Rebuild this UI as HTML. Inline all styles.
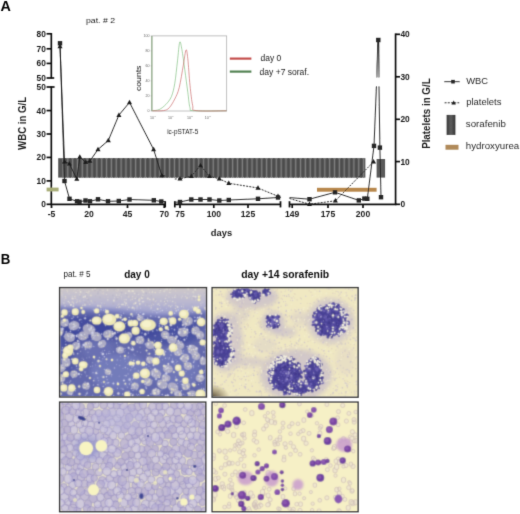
<!DOCTYPE html>
<html><head><meta charset="utf-8"><style>
html,body{margin:0;padding:0;background:#fff;width:520px;height:514px;overflow:hidden}
svg{position:absolute;left:0;top:0;font-family:"Liberation Sans", sans-serif}
.img{position:absolute;box-sizing:border-box;border:1.5px solid #333;overflow:hidden}
</style></head><body>
<svg width="520" height="514" viewBox="0 0 520 514">
<defs><filter id="gb" filterUnits="userSpaceOnUse" x="0" y="0" width="520" height="514"><feConvolveMatrix order="3" kernelMatrix="0.02 0.14 0.02 0.14 1 0.14 0.02 0.14 0.02" edgeMode="duplicate"/></filter></defs>
<rect x="0" y="0" width="520" height="514" fill="#fff"/>
<g filter="url(#gb)">
<text x="0.6" y="10.8" font-size="14" font-weight="bold" text-anchor="start" fill="#000" textLength="10.4" lengthAdjust="spacingAndGlyphs" >A</text>
<text x="86" y="23" font-size="7.6" font-weight="normal" text-anchor="start" fill="#222" textLength="29" lengthAdjust="spacingAndGlyphs" >pat. # 2</text>
<g stroke="#111" stroke-width="1.7" fill="none" stroke-linecap="butt">
<line x1="51.3" y1="33" x2="51.3" y2="78.5"/>
<line x1="51.3" y1="86.5" x2="51.3" y2="205.1"/>
<line x1="46.6" y1="33.8" x2="51.3" y2="33.8"/>
<line x1="46.6" y1="48.8" x2="51.3" y2="48.8"/>
<line x1="46.6" y1="63.4" x2="51.3" y2="63.4"/>
<line x1="46.6" y1="78" x2="54.2" y2="78"/>
<line x1="46.6" y1="87" x2="54.6" y2="87"/>
<line x1="46.6" y1="110.6" x2="51.3" y2="110.6"/>
<line x1="46.6" y1="134.0" x2="51.3" y2="134.0"/>
<line x1="46.6" y1="157.4" x2="51.3" y2="157.4"/>
<line x1="46.6" y1="180.9" x2="51.3" y2="180.9"/>
<line x1="46.6" y1="204.3" x2="51.3" y2="204.3"/>
<line x1="50.8" y1="204.3" x2="165.5" y2="204.3"/>
<line x1="174.5" y1="204.3" x2="280.8" y2="204.3"/>
<line x1="289.2" y1="204.3" x2="396.4" y2="204.3"/>
<line x1="165.2" y1="201.2" x2="165.2" y2="207.4"/>
<line x1="174.8" y1="201.2" x2="174.8" y2="207.4"/>
<line x1="280.5" y1="201.2" x2="280.5" y2="207.4"/>
<line x1="289.5" y1="201.2" x2="289.5" y2="207.4"/>
<line x1="51.5" y1="204.3" x2="51.5" y2="208"/>
<line x1="89" y1="204.3" x2="89" y2="208"/>
<line x1="127.5" y1="204.3" x2="127.5" y2="208"/>
<line x1="164.2" y1="204.3" x2="164.2" y2="208"/>
<line x1="180" y1="204.3" x2="180" y2="208"/>
<line x1="213.8" y1="204.3" x2="213.8" y2="208"/>
<line x1="248" y1="204.3" x2="248" y2="208"/>
<line x1="292.2" y1="204.3" x2="292.2" y2="208"/>
<line x1="328" y1="204.3" x2="328" y2="208"/>
<line x1="363" y1="204.3" x2="363" y2="208"/>
<line x1="395.6" y1="33.4" x2="395.6" y2="205.1"/>
<line x1="395.6" y1="34.3" x2="400" y2="34.3"/>
<line x1="395.6" y1="76.8" x2="400" y2="76.8"/>
<line x1="395.6" y1="119.3" x2="400" y2="119.3"/>
<line x1="395.6" y1="161.6" x2="400" y2="161.6"/>
<line x1="395.6" y1="204.3" x2="400" y2="204.3"/>
</g>
<text x="45.8" y="36.8" font-size="8.4" font-weight="bold" text-anchor="end" fill="#1a1a1a" >80</text>
<text x="45.8" y="51.8" font-size="8.4" font-weight="bold" text-anchor="end" fill="#1a1a1a" >70</text>
<text x="45.8" y="66.4" font-size="8.4" font-weight="bold" text-anchor="end" fill="#1a1a1a" >60</text>
<text x="45.8" y="80.6" font-size="8.4" font-weight="bold" text-anchor="end" fill="#1a1a1a" >50</text>
<text x="45.8" y="90.2" font-size="8.4" font-weight="bold" text-anchor="end" fill="#1a1a1a" >50</text>
<text x="45.8" y="113.6" font-size="8.4" font-weight="bold" text-anchor="end" fill="#1a1a1a" >40</text>
<text x="45.8" y="137.0" font-size="8.4" font-weight="bold" text-anchor="end" fill="#1a1a1a" >30</text>
<text x="45.8" y="160.4" font-size="8.4" font-weight="bold" text-anchor="end" fill="#1a1a1a" >20</text>
<text x="45.8" y="183.9" font-size="8.4" font-weight="bold" text-anchor="end" fill="#1a1a1a" >10</text>
<text x="45.8" y="207.3" font-size="8.4" font-weight="bold" text-anchor="end" fill="#1a1a1a" >0</text>
<text x="51.5" y="217.3" font-size="8.6" font-weight="bold" text-anchor="middle" fill="#1a1a1a" >-5</text>
<text x="89" y="217.3" font-size="8.6" font-weight="bold" text-anchor="middle" fill="#1a1a1a" >20</text>
<text x="127.5" y="217.3" font-size="8.6" font-weight="bold" text-anchor="middle" fill="#1a1a1a" >45</text>
<text x="164.2" y="217.3" font-size="8.6" font-weight="bold" text-anchor="middle" fill="#1a1a1a" >70</text>
<text x="180" y="217.3" font-size="8.6" font-weight="bold" text-anchor="middle" fill="#1a1a1a" >75</text>
<text x="213.8" y="217.3" font-size="8.6" font-weight="bold" text-anchor="middle" fill="#1a1a1a" >100</text>
<text x="248" y="217.3" font-size="8.6" font-weight="bold" text-anchor="middle" fill="#1a1a1a" >125</text>
<text x="292.2" y="217.3" font-size="8.6" font-weight="bold" text-anchor="middle" fill="#1a1a1a" >149</text>
<text x="328" y="217.3" font-size="8.6" font-weight="bold" text-anchor="middle" fill="#1a1a1a" >175</text>
<text x="363" y="217.3" font-size="8.6" font-weight="bold" text-anchor="middle" fill="#1a1a1a" >200</text>
<text x="400.4" y="37.3" font-size="8.4" font-weight="bold" text-anchor="start" fill="#1a1a1a" >40</text>
<text x="400.4" y="79.8" font-size="8.4" font-weight="bold" text-anchor="start" fill="#1a1a1a" >30</text>
<text x="400.4" y="122.3" font-size="8.4" font-weight="bold" text-anchor="start" fill="#1a1a1a" >20</text>
<text x="400.4" y="164.6" font-size="8.4" font-weight="bold" text-anchor="start" fill="#1a1a1a" >10</text>
<text x="400.4" y="207.3" font-size="8.4" font-weight="bold" text-anchor="start" fill="#1a1a1a" >0</text>
<text x="25.9" y="123.4" font-size="10.2" font-weight="bold" text-anchor="middle" fill="#1a1a1a" textLength="53" lengthAdjust="spacingAndGlyphs" transform="rotate(-90 25.9 123.4)" >WBC in G/L</text>
<text x="429.9" y="113.6" font-size="10.4" font-weight="bold" text-anchor="middle" fill="#1a1a1a" textLength="70.5" lengthAdjust="spacingAndGlyphs" transform="rotate(-90 429.9 113.6)" >Platelets in G/L</text>
<text x="210.8" y="235.6" font-size="9.5" font-weight="bold" text-anchor="start" fill="#1a1a1a" textLength="21.3" lengthAdjust="spacingAndGlyphs" >days</text>
<rect x="58.2" y="158.2" width="307.10" height="19.40" fill="#555555"/>
<rect x="62.30" y="158.2" width="1.20" height="19.40" fill="#7c7c7c"/>
<rect x="64.50" y="158.2" width="1.60" height="19.40" fill="#4c4c4c"/>
<rect x="67.15" y="158.2" width="1.20" height="19.40" fill="#7c7c7c"/>
<rect x="69.35" y="158.2" width="1.60" height="19.40" fill="#4c4c4c"/>
<rect x="72.00" y="158.2" width="1.20" height="19.40" fill="#7c7c7c"/>
<rect x="74.20" y="158.2" width="1.60" height="19.40" fill="#4c4c4c"/>
<rect x="76.85" y="158.2" width="1.20" height="19.40" fill="#7c7c7c"/>
<rect x="79.05" y="158.2" width="1.60" height="19.40" fill="#4c4c4c"/>
<rect x="81.70" y="158.2" width="1.20" height="19.40" fill="#7c7c7c"/>
<rect x="83.90" y="158.2" width="1.60" height="19.40" fill="#4c4c4c"/>
<rect x="86.55" y="158.2" width="1.20" height="19.40" fill="#7c7c7c"/>
<rect x="88.75" y="158.2" width="1.60" height="19.40" fill="#4c4c4c"/>
<rect x="91.40" y="158.2" width="1.20" height="19.40" fill="#7c7c7c"/>
<rect x="93.60" y="158.2" width="1.60" height="19.40" fill="#4c4c4c"/>
<rect x="96.25" y="158.2" width="1.20" height="19.40" fill="#7c7c7c"/>
<rect x="98.45" y="158.2" width="1.60" height="19.40" fill="#4c4c4c"/>
<rect x="101.10" y="158.2" width="1.20" height="19.40" fill="#7c7c7c"/>
<rect x="103.30" y="158.2" width="1.60" height="19.40" fill="#4c4c4c"/>
<rect x="105.95" y="158.2" width="1.20" height="19.40" fill="#7c7c7c"/>
<rect x="108.15" y="158.2" width="1.60" height="19.40" fill="#4c4c4c"/>
<rect x="110.80" y="158.2" width="1.20" height="19.40" fill="#7c7c7c"/>
<rect x="113.00" y="158.2" width="1.60" height="19.40" fill="#4c4c4c"/>
<rect x="115.65" y="158.2" width="1.20" height="19.40" fill="#7c7c7c"/>
<rect x="117.85" y="158.2" width="1.60" height="19.40" fill="#4c4c4c"/>
<rect x="120.50" y="158.2" width="1.20" height="19.40" fill="#7c7c7c"/>
<rect x="122.70" y="158.2" width="1.60" height="19.40" fill="#4c4c4c"/>
<rect x="125.35" y="158.2" width="1.20" height="19.40" fill="#7c7c7c"/>
<rect x="127.55" y="158.2" width="1.60" height="19.40" fill="#4c4c4c"/>
<rect x="130.20" y="158.2" width="1.20" height="19.40" fill="#7c7c7c"/>
<rect x="132.40" y="158.2" width="1.60" height="19.40" fill="#4c4c4c"/>
<rect x="135.05" y="158.2" width="1.20" height="19.40" fill="#7c7c7c"/>
<rect x="137.25" y="158.2" width="1.60" height="19.40" fill="#4c4c4c"/>
<rect x="139.90" y="158.2" width="1.20" height="19.40" fill="#7c7c7c"/>
<rect x="142.10" y="158.2" width="1.60" height="19.40" fill="#4c4c4c"/>
<rect x="144.75" y="158.2" width="1.20" height="19.40" fill="#7c7c7c"/>
<rect x="146.95" y="158.2" width="1.60" height="19.40" fill="#4c4c4c"/>
<rect x="149.60" y="158.2" width="1.20" height="19.40" fill="#7c7c7c"/>
<rect x="151.80" y="158.2" width="1.60" height="19.40" fill="#4c4c4c"/>
<rect x="154.45" y="158.2" width="1.20" height="19.40" fill="#7c7c7c"/>
<rect x="156.65" y="158.2" width="1.60" height="19.40" fill="#4c4c4c"/>
<rect x="159.30" y="158.2" width="1.20" height="19.40" fill="#7c7c7c"/>
<rect x="161.50" y="158.2" width="1.60" height="19.40" fill="#4c4c4c"/>
<rect x="164.15" y="158.2" width="1.20" height="19.40" fill="#7c7c7c"/>
<rect x="166.35" y="158.2" width="1.60" height="19.40" fill="#4c4c4c"/>
<rect x="169.00" y="158.2" width="1.20" height="19.40" fill="#7c7c7c"/>
<rect x="171.20" y="158.2" width="1.60" height="19.40" fill="#4c4c4c"/>
<rect x="173.85" y="158.2" width="1.20" height="19.40" fill="#7c7c7c"/>
<rect x="176.05" y="158.2" width="1.60" height="19.40" fill="#4c4c4c"/>
<rect x="178.70" y="158.2" width="1.20" height="19.40" fill="#7c7c7c"/>
<rect x="180.90" y="158.2" width="1.60" height="19.40" fill="#4c4c4c"/>
<rect x="183.55" y="158.2" width="1.20" height="19.40" fill="#7c7c7c"/>
<rect x="185.75" y="158.2" width="1.60" height="19.40" fill="#4c4c4c"/>
<rect x="188.40" y="158.2" width="1.20" height="19.40" fill="#7c7c7c"/>
<rect x="190.60" y="158.2" width="1.60" height="19.40" fill="#4c4c4c"/>
<rect x="193.25" y="158.2" width="1.20" height="19.40" fill="#7c7c7c"/>
<rect x="195.45" y="158.2" width="1.60" height="19.40" fill="#4c4c4c"/>
<rect x="198.10" y="158.2" width="1.20" height="19.40" fill="#7c7c7c"/>
<rect x="200.30" y="158.2" width="1.60" height="19.40" fill="#4c4c4c"/>
<rect x="202.95" y="158.2" width="1.20" height="19.40" fill="#7c7c7c"/>
<rect x="205.15" y="158.2" width="1.60" height="19.40" fill="#4c4c4c"/>
<rect x="207.80" y="158.2" width="1.20" height="19.40" fill="#7c7c7c"/>
<rect x="210.00" y="158.2" width="1.60" height="19.40" fill="#4c4c4c"/>
<rect x="212.65" y="158.2" width="1.20" height="19.40" fill="#7c7c7c"/>
<rect x="214.85" y="158.2" width="1.60" height="19.40" fill="#4c4c4c"/>
<rect x="217.50" y="158.2" width="1.20" height="19.40" fill="#7c7c7c"/>
<rect x="219.70" y="158.2" width="1.60" height="19.40" fill="#4c4c4c"/>
<rect x="222.35" y="158.2" width="1.20" height="19.40" fill="#7c7c7c"/>
<rect x="224.55" y="158.2" width="1.60" height="19.40" fill="#4c4c4c"/>
<rect x="227.20" y="158.2" width="1.20" height="19.40" fill="#7c7c7c"/>
<rect x="229.40" y="158.2" width="1.60" height="19.40" fill="#4c4c4c"/>
<rect x="232.05" y="158.2" width="1.20" height="19.40" fill="#7c7c7c"/>
<rect x="234.25" y="158.2" width="1.60" height="19.40" fill="#4c4c4c"/>
<rect x="236.90" y="158.2" width="1.20" height="19.40" fill="#7c7c7c"/>
<rect x="239.10" y="158.2" width="1.60" height="19.40" fill="#4c4c4c"/>
<rect x="241.75" y="158.2" width="1.20" height="19.40" fill="#7c7c7c"/>
<rect x="243.95" y="158.2" width="1.60" height="19.40" fill="#4c4c4c"/>
<rect x="246.60" y="158.2" width="1.20" height="19.40" fill="#7c7c7c"/>
<rect x="248.80" y="158.2" width="1.60" height="19.40" fill="#4c4c4c"/>
<rect x="251.45" y="158.2" width="1.20" height="19.40" fill="#7c7c7c"/>
<rect x="253.65" y="158.2" width="1.60" height="19.40" fill="#4c4c4c"/>
<rect x="256.30" y="158.2" width="1.20" height="19.40" fill="#7c7c7c"/>
<rect x="258.50" y="158.2" width="1.60" height="19.40" fill="#4c4c4c"/>
<rect x="261.15" y="158.2" width="1.20" height="19.40" fill="#7c7c7c"/>
<rect x="263.35" y="158.2" width="1.60" height="19.40" fill="#4c4c4c"/>
<rect x="266.00" y="158.2" width="1.20" height="19.40" fill="#7c7c7c"/>
<rect x="268.20" y="158.2" width="1.60" height="19.40" fill="#4c4c4c"/>
<rect x="270.85" y="158.2" width="1.20" height="19.40" fill="#7c7c7c"/>
<rect x="273.05" y="158.2" width="1.60" height="19.40" fill="#4c4c4c"/>
<rect x="275.70" y="158.2" width="1.20" height="19.40" fill="#7c7c7c"/>
<rect x="277.90" y="158.2" width="1.60" height="19.40" fill="#4c4c4c"/>
<rect x="280.55" y="158.2" width="1.20" height="19.40" fill="#7c7c7c"/>
<rect x="282.75" y="158.2" width="1.60" height="19.40" fill="#4c4c4c"/>
<rect x="285.40" y="158.2" width="1.20" height="19.40" fill="#7c7c7c"/>
<rect x="287.60" y="158.2" width="1.60" height="19.40" fill="#4c4c4c"/>
<rect x="290.25" y="158.2" width="1.20" height="19.40" fill="#7c7c7c"/>
<rect x="292.45" y="158.2" width="1.60" height="19.40" fill="#4c4c4c"/>
<rect x="295.10" y="158.2" width="1.20" height="19.40" fill="#7c7c7c"/>
<rect x="297.30" y="158.2" width="1.60" height="19.40" fill="#4c4c4c"/>
<rect x="299.95" y="158.2" width="1.20" height="19.40" fill="#7c7c7c"/>
<rect x="302.15" y="158.2" width="1.60" height="19.40" fill="#4c4c4c"/>
<rect x="304.80" y="158.2" width="1.20" height="19.40" fill="#7c7c7c"/>
<rect x="307.00" y="158.2" width="1.60" height="19.40" fill="#4c4c4c"/>
<rect x="309.65" y="158.2" width="1.20" height="19.40" fill="#7c7c7c"/>
<rect x="311.85" y="158.2" width="1.60" height="19.40" fill="#4c4c4c"/>
<rect x="314.50" y="158.2" width="1.20" height="19.40" fill="#7c7c7c"/>
<rect x="316.70" y="158.2" width="1.60" height="19.40" fill="#4c4c4c"/>
<rect x="319.35" y="158.2" width="1.20" height="19.40" fill="#7c7c7c"/>
<rect x="321.55" y="158.2" width="1.60" height="19.40" fill="#4c4c4c"/>
<rect x="324.20" y="158.2" width="1.20" height="19.40" fill="#7c7c7c"/>
<rect x="326.40" y="158.2" width="1.60" height="19.40" fill="#4c4c4c"/>
<rect x="329.05" y="158.2" width="1.20" height="19.40" fill="#7c7c7c"/>
<rect x="331.25" y="158.2" width="1.60" height="19.40" fill="#4c4c4c"/>
<rect x="333.90" y="158.2" width="1.20" height="19.40" fill="#7c7c7c"/>
<rect x="336.10" y="158.2" width="1.60" height="19.40" fill="#4c4c4c"/>
<rect x="338.75" y="158.2" width="1.20" height="19.40" fill="#7c7c7c"/>
<rect x="340.95" y="158.2" width="1.60" height="19.40" fill="#4c4c4c"/>
<rect x="343.60" y="158.2" width="1.20" height="19.40" fill="#7c7c7c"/>
<rect x="345.80" y="158.2" width="1.60" height="19.40" fill="#4c4c4c"/>
<rect x="348.45" y="158.2" width="1.20" height="19.40" fill="#7c7c7c"/>
<rect x="350.65" y="158.2" width="1.60" height="19.40" fill="#4c4c4c"/>
<rect x="353.30" y="158.2" width="1.20" height="19.40" fill="#7c7c7c"/>
<rect x="355.50" y="158.2" width="1.60" height="19.40" fill="#4c4c4c"/>
<rect x="358.15" y="158.2" width="1.20" height="19.40" fill="#7c7c7c"/>
<rect x="360.35" y="158.2" width="1.60" height="19.40" fill="#4c4c4c"/>
<rect x="363.00" y="158.2" width="1.20" height="19.40" fill="#7c7c7c"/>
<rect x="365.20" y="158.2" width="0.10" height="19.40" fill="#4c4c4c"/>
<rect x="376.6" y="159.0" width="8.5" height="18.6" fill="#5a5a5a"/>
<rect x="46.6" y="187.6" width="12" height="3.8" fill="#a8ad78"/>
<rect x="317" y="187.8" width="59.6" height="3.9" fill="#b8884e"/>
<polyline points="60,43.3 64.5,181 69.5,198.8 77,201.3 79.5,201.8 85.5,200.5 90,201.3 98,199.3 108,201.3 118.8,201 129.5,199.5 153.8,200.3 161.3,201.5 165.2,201.6" fill="none" stroke="#1a1a1a" stroke-width="0.9"/>
<polyline points="60,46.5 64.5,161.6 69.4,163.8 76.8,179 79.8,157 85.7,162.3 89.9,161 98,149.4 108.3,140.5 118.9,115.1 129.5,102.4 153.6,149.4 161.8,175.4 165.2,176" fill="none" stroke="#1a1a1a" stroke-width="0.9"/>
<polyline points="174.8,202.2 180,202 191.3,199.5 200.5,199.5 209.5,199.5 219.3,200.5 228.8,200 258,198.8 278,197.5 280.5,197.5" fill="none" stroke="#1a1a1a" stroke-width="0.9"/>
<polyline points="174.8,179 180,178.8 191.3,176.3 200.5,165.5 209.5,176.3 219.3,178.8 228.8,183.3 258,188 278,196.3 280.5,197" fill="none" stroke="#1a1a1a" stroke-width="0.9" stroke-dasharray="2,1.2"/>
<polyline points="289.5,197.6 309.5,199.2 335,192.3 358.8,200.4 364.4,198.6 367.3,198.8 374,145.9 378.3,40 379.9,147.6 381,197.2" fill="none" stroke="#1a1a1a" stroke-width="0.9"/>
<polyline points="289.5,198.5 309.5,204.2 335.4,200.8 373.5,161.8" fill="none" stroke="#1a1a1a" stroke-width="0.9" stroke-dasharray="2,1.2"/>
<defs><linearGradient id="wg" x1="0" y1="0" x2="0" y2="1"><stop offset="0" stop-color="#222"/><stop offset="1" stop-color="#aaa"/></linearGradient></defs>
<polygon points="377.4,42 379.2,42 379.8,77.6 376.0,77.6" fill="url(#wg)"/>
<rect x="370" y="77.5" width="14" height="8.5" fill="#fff"/>
<polygon points="60.00,43.80 57.50,48.30 62.50,48.30" fill="#1a1a1a"/>
<polygon points="64.50,158.90 62.00,163.40 67.00,163.40" fill="#1a1a1a"/>
<polygon points="69.40,161.10 66.90,165.60 71.90,165.60" fill="#1a1a1a"/>
<polygon points="76.80,176.30 74.30,180.80 79.30,180.80" fill="#1a1a1a"/>
<polygon points="79.80,154.30 77.30,158.80 82.30,158.80" fill="#1a1a1a"/>
<polygon points="85.70,159.60 83.20,164.10 88.20,164.10" fill="#1a1a1a"/>
<polygon points="89.90,158.30 87.40,162.80 92.40,162.80" fill="#1a1a1a"/>
<polygon points="98.00,146.70 95.50,151.20 100.50,151.20" fill="#1a1a1a"/>
<polygon points="108.30,137.80 105.80,142.30 110.80,142.30" fill="#1a1a1a"/>
<polygon points="118.90,112.40 116.40,116.90 121.40,116.90" fill="#1a1a1a"/>
<polygon points="129.50,99.70 127.00,104.20 132.00,104.20" fill="#1a1a1a"/>
<polygon points="153.60,146.70 151.10,151.20 156.10,151.20" fill="#1a1a1a"/>
<polygon points="161.80,172.70 159.30,177.20 164.30,177.20" fill="#1a1a1a"/>
<polygon points="180.00,176.10 177.50,180.60 182.50,180.60" fill="#1a1a1a"/>
<polygon points="191.30,173.60 188.80,178.10 193.80,178.10" fill="#1a1a1a"/>
<polygon points="200.50,162.80 198.00,167.30 203.00,167.30" fill="#1a1a1a"/>
<polygon points="209.50,173.60 207.00,178.10 212.00,178.10" fill="#1a1a1a"/>
<polygon points="219.30,176.10 216.80,180.60 221.80,180.60" fill="#1a1a1a"/>
<polygon points="228.80,180.60 226.30,185.10 231.30,185.10" fill="#1a1a1a"/>
<polygon points="258.00,185.30 255.50,189.80 260.50,189.80" fill="#1a1a1a"/>
<polygon points="278.00,193.60 275.50,198.10 280.50,198.10" fill="#1a1a1a"/>
<polygon points="309.50,201.50 307.00,206.00 312.00,206.00" fill="#1a1a1a"/>
<polygon points="335.40,198.10 332.90,202.60 337.90,202.60" fill="#1a1a1a"/>
<polygon points="373.50,159.10 371.00,163.60 376.00,163.60" fill="#1a1a1a"/>
<rect x="57.80" y="41.10" width="4.4" height="4.4" fill="#262626"/>
<rect x="62.30" y="178.80" width="4.4" height="4.4" fill="#262626"/>
<rect x="67.30" y="196.60" width="4.4" height="4.4" fill="#262626"/>
<rect x="74.80" y="199.10" width="4.4" height="4.4" fill="#262626"/>
<rect x="77.30" y="199.60" width="4.4" height="4.4" fill="#262626"/>
<rect x="83.30" y="198.30" width="4.4" height="4.4" fill="#262626"/>
<rect x="87.80" y="199.10" width="4.4" height="4.4" fill="#262626"/>
<rect x="95.80" y="197.10" width="4.4" height="4.4" fill="#262626"/>
<rect x="105.80" y="199.10" width="4.4" height="4.4" fill="#262626"/>
<rect x="116.60" y="198.80" width="4.4" height="4.4" fill="#262626"/>
<rect x="127.30" y="197.30" width="4.4" height="4.4" fill="#262626"/>
<rect x="151.60" y="198.10" width="4.4" height="4.4" fill="#262626"/>
<rect x="159.10" y="199.30" width="4.4" height="4.4" fill="#262626"/>
<rect x="177.80" y="199.80" width="4.4" height="4.4" fill="#262626"/>
<rect x="189.10" y="197.30" width="4.4" height="4.4" fill="#262626"/>
<rect x="198.30" y="197.30" width="4.4" height="4.4" fill="#262626"/>
<rect x="207.30" y="197.30" width="4.4" height="4.4" fill="#262626"/>
<rect x="217.10" y="198.30" width="4.4" height="4.4" fill="#262626"/>
<rect x="226.60" y="197.80" width="4.4" height="4.4" fill="#262626"/>
<rect x="255.80" y="196.60" width="4.4" height="4.4" fill="#262626"/>
<rect x="275.80" y="195.30" width="4.4" height="4.4" fill="#262626"/>
<rect x="307.30" y="197.00" width="4.4" height="4.4" fill="#262626"/>
<rect x="332.80" y="190.10" width="4.4" height="4.4" fill="#262626"/>
<rect x="356.60" y="198.20" width="4.4" height="4.4" fill="#262626"/>
<rect x="362.20" y="196.40" width="4.4" height="4.4" fill="#262626"/>
<rect x="365.10" y="196.60" width="4.4" height="4.4" fill="#262626"/>
<rect x="371.80" y="143.70" width="4.4" height="4.4" fill="#262626"/>
<rect x="376.10" y="37.80" width="4.4" height="4.4" fill="#262626"/>
<rect x="377.70" y="145.40" width="4.4" height="4.4" fill="#262626"/>
<rect x="378.80" y="195.00" width="4.4" height="4.4" fill="#262626"/>
<rect x="151.9" y="35.9" width="74.8" height="75.1" fill="none" stroke="#a8a8a8" stroke-width="0.7"/>
<line x1="151.9" y1="36" x2="151.9" y2="111" stroke="#7aa070" stroke-width="0.9"/>
<text x="149.5" y="37.2" font-size="3.6" font-weight="normal" text-anchor="end" fill="#666" >100</text>
<line x1="150.6" y1="36" x2="151.9" y2="36" stroke="#999" stroke-width="0.5"/>
<text x="149.5" y="52.1" font-size="3.6" font-weight="normal" text-anchor="end" fill="#666" >80</text>
<line x1="150.6" y1="50.9" x2="151.9" y2="50.9" stroke="#999" stroke-width="0.5"/>
<text x="149.5" y="67.10000000000001" font-size="3.6" font-weight="normal" text-anchor="end" fill="#666" >60</text>
<line x1="150.6" y1="65.9" x2="151.9" y2="65.9" stroke="#999" stroke-width="0.5"/>
<text x="149.5" y="82.10000000000001" font-size="3.6" font-weight="normal" text-anchor="end" fill="#666" >40</text>
<line x1="150.6" y1="80.9" x2="151.9" y2="80.9" stroke="#999" stroke-width="0.5"/>
<text x="149.5" y="97.10000000000001" font-size="3.6" font-weight="normal" text-anchor="end" fill="#666" >20</text>
<line x1="150.6" y1="95.9" x2="151.9" y2="95.9" stroke="#999" stroke-width="0.5"/>
<text x="149.5" y="112.10000000000001" font-size="3.6" font-weight="normal" text-anchor="end" fill="#666" >0</text>
<line x1="150.6" y1="110.9" x2="151.9" y2="110.9" stroke="#999" stroke-width="0.5"/>
<text x="152.0" y="118.6" font-size="3.6" font-weight="normal" text-anchor="middle" fill="#666" >10</text>
<text x="154.4" y="116.6" font-size="2.4" font-weight="normal" text-anchor="start" fill="#666" >0</text>
<text x="169.9" y="118.6" font-size="3.6" font-weight="normal" text-anchor="middle" fill="#666" >10</text>
<text x="172.3" y="116.6" font-size="2.4" font-weight="normal" text-anchor="start" fill="#666" >1</text>
<text x="188.9" y="118.6" font-size="3.6" font-weight="normal" text-anchor="middle" fill="#666" >10</text>
<text x="191.3" y="116.6" font-size="2.4" font-weight="normal" text-anchor="start" fill="#666" >2</text>
<text x="206.8" y="118.6" font-size="3.6" font-weight="normal" text-anchor="middle" fill="#666" >10</text>
<text x="209.20000000000002" y="116.6" font-size="2.4" font-weight="normal" text-anchor="start" fill="#666" >3</text>
<text x="141.4" y="78.3" font-size="8.0" font-weight="normal" text-anchor="middle" fill="#111" textLength="25.5" lengthAdjust="spacingAndGlyphs" transform="rotate(-90 141.4 78.3)" >counts</text>
<text x="167.2" y="133.6" font-size="7.4" font-weight="normal" text-anchor="start" fill="#222" textLength="31" lengthAdjust="spacingAndGlyphs" >ic-pSTAT-5</text>
<path d="M152.4,110.7 C153.52,110.52 156.87,110.63 159.1,109.6 C161.33,108.57 163.75,106.67 165.8,104.5 C167.85,102.33 169.90,100.15 171.4,96.6 C172.90,93.05 173.78,89.17 174.8,83.2 C175.82,77.23 176.68,67.63 177.5,60.8 C178.32,53.97 178.97,44.07 179.7,42.2 C180.43,40.33 181.05,45.00 181.9,49.6 C182.75,54.20 183.82,62.70 184.8,69.8 C185.78,76.90 186.93,85.87 187.8,92.2 C188.67,98.53 189.00,104.72 190,107.8 C191.00,110.88 187.72,110.20 193.8,110.7 C199.88,111.20 221.05,110.78 226.5,110.8" fill="none" stroke="#7cbc7c" stroke-width="0.65"/>
<path d="M152.4,110.8 C154.27,110.77 160.80,111.10 163.6,110.6 C166.40,110.10 167.33,109.75 169.2,107.8 C171.07,105.85 173.13,102.25 174.8,98.9 C176.47,95.55 177.78,93.30 179.2,87.7 C180.62,82.10 182.17,71.58 183.3,65.3 C184.43,59.02 185.25,51.12 186,50.0 C186.75,48.88 187.13,52.70 187.8,58.6 C188.47,64.50 189.18,77.57 190,85.4 C190.82,93.23 191.70,101.40 192.7,105.6 C193.70,109.80 190.37,109.73 196,110.6 C201.63,111.47 221.42,110.77 226.5,110.8" fill="none" stroke="#c86464" stroke-width="0.65"/>
<line x1="229.8" y1="58.6" x2="251.4" y2="58.6" stroke="#c4504e" stroke-width="2.2"/>
<line x1="229.8" y1="71.6" x2="251.4" y2="71.6" stroke="#558355" stroke-width="2.2"/>
<text x="260.5" y="61.3" font-size="8.6" font-weight="normal" text-anchor="start" fill="#222" textLength="20.7" lengthAdjust="spacingAndGlyphs" >day 0</text>
<text x="259.6" y="74.8" font-size="8.6" font-weight="normal" text-anchor="start" fill="#222" textLength="49.5" lengthAdjust="spacingAndGlyphs" >day +7 soraf.</text>
<line x1="444.3" y1="81.7" x2="459.7" y2="81.7" stroke="#222" stroke-width="0.9"/>
<rect x="451.20" y="79.90" width="3.6" height="3.6" fill="#262626"/>
<line x1="444.6" y1="102.8" x2="459.2" y2="102.8" stroke="#222" stroke-width="0.9" stroke-dasharray="2,1.2"/>
<polygon points="453.70,100.42 451.50,104.38 455.90,104.38" fill="#1a1a1a"/>
<defs><linearGradient id="sg" x1="0" x2="1"><stop offset="0" stop-color="#3a3a3a"/><stop offset="0.5" stop-color="#5e5e5e"/><stop offset="1" stop-color="#333"/></linearGradient></defs>
<rect x="446.6" y="114.9" width="8.8" height="20" fill="url(#sg)"/>
<rect x="445.5" y="144.8" width="13" height="4.9" fill="#b08a5a"/>
<text x="466.2" y="84.0" font-size="9.3" font-weight="normal" text-anchor="start" fill="#2a2a2a" textLength="21.8" lengthAdjust="spacingAndGlyphs" >WBC</text>
<text x="466.2" y="105.2" font-size="9.3" font-weight="normal" text-anchor="start" fill="#2a2a2a" textLength="35.3" lengthAdjust="spacingAndGlyphs" >platelets</text>
<text x="465.8" y="127.2" font-size="9.3" font-weight="normal" text-anchor="start" fill="#2a2a2a" textLength="40" lengthAdjust="spacingAndGlyphs" >sorafenib</text>
<text x="465.8" y="149.2" font-size="9.3" font-weight="normal" text-anchor="start" fill="#2a2a2a" textLength="53.4" lengthAdjust="spacingAndGlyphs" >hydroxyurea</text>
<text x="0.8" y="264.4" font-size="14" font-weight="bold" text-anchor="start" fill="#000" textLength="9.6" lengthAdjust="spacingAndGlyphs" >B</text>
<text x="63.6" y="276.6" font-size="8.3" font-weight="normal" text-anchor="start" fill="#222" textLength="27.0" lengthAdjust="spacingAndGlyphs" >pat. # 5</text>
<text x="124.2" y="277.8" font-size="10.2" font-weight="bold" text-anchor="start" fill="#111" textLength="25.6" lengthAdjust="spacingAndGlyphs" >day 0</text>
<text x="241.2" y="277.9" font-size="10.4" font-weight="bold" text-anchor="start" fill="#111" textLength="88" lengthAdjust="spacingAndGlyphs" >day +14 sorafenib</text>
<defs><linearGradient id="g1" x1="0" y1="0" x2="0" y2="1"><stop offset="0" stop-color="#d0c9c4"/><stop offset="0.35" stop-color="#c6c2ce"/><stop offset="0.7" stop-color="#b6b4d0"/><stop offset="1" stop-color="#a0a2ce"/></linearGradient><clipPath id="c1"><rect x="60.3" y="288.3" width="145.5" height="108.0"/></clipPath><filter id="b1" x="-5%" y="-5%" width="110%" height="110%"><feConvolveMatrix order="3" kernelMatrix="0.03 0.18 0.03 0.18 1 0.18 0.03 0.18 0.03" edgeMode="duplicate"/></filter><filter id="b1b" x="-5%" y="-5%" width="110%" height="110%"><feGaussianBlur stdDeviation="2.0"/></filter><filter id="b1c" x="-5%" y="-5%" width="110%" height="110%"><feGaussianBlur stdDeviation="1.6"/></filter></defs>
<g clip-path="url(#c1)"><g filter="url(#b1)">
<rect x="58.3" y="286.3" width="149.5" height="112.0" fill="#6369ac"/>
<g filter="url(#b1b)">
<path d="M56,300 L60,309 C80,310 100,311 120,313 C140,316 160,317 180,316 C195,314 205,312 210,311 L210,300 Z" fill="#8e92c8"/>
</g><g filter="url(#b1c)">
<path d="M56,284 L56,305.5 C70,306 90,307 110,308 C130,309.5 140,312 160,313 C180,313 195,310 210,308 L210,284 Z" fill="url(#g1)"/>
</g>
<g filter="url(#b1b)">
<ellipse cx="120" cy="372" rx="30" ry="18" fill="#7a82c0" opacity="0.7"/>
<ellipse cx="175" cy="368" rx="25" ry="20" fill="#7880be" opacity="0.6"/>
<ellipse cx="98" cy="350" rx="15" ry="10" fill="#7078ba" opacity="0.5"/>
<ellipse cx="70" cy="340" rx="10" ry="14" fill="#424a9c" opacity="0.8"/>
<ellipse cx="120" cy="330" rx="40" ry="10" fill="#40489c" opacity="0.8"/>
<ellipse cx="170" cy="335" rx="30" ry="10" fill="#40489c" opacity="0.7"/>
<ellipse cx="85" cy="328" rx="28" ry="12" fill="#40489c" opacity="0.8"/>
<ellipse cx="185" cy="325" rx="18" ry="8" fill="#464ea0" opacity="0.7"/>
<ellipse cx="68" cy="365" rx="8" ry="14" fill="#464e9e" opacity="0.6"/>
</g>
<path d="M126.1 299.7h0M143.6 301.5h0M167.2 301.1h0M85.0 305.3h0M128.9 307.3h0M142.4 301.8h0M190.2 297.2h0M151.3 307.8h0M107.4 290.0h0M76.0 292.6h0M124.7 301.9h0M125.8 293.3h0M149.8 299.6h0M160.3 290.6h0M65.0 306.0h0M116.5 294.9h0M158.0 304.3h0M174.9 297.3h0M68.3 301.4h0M187.3 310.6h0M164.1 291.3h0" stroke="#eeeadb" opacity="0.75" fill="none" stroke-width="1.5" stroke-linecap="round"/>
<path d="M184.7 292.6h0M117.9 297.4h0M136.0 302.3h0M164.2 304.9h0M72.3 296.3h0M124.2 299.7h0M73.9 291.3h0M149.9 299.8h0M137.4 306.1h0M119.3 306.4h0M77.4 301.4h0M117.1 291.4h0M118.9 307.5h0M175.2 303.1h0M175.6 291.1h0M65.2 296.6h0" stroke="#d8d2cc" opacity="0.75" fill="none" stroke-width="1.5" stroke-linecap="round"/>
<path d="M149.6 292.3h0M75.0 289.4h0M172.3 297.7h0M149.1 306.0h0M130.7 300.1h0M76.7 302.6h0M159.9 292.6h0M160.2 308.3h0M194.3 306.9h0M79.6 289.9h0M181.5 306.5h0M171.9 305.4h0M67.6 291.8h0M192.1 298.2h0M77.0 299.8h0M200.9 303.6h0M152.6 291.4h0M73.7 304.0h0M104.5 303.7h0M159.6 305.3h0M200.6 295.7h0M62.1 295.0h0M128.4 291.2h0M187.9 293.9h0M182.2 296.3h0" stroke="#eeeadb" opacity="0.75" fill="none" stroke-width="1" stroke-linecap="round"/>
<path d="M73.5 303.1h0M88.0 292.9h0M153.5 299.1h0M100.8 307.6h0M200.4 288.8h0M62.1 289.6h0M79.9 294.8h0M176.2 310.4h0M175.5 308.6h0M132.0 307.9h0M132.7 296.8h0M148.4 288.9h0M182.6 310.8h0M79.9 300.9h0M74.8 296.4h0M155.3 292.5h0M61.7 292.9h0M75.2 298.2h0M91.3 300.9h0M132.1 299.4h0M82.9 305.4h0M175.9 305.7h0M168.9 305.7h0M87.3 298.6h0M142.9 295.3h0M152.3 292.4h0M84.9 304.4h0M71.0 304.8h0" stroke="#e4dece" opacity="0.75" fill="none" stroke-width="1.5" stroke-linecap="round"/>
<path d="M151.0 306.1h0M116.5 307.5h0M202.1 302.3h0M155.4 301.6h0M193.8 293.0h0M120.2 293.3h0M166.6 295.3h0M155.1 292.7h0M175.4 295.5h0M151.7 305.4h0M130.3 292.2h0M171.1 310.1h0M127.7 305.2h0M139.9 304.8h0M68.9 293.9h0M62.8 296.9h0M183.4 307.0h0M104.8 297.4h0M170.1 300.7h0M65.6 296.6h0M64.2 300.1h0M136.1 297.1h0M121.6 290.8h0M89.8 304.5h0" stroke="#e4dece" opacity="0.75" fill="none" stroke-width="1" stroke-linecap="round"/>
<path d="M107.8 299.9h0M118.1 289.8h0M165.1 289.8h0M160.9 301.1h0M63.9 303.1h0M198.1 300.0h0M69.6 302.8h0M134.6 293.5h0M135.2 298.6h0M172.7 301.4h0M165.5 298.6h0M165.8 303.7h0M169.9 292.5h0M193.1 292.0h0M125.4 305.1h0M170.7 306.7h0M92.5 289.4h0M164.7 301.4h0M192.4 307.1h0M135.4 303.2h0M121.6 304.6h0M88.9 291.7h0M86.6 292.5h0" stroke="#e8e4d6" opacity="0.75" fill="none" stroke-width="1.5" stroke-linecap="round"/>
<path d="M106.2 292.8h0M99.6 290.0h0M204.2 293.3h0M95.4 296.1h0M116.2 300.0h0M88.2 299.9h0M62.0 293.3h0M159.6 308.2h0M100.0 306.9h0M101.6 302.2h0M67.6 306.1h0M155.4 309.7h0M114.0 290.2h0M132.3 304.1h0M81.1 294.9h0M177.1 295.2h0M100.1 290.3h0M83.2 291.2h0M89.4 302.1h0M129.8 296.9h0M126.2 294.3h0M104.9 297.2h0" stroke="#b4b0c4" opacity="0.75" fill="none" stroke-width="1" stroke-linecap="round"/>
<path d="M142.2 290.6h0M187.0 297.9h0M90.9 295.4h0M170.2 289.3h0M132.2 291.1h0M153.5 299.6h0M142.4 298.0h0" stroke="#e4dece" opacity="0.75" fill="none" stroke-width="2" stroke-linecap="round"/>
<path d="M195.2 289.5h0M193.4 296.5h0M135.5 303.3h0M129.1 290.9h0M188.2 288.8h0M157.6 309.0h0M139.2 300.8h0M72.4 298.6h0M177.6 307.1h0M198.2 307.0h0M94.9 288.5h0M70.9 305.0h0M195.5 296.7h0M205.0 308.1h0M85.3 296.6h0M132.8 307.6h0M73.4 306.2h0" stroke="#eeeadb" opacity="0.75" fill="none" stroke-width="2" stroke-linecap="round"/>
<path d="M120.0 306.9h0M73.4 298.9h0M114.0 299.7h0M198.5 294.8h0M173.7 288.8h0M106.3 294.5h0M181.4 297.9h0M185.6 296.5h0M114.6 297.8h0M169.0 297.0h0M121.6 296.8h0M83.9 300.2h0M158.9 303.7h0M103.0 290.3h0M138.7 294.5h0M119.0 304.0h0M153.5 304.7h0M119.3 295.1h0M101.8 303.0h0M195.5 299.9h0" stroke="#e8e4d6" opacity="0.75" fill="none" stroke-width="1" stroke-linecap="round"/>
<path d="M141.7 297.7h0M113.9 300.7h0M139.8 303.8h0M147.8 298.5h0M123.0 304.6h0M100.3 306.1h0M205.6 309.3h0M97.9 305.8h0M83.6 297.1h0M143.5 292.1h0M139.4 299.3h0M80.5 292.1h0M133.1 291.2h0M126.1 303.2h0M167.1 288.9h0" stroke="#e8e4d6" opacity="0.75" fill="none" stroke-width="2" stroke-linecap="round"/>
<path d="M121.5 292.6h0M152.0 302.4h0M80.2 305.2h0M88.1 299.3h0M86.0 302.5h0M193.4 297.8h0M116.9 298.9h0M151.6 308.4h0M166.1 301.8h0M113.2 303.4h0M147.2 304.3h0M197.1 308.8h0M104.8 304.3h0M146.1 293.2h0" stroke="#b4b0c4" opacity="0.75" fill="none" stroke-width="2" stroke-linecap="round"/>
<path d="M117.7 305.4h0M82.7 305.2h0M87.9 302.2h0M198.5 308.9h0M192.0 299.7h0M139.1 299.2h0M61.9 293.6h0M71.2 288.9h0M136.4 305.9h0M158.0 309.0h0M184.1 310.4h0M118.6 304.4h0M196.4 309.7h0M132.9 298.6h0M107.9 297.5h0M61.8 294.6h0M156.3 300.6h0M121.5 299.0h0M201.1 305.5h0M145.4 305.2h0M92.4 302.9h0M89.1 295.1h0M204.8 294.6h0M183.2 304.7h0M115.9 290.3h0M75.8 295.2h0M77.4 290.4h0M118.1 295.5h0M152.7 303.3h0M101.7 293.2h0" stroke="#d8d2cc" opacity="0.75" fill="none" stroke-width="1" stroke-linecap="round"/>
<path d="M67.2 290.3h0M133.9 304.0h0M65.7 298.2h0M88.7 291.4h0M134.2 308.4h0M72.4 301.9h0M139.4 300.1h0M128.7 296.7h0M103.3 293.6h0" stroke="#d8d2cc" opacity="0.75" fill="none" stroke-width="2" stroke-linecap="round"/>
<path d="M95.0 301.8h0M80.4 296.6h0M194.7 299.3h0M204.8 309.1h0M163.4 300.8h0M86.4 293.4h0M155.3 299.2h0M191.2 310.9h0M86.7 296.8h0M87.2 303.3h0M97.9 293.6h0M137.5 298.4h0M159.9 289.5h0M153.4 303.0h0M137.5 309.1h0M95.0 290.5h0M151.2 296.0h0M191.6 304.2h0M112.9 295.6h0M127.1 295.5h0M190.5 297.6h0M197.4 301.2h0M100.1 297.4h0M98.2 291.9h0M84.8 302.3h0M78.1 303.5h0M142.5 296.9h0M136.9 293.3h0M173.3 308.6h0" stroke="#b4b0c4" opacity="0.75" fill="none" stroke-width="1.5" stroke-linecap="round"/>
<ellipse cx="89" cy="329.3" rx="6.4" ry="5.0" transform="rotate(23 89 329.3)" fill="#b2b0c6" opacity="0.92"/>
<ellipse cx="73.9" cy="325.7" rx="5.5" ry="4.5" transform="rotate(-14 73.9 325.7)" fill="#b2b0c6" opacity="0.92"/>
<ellipse cx="64.5" cy="322.8" rx="4.4" ry="4.0" transform="rotate(-27 64.5 322.8)" fill="#b2b0c6" opacity="0.92"/>
<ellipse cx="69.5" cy="337.2" rx="5.5" ry="4.5" transform="rotate(21 69.5 337.2)" fill="#b2b0c6" opacity="0.92"/>
<ellipse cx="83.2" cy="335.8" rx="5.5" ry="4.5" transform="rotate(-20 83.2 335.8)" fill="#b2b0c6" opacity="0.92"/>
<ellipse cx="96.2" cy="336.5" rx="5.5" ry="4.5" transform="rotate(18 96.2 336.5)" fill="#b2b0c6" opacity="0.92"/>
<ellipse cx="108.5" cy="334.3" rx="5.5" ry="4.3" transform="rotate(-4 108.5 334.3)" fill="#b2b0c6" opacity="0.92"/>
<ellipse cx="187.5" cy="321.3" rx="5.5" ry="4.5" transform="rotate(-21 187.5 321.3)" fill="#b2b0c6" opacity="0.92"/>
<ellipse cx="183.2" cy="332.2" rx="5.5" ry="4.5" transform="rotate(-11 183.2 332.2)" fill="#b2b0c6" opacity="0.92"/>
<ellipse cx="195.5" cy="330.7" rx="4.4" ry="4.0" transform="rotate(-35 195.5 330.7)" fill="#b2b0c6" opacity="0.92"/>
<ellipse cx="165.2" cy="335" rx="4.4" ry="4.0" transform="rotate(38 165.2 335)" fill="#b2b0c6" opacity="0.92"/>
<ellipse cx="155.8" cy="373.5" rx="5.5" ry="4.5" transform="rotate(31 155.8 373.5)" fill="#b2b0c6" opacity="0.92"/>
<ellipse cx="162.3" cy="384.3" rx="5.5" ry="4.5" transform="rotate(24 162.3 384.3)" fill="#b2b0c6" opacity="0.92"/>
<ellipse cx="173.1" cy="387.2" rx="5.5" ry="4.5" transform="rotate(32 173.1 387.2)" fill="#b2b0c6" opacity="0.92"/>
<ellipse cx="168" cy="369.1" rx="5.0" ry="4.0" transform="rotate(6 168 369.1)" fill="#b2b0c6" opacity="0.92"/>
<ellipse cx="192.6" cy="349.7" rx="5.5" ry="4.5" transform="rotate(35 192.6 349.7)" fill="#b2b0c6" opacity="0.92"/>
<ellipse cx="196" cy="356" rx="4.4" ry="4.0" transform="rotate(35 196 356)" fill="#b2b0c6" opacity="0.92"/>
<ellipse cx="66" cy="362" rx="4.4" ry="5.0" transform="rotate(-28 66 362)" fill="#b2b0c6" opacity="0.92"/>
<ellipse cx="62" cy="368" rx="3.3" ry="4.0" transform="rotate(22 62 368)" fill="#b2b0c6" opacity="0.92"/>
<ellipse cx="88" cy="345" rx="4.4" ry="3.5" transform="rotate(-4 88 345)" fill="#b2b0c6" opacity="0.92"/>
<ellipse cx="150" cy="345" rx="4.4" ry="4.0" transform="rotate(1 150 345)" fill="#b2b0c6" opacity="0.92"/>
<ellipse cx="185" cy="358" rx="4.4" ry="4.0" transform="rotate(-38 185 358)" fill="#b2b0c6" opacity="0.92"/>
<ellipse cx="112" cy="322" rx="3.3" ry="3.0" transform="rotate(9 112 322)" fill="#b2b0c6" opacity="0.92"/>
<ellipse cx="140" cy="318" rx="3.3" ry="3.0" transform="rotate(35 140 318)" fill="#b2b0c6" opacity="0.92"/>
<ellipse cx="128" cy="336" rx="4.4" ry="3.5" transform="rotate(-33 128 336)" fill="#b2b0c6" opacity="0.92"/>
<ellipse cx="140" cy="340" rx="4.4" ry="4.0" transform="rotate(23 140 340)" fill="#b2b0c6" opacity="0.92"/>
<ellipse cx="172" cy="340" rx="5.0" ry="4.0" transform="rotate(22 172 340)" fill="#b2b0c6" opacity="0.92"/>
<ellipse cx="180" cy="345" rx="4.4" ry="3.5" transform="rotate(37 180 345)" fill="#b2b0c6" opacity="0.92"/>
<ellipse cx="200" cy="335" rx="4.4" ry="4.0" transform="rotate(34 200 335)" fill="#b2b0c6" opacity="0.92"/>
<ellipse cx="102" cy="344" rx="4.4" ry="3.5" transform="rotate(-39 102 344)" fill="#b2b0c6" opacity="0.92"/>
<ellipse cx="76" cy="346" rx="4.4" ry="4.0" transform="rotate(-8 76 346)" fill="#b2b0c6" opacity="0.92"/>
<ellipse cx="60" cy="332" rx="3.3" ry="4.0" transform="rotate(23 60 332)" fill="#b2b0c6" opacity="0.92"/>
<ellipse cx="148" cy="382" rx="4.4" ry="4.0" transform="rotate(-2 148 382)" fill="#b2b0c6" opacity="0.92"/>
<ellipse cx="135" cy="386" rx="3.9" ry="3.5" transform="rotate(-14 135 386)" fill="#b2b0c6" opacity="0.92"/>
<ellipse cx="186" cy="386" rx="4.4" ry="4.0" transform="rotate(-13 186 386)" fill="#b2b0c6" opacity="0.92"/>
<ellipse cx="120" cy="350" rx="3.9" ry="3.5" transform="rotate(13 120 350)" fill="#b2b0c6" opacity="0.92"/>
<ellipse cx="203" cy="361" rx="3.3" ry="4.0" transform="rotate(-10 203 361)" fill="#b2b0c6" opacity="0.92"/>
<ellipse cx="178" cy="352" rx="4.4" ry="4.0" transform="rotate(3 178 352)" fill="#b2b0c6" opacity="0.92"/>
<ellipse cx="188" cy="366" rx="4.4" ry="4.0" transform="rotate(24 188 366)" fill="#b2b0c6" opacity="0.92"/>
<ellipse cx="200" cy="378" rx="4.4" ry="4.0" transform="rotate(-9 200 378)" fill="#b2b0c6" opacity="0.92"/>
<ellipse cx="166" cy="378" rx="4.4" ry="3.5" transform="rotate(18 166 378)" fill="#b2b0c6" opacity="0.92"/>
<ellipse cx="156" cy="392" rx="4.4" ry="3.5" transform="rotate(-0 156 392)" fill="#b2b0c6" opacity="0.92"/>
<ellipse cx="178" cy="394" rx="4.4" ry="3.5" transform="rotate(39 178 394)" fill="#b2b0c6" opacity="0.92"/>
<ellipse cx="192" cy="394" rx="3.9" ry="3.5" transform="rotate(-3 192 394)" fill="#b2b0c6" opacity="0.92"/>
<ellipse cx="62" cy="378" rx="3.3" ry="4.0" transform="rotate(5 62 378)" fill="#b2b0c6" opacity="0.92"/>
<ellipse cx="74" cy="374" rx="3.9" ry="3.5" transform="rotate(11 74 374)" fill="#b2b0c6" opacity="0.92"/>
<ellipse cx="70" cy="392" rx="3.3" ry="3.0" transform="rotate(24 70 392)" fill="#b2b0c6" opacity="0.92"/>
<ellipse cx="86" cy="386" rx="3.9" ry="3.5" transform="rotate(17 86 386)" fill="#b2b0c6" opacity="0.92"/>
<ellipse cx="150" cy="360" rx="3.9" ry="3.5" transform="rotate(23 150 360)" fill="#b2b0c6" opacity="0.92"/>
<ellipse cx="108" cy="372" rx="3.3" ry="3.0" transform="rotate(3 108 372)" fill="#b2b0c6" opacity="0.92"/>
<path d="M89.1 329.3h0M74.7 326.4h0M73.4 326.9h0M68.5 336.2h0M71.2 337.6h0M107.6 336.6h0M109.6 331.7h0M193.1 332.5h0M165.8 366.3h0M189.4 352.0h0M86.1 344.8h0M111.4 320.7h0M139.1 316.3h0M141.6 337.2h0M199.3 334.0h0M101.2 342.8h0M148.8 381.3h0M187.1 385.2h0M118.3 349.5h0M202.6 359.0h0M177.9 352.3h0M154.0 392.9h0M180.4 396.3h0M175.8 393.9h0M189.7 393.6h0M60.9 380.4h0M71.3 394.0h0M83.8 387.5h0M151.8 360.3h0" stroke="#cccee2" opacity="0.85" fill="none" stroke-width="2" stroke-linecap="round"/>
<path d="M92.9 331.0h0M90.4 329.6h0M71.2 323.7h0M63.5 322.6h0M67.1 320.2h0M67.2 320.8h0M67.2 320.0h0M66.9 325.4h0M71.1 335.5h0M81.6 338.6h0M81.0 334.3h0M98.7 335.8h0M94.2 335.9h0M93.7 337.8h0M185.4 323.0h0M189.6 321.2h0M194.0 330.7h0M166.0 334.2h0M154.5 375.7h0M152.7 371.9h0M155.0 374.9h0M163.4 387.3h0M176.5 386.5h0M195.2 352.8h0M189.9 347.0h0M195.9 357.9h0M66.0 361.3h0M62.1 365.3h0M63.4 368.0h0M88.7 343.5h0M187.7 356.4h0M182.3 357.1h0M113.3 321.6h0M140.6 317.4h0M139.8 319.9h0M127.2 335.4h0M127.8 335.1h0M139.3 338.0h0M140.7 341.4h0M172.2 339.5h0M180.7 344.5h0M178.9 343.6h0M182.3 344.2h0M197.7 335.7h0M202.5 335.1h0M101.3 343.0h0M73.2 347.3h0M60.7 333.7h0M61.8 330.4h0M145.4 381.6h0M136.0 384.7h0M134.4 387.1h0M132.9 384.4h0M118.9 348.9h0M121.7 350.5h0M118.3 351.2h0M120.7 350.2h0M204.0 363.5h0M198.2 379.0h0M198.9 375.6h0M165.3 377.0h0M158.2 392.8h0M176.2 392.2h0M178.0 392.3h0M190.4 396.3h0M63.1 380.4h0M68.5 391.2h0M106.2 370.1h0" stroke="#cccee2" opacity="0.85" fill="none" stroke-width="1.5" stroke-linecap="round"/>
<path d="M91.3 327.0h0M91.4 327.5h0M91.9 330.0h0M89.8 330.8h0M74.1 324.2h0M75.0 325.8h0M67.5 335.1h0M84.7 334.3h0M92.8 335.4h0M93.0 334.3h0M106.6 333.0h0M183.7 330.7h0M193.8 329.2h0M166.9 333.4h0M164.0 336.4h0M159.7 383.5h0M171.2 388.6h0M171.6 389.5h0M166.6 368.5h0M167.9 368.3h0M165.3 367.3h0M168.7 370.9h0M191.3 349.9h0M196.7 355.7h0M67.0 365.1h0M148.3 343.8h0M186.0 357.8h0M113.9 320.2h0M138.3 318.7h0M127.6 334.7h0M139.9 342.2h0M137.8 339.5h0M169.4 342.8h0M199.4 335.8h0M101.5 343.0h0M77.8 347.6h0M78.8 345.9h0M76.3 348.4h0M59.6 333.1h0M148.1 381.9h0M188.0 387.3h0M119.0 350.3h0M201.4 363.5h0M201.7 360.3h0M175.7 354.2h0M190.4 363.7h0M185.8 364.9h0M200.8 380.4h0M167.0 379.4h0M167.0 378.0h0M153.6 390.3h0M192.5 395.7h0M62.8 376.6h0M74.7 371.6h0M74.4 374.6h0M76.3 372.9h0M152.1 358.7h0M150.1 359.1h0M108.3 371.2h0M106.2 370.3h0M109.5 373.5h0" stroke="#dcdad8" opacity="0.85" fill="none" stroke-width="1.5" stroke-linecap="round"/>
<path d="M73.5 324.2h0M65.6 324.7h0M72.5 335.2h0M186.2 323.9h0M195.6 333.1h0M166.5 337.1h0M157.1 371.5h0M67.6 364.7h0M85.8 343.5h0M147.8 344.7h0M148.2 344.1h0M129.1 338.4h0M137.3 342.0h0M76.7 348.3h0M133.1 385.1h0M202.2 358.2h0M179.1 354.5h0M188.1 366.4h0M200.1 376.6h0M163.6 375.9h0M163.6 380.3h0M155.3 389.9h0M158.4 391.2h0M153.9 390.9h0M189.8 393.5h0M147.7 358.3h0M147.7 358.9h0" stroke="#dcdad8" opacity="0.85" fill="none" stroke-width="2" stroke-linecap="round"/>
<path d="M75.9 324.0h0M68.7 339.0h0M83.1 336.6h0M187.5 319.9h0M180.1 331.6h0M165.8 386.6h0M163.9 387.4h0M171.1 368.6h0M193.3 356.4h0M198.3 355.0h0M65.3 359.8h0M65.0 363.8h0M65.6 365.2h0M86.8 342.8h0M87.5 346.8h0M149.2 343.4h0M151.9 342.9h0M138.0 318.5h0M125.5 334.6h0M171.5 337.5h0M180.8 346.7h0M99.5 342.5h0M58.5 334.5h0M137.4 385.3h0M183.8 385.2h0M121.3 348.8h0M180.0 354.4h0M202.2 376.6h0M179.3 394.9h0M69.4 390.1h0M69.3 390.7h0" stroke="#e0dcc0" opacity="0.85" fill="none" stroke-width="1" stroke-linecap="round"/>
<path d="M62.5 322.2h0M85.3 337.7h0M81.2 335.6h0M97.4 335.3h0M110.0 333.7h0M106.0 336.4h0M188.4 318.7h0M185.7 318.7h0M185.6 330.9h0M180.2 329.3h0M184.2 331.5h0M184.1 333.0h0M193.1 330.5h0M192.9 328.7h0M166.3 336.7h0M158.2 375.6h0M156.8 371.1h0M160.7 382.7h0M194.8 351.5h0M197.3 356.0h0M61.3 367.7h0M62.8 367.7h0M89.8 346.5h0M85.6 346.8h0M183.2 355.9h0M182.4 356.8h0M110.7 320.2h0M110.4 320.3h0M110.9 322.3h0M139.5 319.0h0M138.5 319.7h0M130.8 333.9h0M142.4 340.1h0M198.6 334.3h0M197.8 334.3h0M99.5 342.0h0M103.7 346.2h0M59.8 333.4h0M149.1 382.0h0M149.5 380.0h0M189.9 365.5h0M200.1 377.1h0M198.0 376.6h0M165.5 380.4h0M190.3 393.8h0M61.4 380.1h0M61.7 378.5h0M74.0 376.1h0M74.9 374.8h0M72.9 371.8h0M69.0 393.7h0M68.9 393.0h0M85.2 387.4h0M84.3 384.8h0M85.1 384.5h0M86.8 385.7h0M107.3 371.1h0M109.8 371.4h0" stroke="#e0dcc0" opacity="0.85" fill="none" stroke-width="1.5" stroke-linecap="round"/>
<path d="M72.0 336.7h0M98.1 334.2h0M179.9 333.5h0M175.4 389.4h0M191.3 349.8h0M194.4 354.2h0M196.3 357.0h0M67.9 363.8h0M187.5 358.9h0M128.9 334.3h0M169.9 337.8h0M179.5 342.6h0M74.5 344.6h0M60.7 332.3h0M149.5 381.0h0M183.7 387.6h0M201.2 361.9h0M165.5 378.8h0M157.7 391.1h0M180.5 391.9h0M193.3 393.5h0M192.7 393.8h0M73.1 374.7h0M148.7 360.6h0M107.9 373.0h0" stroke="#dcdad8" opacity="0.85" fill="none" stroke-width="1" stroke-linecap="round"/>
<path d="M81.1 335.1h0M195.5 330.5h0M167.8 336.8h0M165.4 387.3h0M165.3 387.4h0M170.4 386.1h0M169.9 368.5h0M61.5 368.8h0M62.0 368.4h0M62.3 368.1h0M147.6 345.0h0M172.4 337.9h0M170.8 339.2h0M174.0 340.0h0M181.3 346.0h0M182.8 345.3h0M197.5 336.9h0M101.5 346.3h0M76.7 347.0h0M134.8 385.9h0M204.0 363.2h0M177.6 353.0h0M177.2 352.0h0M175.8 350.0h0M187.5 364.0h0M88.1 386.7h0M88.4 386.6h0" stroke="#cccee2" opacity="0.85" fill="none" stroke-width="1" stroke-linecap="round"/>
<path d="M109.0 336.2h0M109.8 335.3h0M187.5 321.2h0M164.3 334.1h0M155.7 371.4h0M171.8 389.1h0M173.5 389.7h0M189.5 348.8h0M152.6 342.6h0M187.6 358.3h0M110.8 322.9h0M61.0 333.9h0M147.4 382.4h0M134.6 383.8h0M184.0 388.5h0M187.5 386.5h0M187.7 386.6h0M190.8 366.4h0M185.2 363.6h0M179.8 393.7h0M60.6 378.0h0M62.4 376.1h0M71.3 390.6h0M149.2 362.1h0" stroke="#e0dcc0" opacity="0.85" fill="none" stroke-width="2" stroke-linecap="round"/>
<path d="M119.5 328.8h0M198.8 325.1h0M134.3 344.2h0M91.2 334.4h0M159.4 344.0h0M139.7 322.9h0M153.0 310.4h0M174.9 386.3h0M187.2 328.0h0M68.1 376.8h0M176.2 362.8h0M105.4 384.1h0M204.3 389.4h0M92.3 366.0h0M136.4 394.2h0M160.9 390.6h0M153.9 361.7h0M133.0 375.6h0M93.1 346.5h0M67.1 382.7h0M76.6 325.7h0M89.2 357.2h0M100.3 395.5h0M93.7 310.6h0M147.8 353.0h0M138.7 339.7h0M71.9 367.9h0M143.1 316.7h0M125.0 334.1h0M166.3 308.3h0M191.3 377.8h0M193.7 326.4h0M121.3 321.9h0M183.4 350.9h0M85.9 394.1h0M175.7 377.1h0M177.1 336.8h0M85.9 365.9h0M129.2 319.3h0M124.9 375.6h0M89.4 341.4h0M85.2 395.5h0M138.7 340.6h0M77.0 310.6h0M200.1 344.1h0M165.6 378.9h0M76.1 308.3h0M85.0 381.9h0M127.6 387.2h0M183.6 394.2h0M111.2 376.1h0M66.5 385.7h0M183.9 385.8h0M177.2 361.5h0M199.5 309.3h0M177.6 327.1h0M125.1 348.5h0M133.9 320.9h0M183.2 353.2h0M82.7 309.4h0M101.0 361.6h0M181.7 394.6h0M186.0 371.6h0M159.0 357.2h0M102.9 358.8h0M72.7 328.1h0M123.6 328.7h0M195.1 317.3h0M131.7 393.5h0M169.8 350.9h0M205.3 348.2h0M172.1 351.5h0M170.2 345.9h0M167.8 321.8h0M192.3 393.2h0M148.1 354.4h0M192.0 354.6h0M61.8 332.6h0M93.7 384.7h0M112.9 322.2h0M102.5 377.3h0M71.1 345.3h0M104.5 324.1h0M134.0 354.2h0M160.5 311.1h0M158.6 380.8h0M106.3 388.5h0M183.1 370.7h0M127.2 322.6h0M65.3 368.3h0M201.6 388.8h0M154.5 362.2h0M112.5 331.5h0M183.6 387.7h0M174.1 364.0h0M94.7 358.8h0M140.8 328.6h0M62.8 347.6h0M132.7 379.4h0M126.7 340.4h0M113.6 351.8h0M65.7 341.3h0M146.7 387.3h0M169.9 333.9h0M69.2 315.3h0" stroke="#cfd2ec" opacity="0.7" fill="none" stroke-width="1" stroke-linecap="round"/>
<path d="M78.0 346.2h0M87.0 393.6h0M166.0 336.2h0M150.8 315.9h0M69.0 359.5h0M81.9 335.5h0M185.4 326.7h0M162.3 310.4h0M132.0 367.1h0M85.5 349.0h0M152.6 373.4h0M161.4 341.6h0M162.2 394.5h0M132.6 315.9h0M72.0 318.4h0M79.5 320.0h0M179.1 329.1h0M146.4 364.2h0M121.3 315.3h0M201.8 339.8h0M120.0 321.8h0M154.3 349.8h0M77.7 353.8h0M70.4 331.6h0M174.6 313.2h0M159.3 326.0h0M133.5 378.0h0M80.9 334.6h0M105.6 309.7h0M204.4 392.0h0M142.8 314.6h0M125.3 367.6h0M82.1 347.1h0M181.8 320.1h0M146.3 319.8h0M186.5 361.8h0M198.8 376.5h0M79.3 374.0h0M131.3 349.7h0M198.7 335.7h0M138.4 371.1h0M146.7 364.8h0M131.4 388.5h0M104.3 356.7h0M122.1 320.1h0M193.6 362.3h0M87.3 325.7h0M97.9 384.8h0M195.1 349.6h0M171.3 351.5h0M184.3 328.3h0M203.9 351.9h0M188.4 395.1h0M152.3 374.7h0M145.3 343.9h0M126.1 375.7h0M122.6 394.1h0M156.0 388.4h0M165.5 351.7h0M155.5 354.6h0M130.0 333.3h0M188.1 359.0h0M151.0 394.1h0M160.6 322.9h0M65.9 344.5h0M63.8 350.1h0M72.9 377.6h0M121.9 339.2h0M165.9 369.2h0M129.4 383.9h0M187.2 346.4h0M178.3 310.1h0M69.2 324.1h0" stroke="#dcdef2" opacity="0.7" fill="none" stroke-width="1.5" stroke-linecap="round"/>
<path d="M141.1 364.6h0M97.8 377.9h0M198.5 365.9h0M103.9 392.4h0M117.2 360.1h0M134.4 309.9h0M107.1 379.7h0M148.3 338.7h0M100.0 366.9h0M137.7 317.9h0M133.0 390.6h0M70.6 381.0h0M79.5 341.9h0M194.8 317.5h0M202.9 373.4h0M165.4 383.6h0M196.1 320.3h0M159.8 356.4h0M145.0 384.2h0M91.1 347.0h0M74.2 323.0h0M183.5 378.6h0M197.4 378.7h0M202.4 323.7h0M175.8 352.7h0M65.2 334.1h0M118.3 314.8h0M70.7 329.7h0M124.0 352.1h0M61.4 359.3h0M93.0 372.8h0M130.5 370.1h0M94.8 329.4h0M194.9 382.3h0M123.6 313.2h0M157.5 361.5h0M147.3 345.3h0M134.6 331.7h0M183.3 376.0h0M181.8 384.3h0M149.4 362.9h0M102.4 346.1h0M170.4 385.9h0M113.6 395.6h0M179.3 373.3h0M71.0 347.3h0M62.6 310.5h0M173.3 320.5h0M148.2 333.1h0M87.2 392.2h0M131.1 382.0h0M185.5 331.4h0M129.5 339.9h0M164.7 325.5h0M142.0 333.1h0M194.2 372.7h0M92.2 339.3h0M134.8 321.0h0M172.3 333.4h0M129.9 348.7h0M104.5 369.5h0M155.1 335.7h0M159.1 312.1h0M71.1 390.6h0M69.1 311.2h0M157.3 330.2h0M128.1 374.0h0M162.1 330.8h0M99.3 314.7h0M169.4 357.9h0M197.2 332.0h0M204.5 370.7h0M137.5 388.5h0M201.6 389.1h0M171.0 354.9h0M202.9 341.6h0M154.5 310.2h0M111.2 320.4h0M95.1 310.4h0M86.6 375.9h0M111.7 374.5h0M80.9 319.4h0M150.4 343.0h0" stroke="#b8bce0" opacity="0.7" fill="none" stroke-width="1.5" stroke-linecap="round"/>
<path d="M145.6 345.1h0M87.9 375.6h0M66.3 313.1h0M96.6 323.7h0M147.6 384.1h0M146.4 331.7h0M193.7 381.8h0M193.8 367.6h0M171.0 371.8h0M81.8 322.3h0M158.4 393.5h0M125.2 361.4h0M73.7 320.8h0M200.3 376.7h0M137.8 359.4h0M196.7 326.4h0M122.5 388.4h0M116.6 339.7h0M115.8 323.6h0M105.7 309.7h0M107.5 364.4h0M85.6 373.7h0M179.9 372.9h0M73.4 359.4h0M99.8 315.5h0M74.3 374.2h0M145.0 329.9h0M73.2 383.8h0M73.7 395.2h0M98.6 385.8h0M82.0 330.3h0M174.5 333.4h0M62.4 347.8h0M131.6 346.8h0M109.9 336.3h0M112.2 333.8h0M102.3 392.3h0M152.0 358.7h0M70.0 313.0h0M143.3 336.5h0M139.6 395.8h0M142.3 366.3h0" stroke="#cfd2ec" opacity="0.7" fill="none" stroke-width="0.5" stroke-linecap="round"/>
<path d="M140.4 308.2h0M124.0 319.3h0M150.4 326.4h0M131.1 359.9h0M77.7 334.9h0M188.3 348.1h0M202.4 377.4h0M71.2 328.0h0M138.7 394.5h0M168.9 359.1h0M80.2 376.9h0M137.2 351.7h0M115.6 332.2h0M101.2 352.6h0M69.4 382.3h0M121.1 388.3h0M128.6 353.2h0M101.8 334.2h0M133.2 328.0h0M138.0 337.7h0M95.6 335.5h0M199.7 336.4h0M87.1 364.1h0M66.7 357.7h0M68.9 351.4h0M97.2 318.3h0M184.2 333.6h0M186.2 338.2h0M146.2 367.8h0M199.3 342.4h0M77.1 368.7h0M99.3 357.6h0M183.2 356.2h0M154.8 340.8h0M148.8 345.1h0M198.5 384.4h0M170.8 337.7h0M73.4 352.6h0M78.2 330.1h0M104.7 350.4h0M128.0 357.8h0M170.7 324.1h0M89.9 348.8h0M128.1 356.4h0M181.8 341.5h0M201.7 369.6h0M77.9 334.7h0M120.3 356.2h0M181.5 381.0h0M81.3 374.6h0M120.0 349.7h0M93.5 329.6h0M140.0 347.2h0M144.8 319.3h0M171.3 392.4h0M169.6 312.2h0M127.2 309.3h0M93.2 309.3h0M173.1 321.9h0M134.9 368.8h0M132.4 347.6h0M108.1 323.6h0M172.6 359.1h0M83.6 359.3h0M122.9 348.9h0M184.1 327.1h0M136.2 363.9h0M165.2 320.1h0M198.0 333.9h0M61.4 366.4h0M85.3 364.7h0M127.8 368.8h0M73.0 309.5h0M140.1 312.4h0M103.7 310.4h0M109.9 353.5h0M94.0 346.6h0M189.5 349.2h0M176.1 379.0h0M139.8 337.6h0M73.6 329.3h0M185.2 315.3h0M188.5 309.6h0M171.6 351.8h0M171.8 314.0h0M171.9 328.7h0M127.3 364.2h0M156.5 329.9h0M197.6 338.7h0M180.2 381.6h0M160.3 321.7h0M111.0 329.4h0M158.3 389.4h0M80.7 351.3h0M75.5 390.9h0M139.5 391.1h0M119.8 365.6h0M136.8 312.9h0M108.4 353.4h0M166.9 384.0h0M204.0 372.4h0M172.6 334.3h0M197.0 352.7h0M74.2 362.5h0M117.4 388.3h0M125.6 323.3h0M65.6 364.9h0M120.0 314.4h0M87.5 323.7h0M97.3 333.1h0M88.0 352.2h0M73.7 362.4h0M83.8 363.4h0M104.0 392.1h0M116.5 348.7h0M167.4 338.3h0" stroke="#dcdef2" opacity="0.7" fill="none" stroke-width="1" stroke-linecap="round"/>
<path d="M174.5 329.6h0M176.6 347.2h0M124.9 358.8h0M178.8 371.9h0M110.3 372.1h0M61.1 335.1h0M101.7 333.9h0M123.0 389.2h0M168.2 348.9h0M193.4 365.9h0M109.1 320.7h0M106.9 371.9h0M143.9 319.1h0M108.6 382.7h0M131.9 341.4h0M73.3 316.9h0M194.2 361.1h0M150.9 308.7h0M182.0 353.6h0M156.9 312.8h0M146.6 383.3h0M117.8 332.3h0M144.1 373.7h0M137.0 308.1h0M136.8 389.7h0M187.5 312.4h0M107.2 383.1h0M95.9 321.8h0M186.4 312.1h0M85.0 372.1h0M133.7 378.3h0M176.2 311.3h0M103.2 386.6h0M187.4 388.2h0M146.3 388.4h0M96.9 373.6h0M174.6 329.9h0M117.8 382.7h0M123.8 339.2h0M101.0 309.7h0M179.2 333.5h0M165.4 358.2h0M153.4 348.1h0M159.7 323.8h0M152.3 321.0h0M114.5 367.9h0M116.7 342.9h0M129.2 317.6h0M187.1 336.0h0M147.7 318.3h0M162.3 326.3h0M181.5 390.8h0M141.5 371.9h0M106.9 312.9h0M130.1 395.5h0M148.6 330.8h0M77.7 317.1h0M62.1 350.3h0M129.0 391.6h0M145.7 386.9h0M71.9 336.3h0" stroke="#cfd2ec" opacity="0.7" fill="none" stroke-width="1.5" stroke-linecap="round"/>
<path d="M159.4 362.4h0M146.4 356.3h0M114.3 337.1h0M125.5 350.8h0M95.4 365.1h0M88.4 337.6h0M83.6 338.7h0M180.2 338.4h0M196.6 327.8h0M167.1 310.5h0M136.8 310.1h0M182.2 311.8h0M140.9 389.0h0M194.0 316.9h0M149.9 366.1h0M103.7 319.1h0M120.9 312.4h0M87.8 386.2h0M95.6 318.4h0M174.4 349.6h0M157.4 357.4h0M117.6 345.3h0M118.2 317.0h0M128.3 352.7h0M71.2 396.0h0M126.7 385.8h0M195.3 320.7h0M199.6 333.0h0M192.5 358.0h0M124.4 342.1h0M135.1 314.2h0M187.8 392.7h0M175.4 394.2h0M65.2 332.1h0" stroke="#dcdef2" opacity="0.7" fill="none" stroke-width="0.5" stroke-linecap="round"/>
<path d="M142.4 329.7h0M62.7 314.4h0M90.4 366.5h0M106.2 363.1h0M117.2 382.2h0M98.1 362.2h0M175.7 351.7h0M137.4 395.5h0M135.0 355.6h0M92.7 362.7h0M193.5 367.8h0M63.9 336.6h0M112.1 339.8h0M103.9 309.3h0M120.4 342.4h0M113.8 389.5h0M160.9 373.7h0M164.3 374.3h0M97.0 371.1h0M155.6 311.1h0M186.1 311.0h0M146.5 328.3h0M82.1 358.2h0M162.1 389.7h0M189.7 332.5h0M69.3 363.5h0M185.0 395.1h0M133.9 361.5h0M197.2 313.1h0M102.1 376.4h0M204.4 378.0h0M130.7 343.1h0M167.1 358.0h0M140.7 394.2h0M192.9 323.8h0M135.5 385.2h0M154.6 341.1h0M116.5 364.7h0M143.1 393.6h0M137.6 363.6h0M93.2 385.5h0M62.5 348.0h0M106.7 353.6h0M168.7 387.1h0M101.7 382.8h0M123.9 348.3h0M190.5 367.0h0M64.7 336.0h0M167.5 334.7h0M109.1 351.4h0M155.4 316.6h0M192.4 312.4h0M152.5 380.4h0M196.3 319.0h0M140.7 352.3h0M85.8 315.3h0M61.0 381.3h0M150.8 368.4h0M102.7 351.1h0M161.8 339.6h0M79.7 335.4h0M124.1 348.9h0M92.0 334.7h0M189.6 389.4h0M98.5 380.6h0M180.2 331.4h0M92.8 395.3h0M205.2 329.4h0M152.3 312.2h0M98.1 312.1h0M110.6 392.3h0M150.9 359.4h0M74.9 390.3h0M140.2 375.8h0M135.8 337.9h0M130.3 322.7h0M86.8 358.0h0M192.5 347.6h0M201.7 383.5h0M186.9 318.1h0M179.3 308.3h0M107.4 392.3h0M94.9 338.4h0M107.9 368.4h0M194.8 350.6h0M176.0 360.0h0M159.2 395.8h0M119.2 376.2h0M106.4 354.4h0M123.0 368.4h0M140.5 317.3h0M94.1 378.9h0M191.8 374.7h0M145.6 371.0h0M184.6 356.7h0M95.5 311.8h0M148.8 366.1h0M168.6 370.6h0M104.1 340.5h0M132.4 331.8h0M142.7 343.3h0M125.6 332.0h0M183.3 362.9h0M139.5 372.7h0M137.8 308.7h0M169.7 337.9h0M167.9 341.1h0M133.5 394.2h0M86.4 394.3h0M174.7 313.6h0M92.8 321.8h0M115.7 336.5h0M147.2 359.7h0M162.3 359.7h0M177.6 383.5h0M159.4 357.6h0M151.1 308.5h0M167.0 349.3h0M110.7 390.2h0M104.7 332.3h0" stroke="#b8bce0" opacity="0.7" fill="none" stroke-width="1" stroke-linecap="round"/>
<path d="M158.7 316.7h0M111.6 375.0h0M131.5 369.4h0M155.7 392.8h0M150.0 322.3h0M103.4 334.0h0M145.9 369.9h0M130.1 337.9h0M194.7 355.8h0M131.0 394.4h0M80.3 334.8h0M143.2 344.0h0M76.3 311.9h0M136.2 374.1h0M120.4 360.4h0M122.5 333.8h0" stroke="#b8bce0" opacity="0.7" fill="none" stroke-width="0.5" stroke-linecap="round"/>
<path d="M85.1 318.2h0M148.2 396.0h0M113.4 383.4h0M73.9 335.8h0M91.1 328.2h0M124.0 380.6h0M79.6 327.8h0M73.5 387.2h0M78.7 343.8h0M197.9 317.8h0M141.1 372.2h0M199.9 317.3h0M146.1 370.7h0M184.4 339.7h0M143.5 314.1h0M156.0 379.1h0M76.9 336.2h0M129.9 393.8h0M197.9 322.2h0M194.9 321.1h0M159.0 317.3h0M128.6 347.7h0M133.3 365.6h0M78.7 374.1h0" stroke="#d8daf0" opacity="0.85" fill="none" stroke-width="2" stroke-linecap="round"/>
<path d="M182.9 325.1h0M124.0 319.2h0M129.1 321.2h0M107.8 339.1h0M187.4 329.7h0M73.2 388.6h0M205.0 342.0h0M96.1 372.9h0M153.5 365.1h0M112.7 333.8h0M201.2 313.6h0M132.6 395.2h0M168.2 329.4h0M77.9 341.1h0M72.1 359.2h0M165.7 395.8h0M122.6 319.7h0M178.3 340.8h0M128.8 321.6h0M119.7 348.3h0M133.5 322.7h0M168.3 364.1h0" stroke="#e6e4e8" opacity="0.85" fill="none" stroke-width="2" stroke-linecap="round"/>
<path d="M62.5 383.3h0M125.3 383.8h0M185.3 382.0h0M64.3 314.4h0M62.8 314.3h0M148.7 340.3h0M103.6 377.0h0M173.9 372.1h0M109.3 391.9h0M149.4 353.7h0M175.8 338.6h0M106.5 359.3h0M74.9 388.5h0M90.3 320.4h0M188.2 393.3h0M146.6 350.6h0" stroke="#f0ecd0" opacity="0.85" fill="none" stroke-width="2" stroke-linecap="round"/>
<path d="M189.5 322.7h0M204.9 346.0h0M106.5 376.8h0M152.8 331.1h0M76.3 335.5h0M168.0 367.8h0M203.6 343.6h0M76.6 366.0h0M65.3 386.9h0M182.5 384.5h0M67.4 353.8h0" stroke="#d8daf0" opacity="0.85" fill="none" stroke-width="1.5" stroke-linecap="round"/>
<path d="M133.5 332.2h0M170.8 325.0h0M115.6 327.0h0M116.6 338.4h0M118.4 393.4h0M181.0 358.6h0M155.0 369.6h0M114.6 333.2h0M163.5 352.7h0M196.6 348.4h0M159.1 383.9h0M202.5 391.4h0M87.9 383.7h0M125.8 393.3h0" stroke="#e6e4e8" opacity="0.85" fill="none" stroke-width="2.5" stroke-linecap="round"/>
<path d="M72.6 350.3h0M117.7 383.9h0M105.6 325.0h0M199.5 378.9h0M193.3 349.4h0M159.3 377.3h0M133.9 360.4h0" stroke="#f0ecd0" opacity="0.85" fill="none" stroke-width="1.5" stroke-linecap="round"/>
<path d="M66.2 332.1h0M73.7 354.0h0M74.2 387.0h0M138.4 314.6h0M203.6 389.0h0M93.8 380.8h0M180.7 369.4h0M202.6 356.9h0M195.2 354.5h0" stroke="#e6e4e8" opacity="0.85" fill="none" stroke-width="1.5" stroke-linecap="round"/>
<path d="M92.4 332.8h0M179.2 332.4h0M166.3 373.6h0M190.3 346.3h0M176.6 349.1h0M169.4 318.7h0M132.7 349.6h0M163.2 351.0h0M102.8 354.0h0M192.8 383.9h0M172.5 361.7h0M99.4 344.1h0M176.5 336.7h0M201.5 376.2h0M167.7 395.5h0M129.6 379.5h0M62.5 328.8h0M83.6 344.9h0M145.3 334.3h0" stroke="#d8daf0" opacity="0.85" fill="none" stroke-width="2.5" stroke-linecap="round"/>
<path d="M60.6 393.7h0M79.5 394.1h0M79.2 386.4h0M131.5 320.9h0M98.5 361.0h0M164.0 354.6h0M154.5 344.8h0M176.4 379.9h0M60.8 332.6h0M154.7 393.3h0M65.4 375.5h0M171.6 392.4h0M120.5 317.5h0M185.3 332.2h0M127.8 338.7h0M64.3 359.5h0M131.4 314.3h0M164.1 365.9h0" stroke="#f0ecd0" opacity="0.85" fill="none" stroke-width="2.5" stroke-linecap="round"/>
<ellipse cx="64.5" cy="312.4" rx="3.2" ry="3.2" fill="#eee8b6"/>
<ellipse cx="64.0" cy="311.9" rx="1.9" ry="1.9" fill="#f8f4d2" opacity="0.8"/>
<ellipse cx="75.3" cy="311.7" rx="3.5" ry="3.5" fill="#eee8b6"/>
<ellipse cx="74.8" cy="311.2" rx="2.1" ry="2.1" fill="#f8f4d2" opacity="0.8"/>
<ellipse cx="83.2" cy="312" rx="1.9" ry="1.9" fill="#eee8b6"/>
<ellipse cx="82.9" cy="311.7" rx="1.1" ry="1.1" fill="#f8f4d2" opacity="0.8"/>
<ellipse cx="96.7" cy="310.8" rx="2.6" ry="2.6" fill="#eee8b6"/>
<ellipse cx="96.3" cy="310.4" rx="1.6" ry="1.6" fill="#f8f4d2" opacity="0.8"/>
<ellipse cx="81.5" cy="308" rx="1.2" ry="1.2" fill="#eee8b6"/>
<ellipse cx="81.3" cy="307.8" rx="0.7" ry="0.7" fill="#f8f4d2" opacity="0.8"/>
<ellipse cx="107" cy="311.7" rx="2" ry="2" fill="#eee8b6"/>
<ellipse cx="106.7" cy="311.4" rx="1.2" ry="1.2" fill="#f8f4d2" opacity="0.8"/>
<ellipse cx="109.2" cy="319.5" rx="7.0" ry="5.8" fill="#eee8b6"/>
<ellipse cx="108.2" cy="318.6" rx="4.2" ry="3.5" fill="#f8f4d2" opacity="0.8"/>
<ellipse cx="96.7" cy="320.6" rx="5" ry="4" fill="#eee8b6"/>
<ellipse cx="96.0" cy="320.0" rx="3.0" ry="2.4" fill="#f8f4d2" opacity="0.8"/>
<ellipse cx="117.1" cy="316.3" rx="2.2" ry="2.2" fill="#eee8b6"/>
<ellipse cx="116.8" cy="316.0" rx="1.3" ry="1.3" fill="#f8f4d2" opacity="0.8"/>
<ellipse cx="119.3" cy="326.4" rx="5.8" ry="5" fill="#eee8b6"/>
<ellipse cx="118.4" cy="325.6" rx="3.5" ry="3.0" fill="#f8f4d2" opacity="0.8"/>
<ellipse cx="125.1" cy="319.2" rx="1.7" ry="1.7" fill="#eee8b6"/>
<ellipse cx="124.8" cy="318.9" rx="1.0" ry="1.0" fill="#f8f4d2" opacity="0.8"/>
<ellipse cx="130.8" cy="323.5" rx="2.9" ry="2.9" fill="#eee8b6"/>
<ellipse cx="130.4" cy="323.1" rx="1.7" ry="1.7" fill="#f8f4d2" opacity="0.8"/>
<ellipse cx="62.3" cy="316.3" rx="1.5" ry="1.5" fill="#eee8b6"/>
<ellipse cx="62.1" cy="316.1" rx="0.9" ry="0.9" fill="#f8f4d2" opacity="0.8"/>
<ellipse cx="64.5" cy="320.3" rx="1.7" ry="1.7" fill="#eee8b6"/>
<ellipse cx="64.2" cy="320.0" rx="1.0" ry="1.0" fill="#f8f4d2" opacity="0.8"/>
<ellipse cx="147.9" cy="325" rx="8" ry="5.8" fill="#eee8b6"/>
<ellipse cx="146.7" cy="324.1" rx="4.8" ry="3.5" fill="#f8f4d2" opacity="0.8"/>
<ellipse cx="134.9" cy="323.2" rx="3.2" ry="3.2" fill="#eee8b6"/>
<ellipse cx="134.4" cy="322.7" rx="1.9" ry="1.9" fill="#f8f4d2" opacity="0.8"/>
<ellipse cx="135.6" cy="330.7" rx="4" ry="4" fill="#eee8b6"/>
<ellipse cx="135.0" cy="330.1" rx="2.4" ry="2.4" fill="#f8f4d2" opacity="0.8"/>
<ellipse cx="163.7" cy="321.3" rx="4" ry="3.6" fill="#eee8b6"/>
<ellipse cx="163.1" cy="320.8" rx="2.4" ry="2.2" fill="#f8f4d2" opacity="0.8"/>
<ellipse cx="172.7" cy="320.9" rx="3.6" ry="3.6" fill="#eee8b6"/>
<ellipse cx="172.2" cy="320.4" rx="2.2" ry="2.2" fill="#f8f4d2" opacity="0.8"/>
<ellipse cx="170.7" cy="313.4" rx="2.3" ry="2.3" fill="#eee8b6"/>
<ellipse cx="170.4" cy="313.1" rx="1.4" ry="1.4" fill="#f8f4d2" opacity="0.8"/>
<ellipse cx="183.9" cy="314.1" rx="5" ry="4.3" fill="#eee8b6"/>
<ellipse cx="183.2" cy="313.5" rx="3.0" ry="2.6" fill="#f8f4d2" opacity="0.8"/>
<ellipse cx="201.2" cy="322" rx="4.3" ry="4.3" fill="#eee8b6"/>
<ellipse cx="200.6" cy="321.4" rx="2.6" ry="2.6" fill="#f8f4d2" opacity="0.8"/>
<ellipse cx="195.5" cy="309" rx="2.5" ry="2.5" fill="#eee8b6"/>
<ellipse cx="195.1" cy="308.6" rx="1.5" ry="1.5" fill="#f8f4d2" opacity="0.8"/>
<ellipse cx="198.3" cy="311.2" rx="2.5" ry="2.5" fill="#eee8b6"/>
<ellipse cx="197.9" cy="310.8" rx="1.5" ry="1.5" fill="#f8f4d2" opacity="0.8"/>
<ellipse cx="199" cy="299.7" rx="1.5" ry="1.5" fill="#eee8b6"/>
<ellipse cx="198.8" cy="299.5" rx="0.9" ry="0.9" fill="#f8f4d2" opacity="0.8"/>
<ellipse cx="199" cy="296.8" rx="1.2" ry="1.2" fill="#eee8b6"/>
<ellipse cx="198.8" cy="296.6" rx="0.7" ry="0.7" fill="#f8f4d2" opacity="0.8"/>
<ellipse cx="166.6" cy="327.8" rx="2" ry="2" fill="#eee8b6"/>
<ellipse cx="166.3" cy="327.5" rx="1.2" ry="1.2" fill="#f8f4d2" opacity="0.8"/>
<ellipse cx="160.8" cy="329.3" rx="2" ry="2" fill="#eee8b6"/>
<ellipse cx="160.5" cy="329.0" rx="1.2" ry="1.2" fill="#f8f4d2" opacity="0.8"/>
<ellipse cx="179.6" cy="319.2" rx="1.5" ry="1.5" fill="#eee8b6"/>
<ellipse cx="179.4" cy="319.0" rx="0.9" ry="0.9" fill="#f8f4d2" opacity="0.8"/>
<ellipse cx="124.3" cy="338.6" rx="5.5" ry="5" fill="#eee8b6"/>
<ellipse cx="123.5" cy="337.9" rx="3.3" ry="3.0" fill="#f8f4d2" opacity="0.8"/>
<ellipse cx="68.1" cy="351.1" rx="5" ry="5" fill="#eee8b6"/>
<ellipse cx="67.3" cy="350.4" rx="3.0" ry="3.0" fill="#f8f4d2" opacity="0.8"/>
<ellipse cx="65.2" cy="355.4" rx="3" ry="3" fill="#eee8b6"/>
<ellipse cx="64.8" cy="354.9" rx="1.8" ry="1.8" fill="#f8f4d2" opacity="0.8"/>
<ellipse cx="70.3" cy="347.5" rx="3" ry="3" fill="#eee8b6"/>
<ellipse cx="69.8" cy="347.1" rx="1.8" ry="1.8" fill="#f8f4d2" opacity="0.8"/>
<ellipse cx="75.3" cy="361.2" rx="3.2" ry="3.2" fill="#eee8b6"/>
<ellipse cx="74.8" cy="360.7" rx="1.9" ry="1.9" fill="#f8f4d2" opacity="0.8"/>
<ellipse cx="83.2" cy="364.8" rx="4.3" ry="3.6" fill="#eee8b6"/>
<ellipse cx="82.6" cy="364.3" rx="2.6" ry="2.2" fill="#f8f4d2" opacity="0.8"/>
<ellipse cx="81.1" cy="369.1" rx="2.2" ry="2.2" fill="#eee8b6"/>
<ellipse cx="80.8" cy="368.8" rx="1.3" ry="1.3" fill="#f8f4d2" opacity="0.8"/>
<ellipse cx="65.9" cy="374.2" rx="3" ry="3" fill="#eee8b6"/>
<ellipse cx="65.5" cy="373.8" rx="1.8" ry="1.8" fill="#f8f4d2" opacity="0.8"/>
<ellipse cx="63.8" cy="387.9" rx="3.6" ry="3.6" fill="#eee8b6"/>
<ellipse cx="63.3" cy="387.4" rx="2.2" ry="2.2" fill="#f8f4d2" opacity="0.8"/>
<ellipse cx="71.7" cy="387.9" rx="3.6" ry="3.6" fill="#eee8b6"/>
<ellipse cx="71.2" cy="387.4" rx="2.2" ry="2.2" fill="#f8f4d2" opacity="0.8"/>
<ellipse cx="97" cy="390" rx="3.2" ry="3.2" fill="#eee8b6"/>
<ellipse cx="96.5" cy="389.5" rx="1.9" ry="1.9" fill="#f8f4d2" opacity="0.8"/>
<ellipse cx="108.5" cy="391.5" rx="4.6" ry="4.6" fill="#eee8b6"/>
<ellipse cx="107.8" cy="390.8" rx="2.8" ry="2.8" fill="#f8f4d2" opacity="0.8"/>
<ellipse cx="127.2" cy="394.4" rx="3" ry="3" fill="#eee8b6"/>
<ellipse cx="126.8" cy="393.9" rx="1.8" ry="1.8" fill="#f8f4d2" opacity="0.8"/>
<ellipse cx="130.8" cy="363.4" rx="2.2" ry="2.2" fill="#eee8b6"/>
<ellipse cx="130.5" cy="363.1" rx="1.3" ry="1.3" fill="#f8f4d2" opacity="0.8"/>
<ellipse cx="158" cy="345.3" rx="3.6" ry="3.6" fill="#eee8b6"/>
<ellipse cx="157.5" cy="344.8" rx="2.2" ry="2.2" fill="#f8f4d2" opacity="0.8"/>
<ellipse cx="159.4" cy="351.8" rx="4.3" ry="3.6" fill="#eee8b6"/>
<ellipse cx="158.8" cy="351.3" rx="2.6" ry="2.2" fill="#f8f4d2" opacity="0.8"/>
<ellipse cx="173.1" cy="347.5" rx="4.3" ry="4.3" fill="#eee8b6"/>
<ellipse cx="172.5" cy="346.9" rx="2.6" ry="2.6" fill="#f8f4d2" opacity="0.8"/>
<ellipse cx="155.8" cy="361.2" rx="3.6" ry="3.6" fill="#eee8b6"/>
<ellipse cx="155.3" cy="360.7" rx="2.2" ry="2.2" fill="#f8f4d2" opacity="0.8"/>
<ellipse cx="138.1" cy="362.6" rx="2.2" ry="2.2" fill="#eee8b6"/>
<ellipse cx="137.8" cy="362.3" rx="1.3" ry="1.3" fill="#f8f4d2" opacity="0.8"/>
<ellipse cx="143.3" cy="363.8" rx="2.2" ry="2.2" fill="#eee8b6"/>
<ellipse cx="143.0" cy="363.5" rx="1.3" ry="1.3" fill="#f8f4d2" opacity="0.8"/>
<ellipse cx="133.2" cy="363.4" rx="1.7" ry="1.7" fill="#eee8b6"/>
<ellipse cx="132.9" cy="363.1" rx="1.0" ry="1.0" fill="#f8f4d2" opacity="0.8"/>
<ellipse cx="145" cy="373.5" rx="5" ry="5" fill="#eee8b6"/>
<ellipse cx="144.2" cy="372.8" rx="3.0" ry="3.0" fill="#f8f4d2" opacity="0.8"/>
<ellipse cx="136.3" cy="375.6" rx="3.2" ry="3.2" fill="#eee8b6"/>
<ellipse cx="135.8" cy="375.1" rx="1.9" ry="1.9" fill="#f8f4d2" opacity="0.8"/>
<ellipse cx="142.8" cy="381.4" rx="1.7" ry="1.7" fill="#eee8b6"/>
<ellipse cx="142.5" cy="381.1" rx="1.0" ry="1.0" fill="#f8f4d2" opacity="0.8"/>
<ellipse cx="142.1" cy="391.5" rx="2.6" ry="2.6" fill="#eee8b6"/>
<ellipse cx="141.7" cy="391.1" rx="1.6" ry="1.6" fill="#f8f4d2" opacity="0.8"/>
<ellipse cx="178.2" cy="367.7" rx="3.2" ry="3.2" fill="#eee8b6"/>
<ellipse cx="177.7" cy="367.2" rx="1.9" ry="1.9" fill="#f8f4d2" opacity="0.8"/>
<ellipse cx="181.8" cy="373.5" rx="2.9" ry="2.9" fill="#eee8b6"/>
<ellipse cx="181.4" cy="373.1" rx="1.7" ry="1.7" fill="#f8f4d2" opacity="0.8"/>
<ellipse cx="185.4" cy="380.7" rx="3.2" ry="3.2" fill="#eee8b6"/>
<ellipse cx="184.9" cy="380.2" rx="1.9" ry="1.9" fill="#f8f4d2" opacity="0.8"/>
<ellipse cx="201.2" cy="372" rx="2.2" ry="2.2" fill="#eee8b6"/>
<ellipse cx="200.9" cy="371.7" rx="1.3" ry="1.3" fill="#f8f4d2" opacity="0.8"/>
<ellipse cx="194" cy="385" rx="1.7" ry="1.7" fill="#eee8b6"/>
<ellipse cx="193.7" cy="384.7" rx="1.0" ry="1.0" fill="#f8f4d2" opacity="0.8"/>
<ellipse cx="200.5" cy="394.4" rx="5" ry="5" fill="#eee8b6"/>
<ellipse cx="199.8" cy="393.6" rx="3.0" ry="3.0" fill="#f8f4d2" opacity="0.8"/>
<ellipse cx="202.7" cy="342.4" rx="3" ry="3" fill="#eee8b6"/>
<ellipse cx="202.2" cy="341.9" rx="1.8" ry="1.8" fill="#f8f4d2" opacity="0.8"/>
<ellipse cx="133.4" cy="343.2" rx="2.2" ry="2.2" fill="#eee8b6"/>
<ellipse cx="133.1" cy="342.9" rx="1.3" ry="1.3" fill="#f8f4d2" opacity="0.8"/>
<ellipse cx="94" cy="357" rx="1.2" ry="1.2" fill="#eee8b6"/>
<ellipse cx="93.8" cy="356.8" rx="0.7" ry="0.7" fill="#f8f4d2" opacity="0.8"/>
<ellipse cx="100" cy="366" rx="1.0" ry="1.0" fill="#eee8b6"/>
<ellipse cx="99.8" cy="365.9" rx="0.6" ry="0.6" fill="#f8f4d2" opacity="0.8"/>
<ellipse cx="112" cy="360" rx="1.2" ry="1.2" fill="#eee8b6"/>
<ellipse cx="111.8" cy="359.8" rx="0.7" ry="0.7" fill="#f8f4d2" opacity="0.8"/>
<ellipse cx="90" cy="378" rx="1.0" ry="1.0" fill="#eee8b6"/>
<ellipse cx="89.8" cy="377.9" rx="0.6" ry="0.6" fill="#f8f4d2" opacity="0.8"/>
<ellipse cx="118" cy="384" rx="1.2" ry="1.2" fill="#eee8b6"/>
<ellipse cx="117.8" cy="383.8" rx="0.7" ry="0.7" fill="#f8f4d2" opacity="0.8"/>
<ellipse cx="104" cy="382" rx="0.9" ry="0.9" fill="#eee8b6"/>
<ellipse cx="103.9" cy="381.9" rx="0.5" ry="0.5" fill="#f8f4d2" opacity="0.8"/>
<ellipse cx="125" cy="356" rx="1.0" ry="1.0" fill="#eee8b6"/>
<ellipse cx="124.8" cy="355.9" rx="0.6" ry="0.6" fill="#f8f4d2" opacity="0.8"/>
</g></g>
<rect x="59.6" y="287.6" width="146.9" height="109.4" fill="none" stroke="#3a3a3a" stroke-width="1.4"/>
<defs><clipPath id="c2"><rect x="212.8" y="288.3" width="144.8" height="108.19999999999999"/></clipPath><radialGradient id="v2" cx="0" cy="1" r="0.13"><stop offset="0" stop-color="#2e2418" stop-opacity="0.95"/><stop offset="0.6" stop-color="#5a4a30" stop-opacity="0.4"/><stop offset="1" stop-color="#5a4a30" stop-opacity="0"/></radialGradient><filter id="b2" x="-5%" y="-5%" width="110%" height="110%"><feConvolveMatrix order="3" kernelMatrix="0.03 0.18 0.03 0.18 1 0.18 0.03 0.18 0.03" edgeMode="duplicate"/></filter><filter id="b2b" x="-5%" y="-5%" width="110%" height="110%"><feGaussianBlur stdDeviation="2.5"/></filter></defs>
<g clip-path="url(#c2)"><g filter="url(#b2)">
<rect x="210.8" y="286.3" width="148.8" height="112.19999999999999" fill="#f0e8c2"/>
<g filter="url(#b2b)">
<ellipse cx="252" cy="297" rx="26" ry="12" fill="#b4a8d0" opacity="0.5"/>
<ellipse cx="273" cy="322" rx="12" ry="11" fill="#b4a8d0" opacity="0.5"/>
<ellipse cx="330.5" cy="321" rx="24" ry="23" fill="#b4a8d0" opacity="0.45"/>
<ellipse cx="225" cy="342" rx="18" ry="30" fill="#b4a8d0" opacity="0.45"/>
<ellipse cx="296" cy="375" rx="36" ry="26" fill="#b4a8d0" opacity="0.5"/>
<ellipse cx="285" cy="332" rx="12" ry="5" fill="#b4a8d0" opacity="0.45"/>
<ellipse cx="250" cy="362" rx="16" ry="5" fill="#b4a8d0" opacity="0.4"/>
<ellipse cx="300" cy="318" rx="9" ry="7" fill="#b4a8d0" opacity="0.25"/>
<ellipse cx="240" cy="315" rx="10" ry="8" fill="#b4a8d0" opacity="0.25"/>
<ellipse cx="265" cy="345" rx="12" ry="8" fill="#b4a8d0" opacity="0.2"/>
<ellipse cx="345" cy="360" rx="10" ry="15" fill="#b4a8d0" opacity="0.15"/>
</g>
<path d="M259.5 350.5h0M217.0 317.4h0M286.1 332.3h0M251.5 290.9h0M304.5 342.6h0M241.6 359.5h0M314.8 323.3h0M245.6 379.7h0M244.6 364.8h0M216.3 289.2h0M353.1 338.0h0M298.7 309.7h0M278.7 388.1h0M328.5 305.2h0M215.6 309.1h0M215.0 346.5h0M296.5 343.1h0M285.3 355.7h0M355.8 294.9h0M221.6 303.4h0M269.2 395.9h0M228.3 361.5h0M236.6 313.6h0M240.9 328.5h0M271.0 358.4h0M290.7 291.3h0M274.1 369.8h0M273.3 326.4h0M312.5 355.4h0M214.7 358.2h0M295.9 311.2h0M278.5 307.8h0M282.6 369.8h0M228.6 369.5h0M255.8 288.3h0M231.7 382.0h0M306.7 389.4h0M220.5 291.5h0M351.6 300.6h0M242.1 303.1h0M295.9 371.1h0M318.7 301.4h0M352.3 290.0h0M221.7 306.6h0M270.8 327.2h0M351.9 375.2h0M236.5 367.2h0M224.2 346.8h0M243.9 355.3h0M230.6 374.2h0M328.9 288.7h0M294.9 345.2h0M286.6 296.3h0M285.1 344.5h0M337.3 321.7h0M263.5 371.1h0M296.1 320.9h0M333.8 323.1h0M341.2 292.3h0M234.1 361.0h0M290.3 337.4h0M244.2 376.6h0M322.7 389.8h0M319.6 291.2h0M294.2 359.0h0M255.8 333.8h0M334.8 379.9h0M272.5 353.2h0M342.4 387.8h0M215.0 386.0h0M301.7 381.4h0M267.4 377.7h0M291.5 343.9h0M247.9 296.4h0M308.2 389.9h0M284.4 295.8h0M332.7 315.1h0M271.6 310.0h0M292.8 300.4h0M300.4 326.9h0M219.7 302.6h0M291.7 368.1h0" stroke="#bfb6c8" opacity="0.75" fill="none" stroke-width="1.5" stroke-linecap="round"/>
<path d="M276.6 328.4h0M238.8 354.1h0M331.8 361.2h0M241.8 291.7h0M291.3 317.4h0M319.2 320.6h0M286.5 320.9h0M215.3 383.1h0M343.9 322.6h0M319.8 331.7h0M226.1 380.2h0M296.1 351.0h0M235.8 357.7h0M346.2 308.8h0M320.0 358.9h0M321.2 331.5h0M356.2 358.1h0M213.2 358.7h0M264.2 329.6h0M246.0 292.4h0M291.6 316.2h0M278.7 364.5h0M222.5 320.0h0M253.8 375.3h0M252.2 386.2h0M315.0 370.4h0M225.5 340.6h0M337.7 332.0h0M269.0 375.0h0M245.2 335.8h0M280.5 330.2h0M333.3 392.4h0M350.4 339.5h0M296.6 358.9h0M254.7 309.4h0M338.7 299.7h0M337.0 389.8h0M264.2 339.2h0M336.0 385.8h0M319.5 306.5h0M305.0 324.6h0M255.0 308.6h0M346.0 391.8h0M256.3 362.3h0M347.0 385.6h0M271.2 296.0h0M335.5 390.2h0M345.3 344.1h0M311.3 325.2h0M215.8 307.6h0M236.4 299.7h0M337.2 368.5h0M343.5 330.1h0M340.7 317.0h0M283.5 366.5h0M326.5 356.5h0M278.2 327.3h0M223.4 388.4h0M257.5 374.4h0M350.8 361.8h0M323.6 351.1h0M255.0 332.1h0M334.2 338.8h0M246.0 364.6h0M241.3 307.3h0M248.5 315.4h0M278.0 317.8h0M227.9 377.0h0M326.7 324.2h0M320.0 367.5h0M217.5 386.6h0M218.5 328.2h0M214.5 378.8h0M300.4 312.6h0M216.7 358.8h0M236.3 337.4h0M238.8 291.8h0M328.7 351.3h0M337.0 314.2h0M318.9 354.7h0M233.5 293.5h0M314.5 319.0h0M353.6 348.0h0M321.4 375.2h0M355.5 295.6h0M345.2 383.1h0M254.3 370.8h0M307.3 364.6h0M320.6 324.0h0M269.2 395.5h0M233.2 296.9h0M266.0 357.3h0M245.0 314.1h0M240.9 354.6h0M283.5 363.5h0M348.8 289.1h0M245.9 384.2h0M239.6 306.5h0M353.6 310.6h0M232.9 373.3h0M261.4 327.5h0" stroke="#c4bacc" opacity="0.75" fill="none" stroke-width="1.5" stroke-linecap="round"/>
<path d="M355.6 325.4h0M344.6 380.8h0M320.6 333.9h0M286.9 355.0h0M338.7 295.6h0M306.8 346.3h0M308.1 316.6h0M234.5 376.0h0M311.7 376.4h0M234.8 379.7h0M241.4 379.5h0M216.9 362.1h0M301.2 361.3h0M254.5 337.0h0M257.5 318.6h0M260.5 344.3h0M218.9 390.8h0M242.2 360.9h0M329.4 383.8h0M296.6 360.3h0M297.2 326.2h0M299.8 330.0h0M312.8 349.6h0M346.8 339.4h0M325.9 373.7h0M261.4 393.2h0M317.0 299.3h0M256.9 371.7h0M310.7 394.7h0M347.4 306.6h0M292.4 289.9h0M245.8 363.0h0M302.6 369.1h0M272.4 394.8h0M273.7 388.3h0M302.7 392.9h0M297.1 300.1h0M305.9 320.4h0M340.8 315.1h0M241.1 371.1h0M219.2 356.3h0M339.9 344.2h0M311.0 292.2h0M333.9 378.6h0M296.9 392.2h0M331.8 348.8h0M355.4 330.1h0M244.2 386.2h0M251.8 344.3h0M236.1 343.5h0M220.9 340.8h0M281.4 356.0h0M273.2 327.5h0M243.4 308.6h0M281.0 306.2h0M314.0 329.1h0M289.1 389.1h0M281.1 291.9h0M228.2 305.4h0M287.2 316.8h0M225.5 382.2h0M268.8 308.2h0M231.5 336.7h0M351.3 392.2h0M286.7 312.1h0M229.6 326.5h0M240.8 356.4h0M234.7 369.3h0M273.3 297.0h0M255.8 307.7h0M314.4 396.2h0M213.0 300.7h0M262.1 385.3h0M261.5 306.3h0M335.2 293.6h0M300.5 297.9h0M278.6 328.1h0M218.7 327.7h0M257.6 295.4h0M312.1 295.2h0M232.1 340.6h0M349.2 353.1h0M327.3 345.2h0M306.0 323.6h0M263.6 380.2h0M345.6 288.5h0M244.5 319.8h0M230.9 374.1h0M266.0 383.3h0M316.4 321.8h0M291.2 318.7h0M319.7 322.1h0M254.8 331.4h0M310.0 351.7h0M264.9 319.3h0M255.0 356.7h0M222.3 319.3h0M310.7 376.7h0M309.1 383.1h0M319.6 318.8h0M287.5 392.0h0M308.4 352.3h0M287.8 351.2h0M221.0 317.5h0" stroke="#d8ccc0" opacity="0.75" fill="none" stroke-width="1.5" stroke-linecap="round"/>
<path d="M286.8 319.8h0M332.7 386.9h0M321.9 395.9h0M232.1 373.7h0M254.6 308.7h0M324.5 389.5h0M345.1 290.4h0M304.2 312.0h0M281.0 344.7h0M250.0 294.0h0M288.9 323.3h0M243.1 290.4h0M276.3 352.2h0M306.0 296.6h0M326.7 293.1h0M350.1 381.7h0M222.7 314.7h0M330.5 343.5h0M312.5 327.2h0M253.8 357.7h0M353.7 358.4h0M319.1 372.8h0M342.6 377.0h0M233.5 325.7h0M326.4 322.7h0M326.7 369.5h0M342.7 344.2h0M252.4 377.0h0M232.8 348.2h0M254.7 292.1h0M298.8 369.7h0M314.4 367.6h0M219.5 321.4h0M227.8 343.0h0M215.8 339.1h0M308.3 346.5h0M252.6 317.4h0M236.1 376.1h0M265.5 363.5h0M300.1 309.1h0M295.2 322.8h0M253.4 355.6h0M240.1 302.9h0M318.7 346.2h0M245.5 332.3h0M295.5 352.8h0M220.2 359.9h0M340.1 330.6h0M315.3 327.7h0M351.7 387.0h0M212.9 322.1h0M274.4 290.9h0M310.9 326.7h0M342.7 310.4h0M225.5 382.0h0M233.0 293.5h0M233.4 343.8h0M232.8 314.8h0M352.4 288.9h0M213.1 303.8h0M347.1 378.8h0M214.8 382.4h0M250.5 310.7h0M320.4 380.1h0M250.7 307.3h0M295.7 388.2h0M220.0 393.0h0M220.4 374.6h0M228.8 386.0h0M233.4 295.7h0M289.9 310.7h0M272.7 347.5h0M286.7 312.1h0M297.2 312.9h0M343.5 309.5h0M287.0 363.9h0M284.9 378.0h0M319.6 299.2h0M352.1 331.0h0M229.7 361.2h0M339.2 303.7h0M246.7 362.1h0M242.6 372.0h0M241.2 338.2h0M327.5 352.6h0M300.5 320.1h0M227.2 372.0h0M274.3 387.4h0M324.1 325.2h0" stroke="#f6f0d2" opacity="0.75" fill="none" stroke-width="1" stroke-linecap="round"/>
<path d="M260.3 322.2h0M220.7 385.3h0M287.2 350.9h0M308.1 310.7h0M303.3 394.8h0M248.1 325.3h0M264.4 364.8h0M304.8 330.2h0" stroke="#dccfb8" opacity="0.75" fill="none" stroke-width="2" stroke-linecap="round"/>
<path d="M328.6 347.1h0M341.7 340.3h0M306.4 370.7h0M250.4 327.5h0M279.8 366.6h0M250.9 361.4h0M339.4 340.2h0M239.0 360.5h0M332.5 293.4h0M298.1 368.1h0M275.7 302.7h0M352.9 306.1h0M234.6 325.3h0M242.2 341.5h0M308.2 395.3h0M334.1 374.1h0M336.1 306.9h0M256.8 289.9h0M300.1 351.3h0M310.0 307.5h0M272.8 310.6h0M213.2 393.0h0M281.5 320.9h0M282.4 295.6h0M278.6 317.3h0M249.8 308.7h0M277.6 377.3h0M298.3 393.0h0M356.6 336.9h0M332.2 290.1h0M317.5 321.3h0M275.6 348.2h0M334.0 343.6h0M226.4 303.5h0M255.7 355.4h0M306.7 382.6h0M230.6 314.8h0M220.0 304.0h0M336.4 313.1h0M266.1 309.5h0M350.9 290.8h0M273.6 375.5h0M314.9 289.7h0M295.9 317.7h0M267.3 351.5h0M219.3 308.5h0M306.7 387.8h0M315.3 310.4h0M281.6 339.1h0M262.3 299.0h0M247.4 323.5h0M333.3 353.6h0M346.5 306.3h0M275.2 302.1h0M286.8 381.6h0M233.9 367.1h0M221.2 352.2h0M264.9 392.4h0M250.1 375.3h0M277.5 368.2h0M215.1 319.2h0M255.1 308.3h0M306.0 325.4h0M267.2 382.2h0M319.7 372.6h0M222.0 350.3h0M295.1 342.1h0M247.1 358.9h0M288.4 362.1h0M305.8 323.6h0M345.0 301.2h0M326.9 356.8h0M309.1 393.0h0M285.7 290.1h0M248.8 348.9h0M258.8 300.5h0M244.0 324.2h0M349.7 390.1h0M296.6 320.7h0M298.5 318.9h0" stroke="#d8ccc0" opacity="0.75" fill="none" stroke-width="1" stroke-linecap="round"/>
<path d="M324.1 369.7h0M288.5 363.9h0M241.3 322.6h0M237.1 343.2h0M272.2 351.7h0M313.6 362.7h0M230.3 357.7h0M277.9 327.6h0M255.7 304.6h0M278.1 307.1h0M276.4 335.9h0M311.7 382.1h0M318.4 348.1h0M241.5 385.3h0M278.0 358.9h0M344.7 382.7h0M241.3 323.2h0M299.3 339.6h0M281.3 370.1h0M269.3 375.5h0M270.8 357.9h0M314.1 302.4h0M354.2 344.7h0M218.4 342.8h0M232.6 382.8h0M214.3 382.4h0M218.7 349.2h0M243.5 343.8h0M298.7 391.7h0M347.5 310.6h0M235.5 380.8h0M294.7 327.3h0M286.0 349.3h0M237.8 325.8h0M232.6 362.2h0M283.5 301.7h0M234.2 308.7h0M315.5 360.5h0M320.7 337.6h0M318.1 300.5h0M330.5 338.2h0M276.4 325.9h0M237.0 343.4h0M324.8 353.4h0M300.8 351.7h0M335.5 372.8h0M239.6 367.3h0M339.0 393.8h0M356.7 337.1h0M245.4 373.1h0M321.9 349.8h0M276.8 295.6h0M218.3 315.8h0M239.5 388.6h0M289.8 345.5h0M263.0 336.4h0M231.5 325.5h0M307.8 373.3h0M258.9 382.7h0M337.9 334.4h0M286.0 303.9h0M339.2 360.4h0M301.8 377.2h0M241.4 318.2h0M281.0 347.4h0M346.9 338.0h0M260.7 381.1h0M301.5 298.9h0M267.7 363.4h0M223.0 296.7h0M245.6 358.3h0M265.4 386.9h0M328.6 311.3h0M264.8 315.6h0M265.2 389.8h0M300.8 303.5h0M354.7 394.3h0M238.1 376.6h0M324.2 350.3h0M277.2 366.3h0M322.7 318.9h0M269.8 309.0h0M348.7 343.1h0M253.8 375.5h0M335.6 321.0h0M285.3 346.4h0M339.1 302.5h0M348.0 384.1h0M230.0 347.4h0M238.2 393.8h0M241.5 359.0h0M301.2 309.9h0M234.5 318.2h0M267.9 319.9h0M234.6 391.2h0M328.7 374.9h0M254.9 312.8h0" stroke="#bfb6c8" opacity="0.75" fill="none" stroke-width="1" stroke-linecap="round"/>
<path d="M325.0 298.8h0M227.3 348.0h0M332.6 339.2h0M322.7 359.5h0M229.9 346.0h0M274.7 353.1h0M213.1 389.8h0M287.7 382.8h0M319.4 334.8h0M216.1 295.2h0M347.7 354.6h0M256.1 323.9h0M229.5 360.6h0M336.6 306.7h0M245.0 368.8h0M326.3 318.3h0M347.6 330.0h0M282.7 319.3h0M266.3 350.9h0M342.4 352.6h0M356.2 384.2h0M214.2 352.2h0M291.3 346.4h0M280.5 372.6h0M255.1 291.9h0M301.2 345.3h0M321.6 331.0h0M269.5 322.0h0M248.2 348.6h0M334.2 301.1h0M288.0 368.2h0M273.1 295.9h0M330.6 299.4h0M248.1 327.0h0M235.1 291.7h0M227.5 289.7h0M229.3 343.8h0M324.1 388.5h0M338.6 344.1h0M282.4 299.4h0M349.9 382.5h0M214.3 337.5h0M279.4 366.6h0M291.9 371.2h0M279.4 342.6h0M229.9 346.0h0M301.7 382.5h0M278.8 302.5h0M266.8 388.9h0M235.4 321.4h0M270.7 325.9h0M350.8 323.5h0M338.1 347.8h0M296.7 390.0h0M354.3 391.8h0M233.1 382.6h0M220.3 372.5h0M356.6 357.2h0M308.8 382.8h0M310.0 303.5h0M324.1 324.6h0M229.1 373.6h0M330.2 288.5h0M298.9 341.7h0M279.7 342.6h0M347.0 304.1h0M337.2 291.5h0M278.5 394.0h0M313.2 394.9h0" stroke="#c4bacc" opacity="0.75" fill="none" stroke-width="1" stroke-linecap="round"/>
<path d="M278.5 370.8h0M304.6 327.5h0M320.8 338.7h0M349.2 349.2h0M239.5 313.7h0M230.2 345.2h0M261.5 384.1h0M319.5 323.3h0M267.9 312.9h0M349.2 306.4h0M286.2 366.5h0M350.5 336.3h0M353.2 343.3h0M256.3 313.3h0M261.1 325.0h0M219.5 322.9h0M343.5 322.2h0M222.8 300.2h0M324.9 330.0h0M261.7 371.9h0M294.9 308.7h0M263.8 288.9h0M297.3 338.9h0M304.6 319.7h0M261.0 316.2h0M267.0 369.7h0M315.2 355.5h0M285.5 327.1h0M255.2 353.1h0M344.3 295.3h0M277.3 368.1h0M347.7 392.3h0M256.2 292.4h0M351.8 290.1h0M265.1 304.4h0M248.4 353.5h0M303.4 309.4h0M331.7 361.2h0M329.4 309.0h0M241.7 369.4h0M317.7 338.8h0M328.4 388.2h0M315.7 316.5h0M232.5 361.0h0M332.2 376.4h0M261.5 370.4h0M229.8 327.0h0M341.1 359.4h0M235.3 359.1h0M348.8 312.9h0M354.1 327.7h0M287.9 347.2h0M269.1 332.1h0M315.0 291.7h0M294.8 320.4h0M355.2 315.1h0M288.6 352.0h0M326.5 394.9h0M348.4 331.5h0M316.1 307.5h0M329.9 380.1h0M254.0 293.8h0M270.2 363.5h0M224.4 302.5h0M312.6 296.5h0M266.6 374.2h0M337.9 362.0h0M355.4 304.7h0M326.6 342.6h0M334.8 320.0h0M324.4 300.0h0M327.9 380.6h0M290.1 309.8h0M238.1 350.3h0M351.2 330.9h0M275.0 357.2h0M304.0 307.8h0M288.8 383.8h0M342.2 303.6h0M310.2 387.0h0M257.0 312.4h0M276.8 396.5h0M328.4 346.2h0M329.0 372.0h0M219.1 314.2h0M265.9 335.5h0M312.9 341.4h0M293.3 300.1h0M336.1 334.5h0M278.6 344.7h0M251.6 380.7h0M245.7 309.8h0M314.5 388.8h0M240.1 384.4h0M233.8 372.9h0M324.0 349.4h0M326.2 328.8h0M220.9 328.9h0M309.4 319.4h0M252.6 355.9h0M307.9 366.9h0M334.5 309.2h0M245.5 382.6h0M249.7 364.0h0" stroke="#f8f2d4" opacity="0.75" fill="none" stroke-width="1.5" stroke-linecap="round"/>
<path d="M326.2 297.7h0M350.5 335.8h0M337.4 321.0h0M269.3 369.9h0M346.2 292.8h0M355.7 368.7h0M330.7 394.8h0M342.4 372.1h0M233.8 379.6h0M343.2 368.1h0M351.7 376.5h0M346.1 369.7h0M233.8 300.3h0M246.7 354.0h0M243.3 310.8h0M286.5 321.7h0M245.5 388.6h0M229.0 368.4h0M270.0 342.2h0M275.8 344.0h0M303.9 389.1h0M253.6 315.9h0M340.5 365.5h0M237.4 302.8h0M345.7 393.1h0M301.5 317.6h0M276.9 298.1h0M299.8 338.5h0M247.5 313.8h0M225.8 357.5h0M291.1 310.0h0M297.4 325.2h0M322.4 325.8h0M324.5 339.5h0M238.4 351.6h0M323.6 355.8h0M323.2 388.4h0M343.5 330.5h0M278.1 348.4h0M289.2 296.4h0M267.0 386.6h0M234.1 336.4h0M346.9 295.2h0M349.9 332.9h0M306.8 371.7h0M218.4 322.0h0M356.4 391.3h0M243.2 317.2h0M278.8 343.1h0M266.2 300.6h0M263.1 385.4h0M261.6 395.2h0M258.2 322.4h0M243.5 356.1h0M296.8 343.6h0M243.8 350.1h0M232.6 291.6h0M218.2 327.1h0M349.6 324.6h0M278.8 348.6h0M261.0 324.4h0M278.9 392.6h0M295.1 323.9h0M345.3 396.1h0M242.7 364.2h0M222.4 384.2h0M246.0 316.6h0M327.6 318.8h0M237.9 370.8h0M228.0 375.0h0M326.8 363.7h0M298.2 344.5h0M221.4 302.3h0M310.1 349.9h0M321.9 330.0h0M233.8 317.3h0M231.0 294.8h0M326.1 372.5h0M314.7 342.5h0M244.6 326.7h0M349.3 372.3h0M330.8 343.8h0M292.0 298.1h0M286.3 393.0h0M350.3 362.2h0M271.7 369.0h0M340.0 301.7h0M229.6 376.0h0M253.1 373.7h0M225.5 334.5h0M352.8 367.6h0M278.7 358.8h0M236.2 389.6h0" stroke="#d2c8c4" opacity="0.75" fill="none" stroke-width="1.5" stroke-linecap="round"/>
<path d="M346.2 383.6h0M248.3 389.5h0M298.5 340.7h0M335.3 316.0h0M357.6 307.9h0M229.8 302.5h0M219.0 394.9h0M329.5 358.6h0M313.8 372.6h0M308.9 370.1h0M312.8 328.0h0M217.5 316.7h0M356.9 384.8h0M226.9 298.7h0M288.6 290.1h0M221.7 376.2h0M281.2 314.0h0M246.6 376.2h0M292.4 369.2h0M250.8 336.9h0M231.7 350.8h0M236.1 390.2h0M347.0 374.9h0M335.6 314.2h0M280.4 351.1h0M337.3 335.4h0M315.1 395.6h0M272.2 319.1h0M261.3 375.2h0M242.2 298.4h0M249.4 354.0h0M233.6 370.2h0M238.2 310.6h0M241.1 306.2h0M349.1 370.8h0M347.4 386.8h0M233.5 288.8h0M236.2 354.6h0M299.8 388.9h0M240.7 336.5h0M228.1 343.8h0M304.4 389.2h0M354.8 338.4h0M274.5 340.2h0M220.2 353.6h0M244.9 349.7h0M231.9 348.3h0M269.3 340.3h0M338.2 342.5h0M238.7 334.2h0M335.8 378.5h0M337.6 387.0h0M267.1 322.8h0M277.1 337.8h0M255.5 357.4h0M305.7 296.2h0M341.8 393.1h0M274.8 292.0h0M299.9 313.1h0M255.2 346.0h0M285.6 305.4h0M259.3 349.9h0M318.9 354.6h0M347.5 369.6h0M288.6 294.7h0M347.7 321.5h0M309.0 336.9h0M233.5 386.0h0M268.2 309.6h0M239.2 366.8h0M333.6 338.5h0M256.5 290.5h0M222.8 322.0h0M334.6 335.4h0M316.7 379.0h0M301.4 388.1h0M303.3 327.0h0M237.6 367.1h0M269.7 353.3h0M271.9 305.1h0M274.2 389.1h0M215.9 322.7h0M301.4 368.2h0M224.7 330.2h0M340.0 293.9h0M259.0 391.9h0M218.0 347.1h0M299.3 335.5h0M220.0 317.0h0M327.8 372.5h0M275.2 376.0h0M337.8 361.7h0M287.1 335.3h0M224.4 381.7h0M348.5 327.9h0M343.1 378.8h0M244.8 327.1h0" stroke="#cbc2d0" opacity="0.75" fill="none" stroke-width="1.5" stroke-linecap="round"/>
<path d="M224.6 337.3h0M278.4 311.3h0M272.6 365.0h0M345.5 334.2h0M258.0 290.2h0M266.4 391.4h0M314.8 383.3h0M292.0 336.5h0M286.6 361.0h0M324.3 340.7h0M271.4 300.8h0M259.3 323.9h0M222.6 303.7h0M238.2 298.9h0M347.2 376.3h0M242.3 317.6h0M345.7 343.1h0M246.2 367.6h0M264.9 289.7h0M236.1 368.3h0M239.7 378.8h0M242.1 378.5h0M288.2 382.8h0M217.5 374.2h0M293.8 326.5h0M325.6 376.8h0M302.9 355.2h0M335.5 334.3h0M267.6 297.9h0M275.8 352.1h0M283.6 326.3h0M276.6 294.8h0M233.9 296.5h0M270.9 334.8h0M341.6 335.5h0M345.0 373.3h0M291.1 297.9h0M216.8 321.9h0M273.7 357.0h0M271.8 353.9h0M223.0 348.2h0M273.7 382.5h0M285.5 301.5h0M262.2 326.9h0M296.1 354.0h0M336.7 391.4h0M214.9 305.1h0M351.8 308.1h0M272.4 391.9h0M345.3 349.9h0M235.8 391.0h0M294.3 380.8h0M279.3 390.5h0M273.9 376.6h0M234.8 368.4h0M342.1 302.3h0M350.0 319.9h0M237.8 313.9h0M352.2 350.0h0M324.2 324.2h0M349.0 352.1h0M293.0 361.7h0M274.9 315.7h0M311.5 377.6h0M338.5 292.2h0M236.2 395.1h0M350.9 308.4h0M284.8 376.7h0M221.5 295.8h0M267.4 341.5h0M346.2 296.2h0M251.8 375.2h0M355.7 393.2h0M273.1 343.8h0M233.2 305.7h0M344.9 310.4h0M251.7 329.5h0M213.5 291.6h0M337.9 384.4h0M349.5 354.4h0M319.7 372.5h0M291.7 330.8h0M344.2 321.4h0M290.8 292.3h0M229.0 374.8h0M259.1 395.0h0M316.5 378.6h0M219.2 366.2h0M259.5 335.4h0" stroke="#cbc2d0" opacity="0.75" fill="none" stroke-width="1" stroke-linecap="round"/>
<path d="M351.7 319.6h0M278.9 302.7h0M330.2 372.1h0M281.0 385.2h0M261.9 351.4h0M285.7 314.9h0M355.3 297.9h0M353.4 327.9h0M347.8 356.7h0M261.2 333.8h0M260.1 391.3h0M286.0 310.8h0" stroke="#bfb6c8" opacity="0.75" fill="none" stroke-width="2" stroke-linecap="round"/>
<path d="M285.6 310.5h0M253.3 380.3h0M341.3 347.4h0M344.3 337.2h0M251.6 352.9h0M231.9 391.2h0M316.7 310.7h0M272.0 309.8h0M242.5 295.1h0M329.4 339.5h0M325.5 348.2h0M244.2 330.2h0M334.1 317.7h0M296.6 363.1h0M247.0 382.8h0M319.5 298.5h0M308.2 348.0h0M291.5 304.3h0M301.9 327.4h0M243.5 302.0h0M234.2 326.2h0M291.8 319.7h0M314.4 341.4h0M286.6 386.6h0M287.7 310.6h0M295.4 392.4h0M302.6 391.1h0M336.1 293.6h0M239.5 375.0h0M353.0 311.5h0M354.6 383.5h0M291.6 375.8h0M239.7 383.5h0M310.8 330.7h0M244.1 365.6h0M318.7 296.0h0M355.2 296.3h0M355.1 365.0h0M331.3 321.2h0M292.6 345.8h0M236.8 343.8h0M306.6 333.2h0M357.5 299.6h0M242.3 318.7h0M261.8 309.8h0M265.4 344.7h0M271.2 395.1h0M267.7 366.2h0M341.5 355.4h0M267.9 290.1h0M216.0 312.4h0M249.5 297.6h0M341.7 352.8h0M230.2 393.4h0M272.7 314.7h0M321.2 311.3h0M317.7 367.6h0M321.8 337.6h0M340.4 389.5h0M255.9 323.1h0M213.8 328.0h0M255.6 325.4h0M328.2 327.2h0M320.9 295.5h0M284.5 371.1h0M356.1 336.3h0M252.7 375.0h0M305.6 387.7h0M213.0 321.4h0M269.4 383.2h0M259.8 342.7h0M355.0 325.7h0M352.8 360.4h0" stroke="#f8f2d4" opacity="0.75" fill="none" stroke-width="1" stroke-linecap="round"/>
<path d="M295.5 294.3h0M283.4 330.4h0M277.5 289.7h0M262.3 380.5h0M321.4 335.0h0M251.4 383.9h0M319.1 381.0h0M215.4 373.4h0M352.0 376.0h0M339.7 322.0h0M242.5 307.5h0M352.6 362.8h0M251.5 296.5h0M219.0 352.7h0M230.4 375.5h0M265.3 332.4h0M241.3 308.6h0M244.6 304.2h0M245.9 368.5h0M252.2 317.7h0M278.5 314.7h0M332.2 314.6h0M222.0 376.2h0M304.9 340.0h0M312.1 325.0h0M356.1 395.2h0M270.0 359.3h0M355.6 350.5h0M239.3 324.5h0M353.6 302.6h0M311.3 383.2h0M292.1 336.5h0M268.0 297.4h0M309.9 314.8h0M224.3 390.9h0M307.1 354.1h0M347.6 327.4h0M330.6 340.9h0M259.8 338.0h0M336.2 365.8h0M329.6 362.1h0M331.4 370.3h0M323.3 360.6h0M335.8 363.1h0M287.1 326.7h0M271.4 361.6h0M213.7 319.7h0M268.8 371.2h0M329.5 361.2h0M350.4 344.5h0M329.6 365.4h0M327.9 337.7h0M268.6 306.2h0M314.7 340.9h0M308.0 385.2h0M331.3 332.9h0M227.6 312.9h0M257.4 307.5h0M251.5 332.1h0M246.4 324.4h0M327.3 312.2h0M269.5 356.2h0M300.3 339.9h0M239.3 335.9h0M258.7 321.3h0M268.3 352.8h0M241.6 352.8h0M317.0 319.8h0M307.3 303.4h0M343.3 356.4h0M228.3 385.7h0M268.9 313.7h0M299.4 357.7h0M216.3 308.0h0M247.4 391.5h0M232.9 390.7h0M218.2 343.9h0M217.7 353.4h0M346.2 380.9h0M229.3 338.0h0M278.7 345.9h0M310.5 388.3h0M340.7 360.7h0M287.6 346.5h0M312.1 376.3h0M296.1 372.5h0M322.3 367.5h0M237.9 367.0h0M241.1 379.0h0" stroke="#dccfb8" opacity="0.75" fill="none" stroke-width="1" stroke-linecap="round"/>
<path d="M214.7 383.4h0M323.2 319.5h0M229.4 348.6h0M316.9 291.0h0M243.2 342.4h0M333.9 370.8h0M355.7 364.8h0M278.3 302.5h0M302.7 344.7h0M333.1 293.1h0M236.4 364.5h0M315.5 314.7h0M287.3 305.2h0M313.5 311.8h0M255.7 382.3h0M285.0 291.5h0M293.4 296.5h0M228.3 361.1h0M310.3 340.6h0M357.6 368.2h0M271.2 384.2h0M280.4 370.6h0M294.8 396.5h0M245.1 329.2h0M291.8 362.2h0M272.5 351.2h0M354.2 390.9h0M333.2 388.6h0M356.8 371.4h0M275.2 310.6h0M289.7 315.8h0M336.9 378.0h0M263.4 326.1h0M229.7 303.4h0M220.7 332.1h0M316.3 391.3h0M295.7 357.9h0M318.9 324.9h0M216.6 357.1h0M220.5 341.0h0M276.7 295.7h0M334.5 310.4h0M329.9 379.7h0M233.5 377.8h0M338.8 374.3h0M227.6 330.6h0M232.5 334.0h0M310.5 320.2h0M290.4 300.5h0M230.2 392.0h0M285.5 355.4h0M292.3 319.5h0M346.0 385.0h0M335.7 371.8h0M291.8 357.7h0M237.4 337.9h0M247.0 352.8h0M340.4 297.3h0M282.2 389.9h0M300.9 329.1h0M280.1 372.7h0M273.3 353.0h0M269.6 342.3h0M258.0 346.6h0M223.0 288.6h0M269.0 329.0h0M281.4 348.6h0M294.7 298.1h0M289.0 394.5h0M281.5 396.3h0M255.2 302.5h0M298.0 384.1h0M347.9 342.1h0M260.2 361.2h0M257.0 313.5h0M323.3 374.1h0M218.0 391.8h0M281.8 339.1h0M261.6 334.3h0M350.1 373.3h0M301.7 368.5h0M230.6 337.0h0M282.8 318.7h0M268.3 303.6h0M337.1 337.3h0M307.7 345.9h0M320.6 326.9h0M335.8 350.2h0M297.7 288.5h0M246.1 358.1h0M340.8 297.8h0M317.9 326.9h0" stroke="#d2c8c4" opacity="0.75" fill="none" stroke-width="1" stroke-linecap="round"/>
<path d="M287.8 350.7h0M307.2 361.2h0M221.1 324.9h0M264.3 290.1h0M321.2 293.1h0M288.3 311.4h0M282.2 373.2h0M248.2 372.5h0M348.2 331.2h0M342.1 330.1h0M301.2 355.0h0M248.9 293.3h0M306.2 393.9h0M326.2 293.7h0M258.4 353.0h0M308.3 315.1h0M237.4 322.3h0M226.2 306.6h0M247.6 308.6h0M312.2 366.2h0M263.8 309.1h0M308.6 334.8h0M248.4 318.2h0M231.4 317.8h0M263.0 387.5h0M237.4 340.1h0M281.1 371.2h0M279.5 328.0h0M357.2 352.9h0M315.5 295.4h0M326.1 381.2h0M342.9 392.2h0M278.7 315.0h0M221.2 352.2h0M267.8 388.3h0M248.6 366.1h0M279.6 309.0h0M221.8 341.8h0M220.1 386.2h0M349.3 396.1h0M299.3 379.1h0M344.1 382.8h0M259.9 332.6h0M311.5 306.0h0M224.0 331.0h0M312.5 375.3h0M334.2 369.0h0M307.6 308.2h0M356.6 358.0h0M298.2 320.9h0M290.9 292.2h0M214.4 357.3h0M214.2 331.0h0M266.5 339.6h0M285.3 327.6h0M240.7 298.1h0M345.2 385.1h0M260.1 367.6h0M316.6 331.0h0M320.1 307.3h0M231.1 389.5h0M331.8 311.0h0M279.9 337.1h0M288.3 361.5h0M301.5 342.1h0M308.2 321.0h0M312.9 376.7h0M256.9 390.4h0M291.0 395.8h0M267.5 367.5h0M281.2 394.2h0M290.9 365.9h0M304.6 336.1h0M218.1 291.7h0" stroke="#f6f0d2" opacity="0.75" fill="none" stroke-width="1.5" stroke-linecap="round"/>
<path d="M231.7 335.0h0M245.4 375.5h0M296.4 347.9h0M300.4 310.4h0M330.6 352.4h0M224.6 316.4h0M283.5 349.0h0M298.2 319.3h0M331.0 300.1h0M293.7 330.8h0M241.9 346.2h0M338.2 342.4h0M331.8 336.1h0" stroke="#f6f0d2" opacity="0.75" fill="none" stroke-width="2" stroke-linecap="round"/>
<path d="M340.7 305.9h0M308.0 341.5h0M319.0 386.7h0M328.2 304.3h0M271.9 368.4h0M347.5 387.8h0M354.4 355.4h0M335.5 308.0h0M328.9 312.8h0M288.9 350.5h0M276.0 291.0h0M249.9 296.8h0M258.4 373.1h0M219.3 288.6h0M216.1 340.0h0M312.2 360.1h0M295.0 360.8h0M336.0 291.2h0M319.4 317.6h0M339.5 377.3h0M242.7 367.7h0M327.0 336.7h0M249.7 390.9h0M248.9 311.8h0M336.2 318.7h0M291.3 332.2h0M230.7 317.5h0M268.3 296.9h0M328.1 327.8h0M285.4 371.9h0M240.5 345.5h0M214.0 355.1h0M253.4 291.2h0M300.7 387.6h0M323.4 340.2h0M287.5 356.4h0M247.1 342.5h0M349.5 298.9h0M268.4 356.3h0M311.1 355.4h0M227.1 355.3h0M260.7 291.9h0M307.4 380.4h0M347.6 329.5h0M246.4 329.1h0M290.5 341.4h0M294.8 309.6h0M261.4 392.0h0M228.7 302.2h0M240.9 345.7h0M351.7 313.6h0M248.7 376.3h0M270.9 363.5h0M328.8 345.9h0M239.1 308.5h0M242.6 317.3h0M278.3 297.6h0M356.8 357.1h0M337.5 314.2h0M355.5 332.3h0M345.4 326.9h0M324.2 369.9h0M343.9 324.8h0M248.7 380.5h0M320.8 341.1h0M347.8 381.5h0M294.4 293.7h0M273.6 351.6h0M264.6 380.0h0M309.2 290.8h0M289.4 315.9h0M327.0 288.6h0M234.6 373.9h0M281.4 298.4h0M301.9 350.4h0M255.9 298.2h0M268.1 323.8h0M348.5 298.1h0M293.9 326.1h0M299.1 393.7h0M261.3 324.8h0M295.5 359.3h0M327.9 344.1h0M248.3 288.7h0M283.3 373.5h0" stroke="#dccfb8" opacity="0.75" fill="none" stroke-width="1.5" stroke-linecap="round"/>
<path d="M337.1 346.3h0M340.8 343.0h0M276.1 357.9h0M309.4 362.5h0M244.2 314.3h0M354.9 300.1h0M341.9 344.0h0M228.9 292.0h0M227.1 316.9h0M219.1 294.7h0M332.8 393.6h0M352.2 296.3h0M283.4 335.7h0" stroke="#d2c8c4" opacity="0.75" fill="none" stroke-width="2" stroke-linecap="round"/>
<path d="M324.2 325.4h0M294.5 359.3h0M309.7 349.3h0M245.2 387.1h0M229.4 347.7h0M338.9 313.1h0M282.4 334.5h0M225.1 361.6h0M324.3 383.3h0M280.7 370.5h0M239.5 338.2h0M268.8 329.3h0" stroke="#c4bacc" opacity="0.75" fill="none" stroke-width="2" stroke-linecap="round"/>
<path d="M241.2 355.5h0M221.6 294.2h0M260.2 326.2h0M235.9 301.8h0M265.4 368.8h0M344.8 350.9h0M333.8 321.2h0" stroke="#d8ccc0" opacity="0.75" fill="none" stroke-width="2" stroke-linecap="round"/>
<path d="M356.6 381.5h0M222.0 342.6h0M256.6 391.6h0M330.6 320.2h0M339.9 307.4h0M325.3 318.1h0M355.8 340.6h0M253.8 367.5h0M323.1 342.5h0" stroke="#cbc2d0" opacity="0.75" fill="none" stroke-width="2" stroke-linecap="round"/>
<path d="M355.3 355.6h0M275.1 357.5h0M249.2 345.0h0M284.0 373.5h0M347.4 333.5h0M213.3 376.3h0M254.1 347.3h0M227.6 301.5h0" stroke="#f8f2d4" opacity="0.75" fill="none" stroke-width="2" stroke-linecap="round"/>
<ellipse cx="238.4" cy="294" rx="6.34" ry="5.10" fill="#4a4294"/>
<path d="M236.3 289.7h0M234.0 294.7h0M242.4 290.7h0" stroke="#5e54a8" fill="none" stroke-width="2" stroke-linecap="round"/>
<path d="M245.0 292.5h0M234.5 295.9h0" stroke="#6a60b0" fill="none" stroke-width="2.5" stroke-linecap="round"/>
<path d="M243.5 297.3h0M243.9 290.5h0" stroke="#6a60b0" fill="none" stroke-width="2" stroke-linecap="round"/>
<path d="M239.5 290.6h0" stroke="#50469c" fill="none" stroke-width="3" stroke-linecap="round"/>
<path d="M234.3 290.2h0" stroke="#4a4296" fill="none" stroke-width="1.5" stroke-linecap="round"/>
<path d="M238.3 292.4h0M231.1 294.2h0M244.3 290.8h0" stroke="#50469c" fill="none" stroke-width="2" stroke-linecap="round"/>
<path d="M242.0 289.0h0M235.9 297.1h0M232.7 297.1h0" stroke="#50469c" fill="none" stroke-width="2.5" stroke-linecap="round"/>
<path d="M239.6 292.0h0M233.6 297.2h0M234.0 291.7h0M234.4 290.7h0" stroke="#5e54a8" fill="none" stroke-width="2.5" stroke-linecap="round"/>
<path d="M235.7 298.7h0M243.6 297.5h0M238.4 289.0h0M235.6 295.5h0" stroke="#403888" fill="none" stroke-width="2" stroke-linecap="round"/>
<path d="M233.3 295.7h0" stroke="#50469c" fill="none" stroke-width="1.5" stroke-linecap="round"/>
<path d="M234.2 296.5h0M243.2 290.8h0" stroke="#5e54a8" fill="none" stroke-width="3" stroke-linecap="round"/>
<path d="M240.5 291.0h0" stroke="#4a4296" fill="none" stroke-width="2.5" stroke-linecap="round"/>
<path d="M240.3 296.4h0M232.5 292.6h0" stroke="#403888" fill="none" stroke-width="1.5" stroke-linecap="round"/>
<path d="M244.9 295.6h0M245.2 294.3h0M233.8 298.4h0" stroke="#f6f2e0" opacity="0.95" fill="none" stroke-width="1.5" stroke-linecap="round"/>
<path d="M238.8 291.8h0" stroke="#9a92c8" fill="none" stroke-width="1.5" stroke-linecap="round"/>
<path d="M244.8 295.5h0M239.6 298.5h0M237.3 299.7h0" stroke="#f6f2e0" opacity="0.95" fill="none" stroke-width="2.5" stroke-linecap="round"/>
<path d="M235.7 298.7h0M234.4 298.2h0M243.0 298.3h0M234.9 289.3h0M243.5 293.9h0" stroke="#f6f2e0" opacity="0.95" fill="none" stroke-width="2" stroke-linecap="round"/>
<path d="M241.1 292.6h0" stroke="#9a92c8" fill="none" stroke-width="2" stroke-linecap="round"/>
<ellipse cx="254.3" cy="296" rx="5.72" ry="5.72" fill="#4a4294"/>
<path d="M248.9 295.2h0M251.4 290.9h0M256.3 291.4h0" stroke="#403888" fill="none" stroke-width="2.5" stroke-linecap="round"/>
<path d="M255.5 295.4h0M258.3 300.7h0M258.7 299.2h0" stroke="#6a60b0" fill="none" stroke-width="2.5" stroke-linecap="round"/>
<path d="M255.2 291.1h0" stroke="#4a4296" fill="none" stroke-width="2" stroke-linecap="round"/>
<path d="M249.5 292.7h0M253.7 294.2h0" stroke="#403888" fill="none" stroke-width="3" stroke-linecap="round"/>
<path d="M260.0 293.6h0M252.9 301.2h0M255.4 295.2h0" stroke="#5e54a8" fill="none" stroke-width="2.5" stroke-linecap="round"/>
<path d="M250.2 296.4h0M254.8 302.2h0M253.1 296.2h0M253.0 291.4h0M258.9 298.7h0" stroke="#4a4296" fill="none" stroke-width="3" stroke-linecap="round"/>
<path d="M260.4 296.0h0M259.7 292.2h0" stroke="#403888" fill="none" stroke-width="1.5" stroke-linecap="round"/>
<path d="M254.5 294.5h0" stroke="#50469c" fill="none" stroke-width="1.5" stroke-linecap="round"/>
<path d="M254.5 299.5h0M249.7 298.0h0" stroke="#403888" fill="none" stroke-width="2" stroke-linecap="round"/>
<path d="M248.3 293.6h0" stroke="#4a4296" fill="none" stroke-width="2.5" stroke-linecap="round"/>
<path d="M257.6 299.7h0" stroke="#4a4296" fill="none" stroke-width="1.5" stroke-linecap="round"/>
<path d="M256.1 292.8h0M251.1 299.1h0" stroke="#5e54a8" fill="none" stroke-width="3" stroke-linecap="round"/>
<path d="M251.2 290.6h0" stroke="#50469c" fill="none" stroke-width="2" stroke-linecap="round"/>
<path d="M252.2 298.7h0M254.4 293.4h0" stroke="#6a60b0" fill="none" stroke-width="2" stroke-linecap="round"/>
<path d="M254.3 302.1h0M251.0 300.0h0M252.4 301.1h0M250.4 292.9h0" stroke="#f6f2e0" opacity="0.95" fill="none" stroke-width="1.5" stroke-linecap="round"/>
<path d="M258.3 300.4h0M255.1 300.6h0M255.1 300.9h0M250.0 298.1h0M257.8 299.8h0M254.1 302.3h0" stroke="#f6f2e0" opacity="0.95" fill="none" stroke-width="2" stroke-linecap="round"/>
<path d="M251.7 296.9h0" stroke="#9a92c8" fill="none" stroke-width="1.5" stroke-linecap="round"/>
<path d="M250.9 292.0h0M252.5 301.6h0" stroke="#f6f2e0" opacity="0.95" fill="none" stroke-width="2.5" stroke-linecap="round"/>
<ellipse cx="265.8" cy="291.8" rx="3.78" ry="3.17" fill="#4a4294"/>
<path d="M265.0 288.4h0" stroke="#4a4296" fill="none" stroke-width="2" stroke-linecap="round"/>
<path d="M265.9 295.2h0" stroke="#403888" fill="none" stroke-width="2" stroke-linecap="round"/>
<path d="M266.5 295.2h0" stroke="#5e54a8" fill="none" stroke-width="2.5" stroke-linecap="round"/>
<path d="M268.6 289.7h0" stroke="#403888" fill="none" stroke-width="3" stroke-linecap="round"/>
<path d="M268.6 292.7h0" stroke="#6a60b0" fill="none" stroke-width="1.5" stroke-linecap="round"/>
<path d="M269.7 293.1h0" stroke="#50469c" fill="none" stroke-width="3" stroke-linecap="round"/>
<path d="M268.2 294.1h0" stroke="#5e54a8" fill="none" stroke-width="2" stroke-linecap="round"/>
<path d="M267.4 292.4h0" stroke="#6a60b0" fill="none" stroke-width="2.5" stroke-linecap="round"/>
<path d="M268.4 293.4h0" stroke="#6a60b0" fill="none" stroke-width="3" stroke-linecap="round"/>
<path d="M268.0 290.6h0" stroke="#4a4296" fill="none" stroke-width="3" stroke-linecap="round"/>
<path d="M263.6 294.8h0M268.6 293.4h0" stroke="#f6f2e0" opacity="0.95" fill="none" stroke-width="2" stroke-linecap="round"/>
<path d="M269.7 290.7h0M268.3 293.7h0" stroke="#f6f2e0" opacity="0.95" fill="none" stroke-width="1.5" stroke-linecap="round"/>
<ellipse cx="246" cy="291" rx="4.40" ry="3.08" fill="#4a4294"/>
<path d="M242.3 292.1h0" stroke="#403888" fill="none" stroke-width="2.5" stroke-linecap="round"/>
<path d="M244.0 289.9h0M246.0 290.2h0M242.4 289.0h0" stroke="#6a60b0" fill="none" stroke-width="3" stroke-linecap="round"/>
<path d="M242.3 292.1h0" stroke="#5e54a8" fill="none" stroke-width="2" stroke-linecap="round"/>
<path d="M247.1 293.5h0" stroke="#50469c" fill="none" stroke-width="2.5" stroke-linecap="round"/>
<path d="M247.1 288.8h0M242.1 292.7h0" stroke="#5e54a8" fill="none" stroke-width="3" stroke-linecap="round"/>
<path d="M244.2 290.3h0" stroke="#403888" fill="none" stroke-width="3" stroke-linecap="round"/>
<path d="M248.7 292.8h0" stroke="#403888" fill="none" stroke-width="2" stroke-linecap="round"/>
<path d="M248.6 290.1h0" stroke="#6a60b0" fill="none" stroke-width="1.5" stroke-linecap="round"/>
<path d="M246.0 292.4h0" stroke="#50469c" fill="none" stroke-width="2" stroke-linecap="round"/>
<path d="M242.1 290.9h0" stroke="#f6f2e0" opacity="0.95" fill="none" stroke-width="1.5" stroke-linecap="round"/>
<path d="M245.2 291.5h0" stroke="#9a92c8" fill="none" stroke-width="1" stroke-linecap="round"/>
<path d="M246.7 293.4h0M242.4 291.3h0" stroke="#f6f2e0" opacity="0.95" fill="none" stroke-width="2" stroke-linecap="round"/>
<path d="M246.6 292.4h0" stroke="#9a92c8" fill="none" stroke-width="1.5" stroke-linecap="round"/>
<ellipse cx="273" cy="321.3" rx="6.51" ry="6.16" fill="#6a60ae"/>
<path d="M267.9 325.0h0M270.8 324.5h0M278.2 317.6h0M267.1 322.7h0M270.6 326.9h0M274.4 325.2h0" stroke="#50469c" fill="none" stroke-width="2" stroke-linecap="round"/>
<path d="M267.5 326.1h0M267.6 317.9h0" stroke="#50469c" fill="none" stroke-width="3" stroke-linecap="round"/>
<path d="M266.3 321.4h0" stroke="#6a60b0" fill="none" stroke-width="1.5" stroke-linecap="round"/>
<path d="M276.7 316.3h0M273.4 324.8h0" stroke="#5e54a8" fill="none" stroke-width="1.5" stroke-linecap="round"/>
<path d="M275.1 318.4h0" stroke="#4a4296" fill="none" stroke-width="2" stroke-linecap="round"/>
<path d="M271.7 317.7h0" stroke="#6a60b0" fill="none" stroke-width="3" stroke-linecap="round"/>
<path d="M268.0 316.7h0" stroke="#6a60b0" fill="none" stroke-width="2" stroke-linecap="round"/>
<path d="M273.8 318.6h0M273.3 317.4h0M270.5 320.8h0" stroke="#5e54a8" fill="none" stroke-width="2" stroke-linecap="round"/>
<path d="M273.9 324.3h0M278.9 316.8h0M269.8 319.9h0M275.0 326.9h0M278.6 324.9h0" stroke="#4a4296" fill="none" stroke-width="3" stroke-linecap="round"/>
<path d="M276.9 317.4h0M272.0 322.4h0M273.0 327.7h0" stroke="#6a60b0" fill="none" stroke-width="2.5" stroke-linecap="round"/>
<path d="M276.2 320.7h0M277.5 315.9h0" stroke="#5e54a8" fill="none" stroke-width="3" stroke-linecap="round"/>
<path d="M275.2 322.9h0M271.9 316.4h0M270.0 323.0h0" stroke="#50469c" fill="none" stroke-width="2.5" stroke-linecap="round"/>
<path d="M279.1 324.7h0M277.6 326.9h0M273.5 327.8h0" stroke="#403888" fill="none" stroke-width="2.5" stroke-linecap="round"/>
<path d="M273.0 316.9h0" stroke="#403888" fill="none" stroke-width="2" stroke-linecap="round"/>
<path d="M266.2 318.3h0" stroke="#403888" fill="none" stroke-width="1.5" stroke-linecap="round"/>
<path d="M267.7 316.5h0" stroke="#403888" fill="none" stroke-width="3" stroke-linecap="round"/>
<path d="M276.8 321.0h0" stroke="#f6f2e0" opacity="0.95" fill="none" stroke-width="2.5" stroke-linecap="round"/>
<path d="M274.6 319.8h0M275.8 314.9h0M271.4 327.8h0M270.0 315.6h0" stroke="#f6f2e0" opacity="0.95" fill="none" stroke-width="2" stroke-linecap="round"/>
<path d="M278.3 324.5h0M268.1 326.2h0M268.6 322.8h0M266.6 324.0h0M270.5 323.7h0" stroke="#f6f2e0" opacity="0.95" fill="none" stroke-width="1.5" stroke-linecap="round"/>
<path d="M271.5 324.2h0" stroke="#9a92c8" fill="none" stroke-width="2" stroke-linecap="round"/>
<path d="M275.5 318.6h0M273.5 319.5h0M271.4 325.1h0M275.2 323.5h0" stroke="#9a92c8" fill="none" stroke-width="1.5" stroke-linecap="round"/>
<path d="M273.5 323.9h0" stroke="#9a92c8" fill="none" stroke-width="1" stroke-linecap="round"/>
<ellipse cx="330.5" cy="320.7" rx="15.84" ry="15.40" fill="#4a4294"/>
<path d="M337.9 332.4h0M318.6 333.0h0M327.2 327.2h0M328.7 310.1h0M321.7 334.2h0M332.8 330.5h0M341.1 316.7h0M339.5 306.7h0M326.8 307.1h0M321.8 321.8h0M320.0 333.3h0M335.0 329.4h0" stroke="#5e54a8" fill="none" stroke-width="2" stroke-linecap="round"/>
<path d="M340.1 327.0h0M314.3 320.7h0M330.8 304.5h0M321.0 315.7h0M334.2 326.8h0M320.6 305.7h0M334.9 306.9h0M343.7 309.3h0M323.8 334.9h0M338.2 315.3h0M341.9 314.7h0M344.2 311.1h0M330.1 322.6h0" stroke="#6a60b0" fill="none" stroke-width="2" stroke-linecap="round"/>
<path d="M327.1 329.2h0M337.6 310.4h0M329.3 335.6h0M342.5 310.8h0M335.6 329.4h0M332.2 336.1h0M331.6 337.2h0M331.7 316.4h0M323.9 307.1h0M338.8 321.0h0M333.9 314.1h0M336.5 306.0h0M329.7 310.6h0M318.2 325.1h0M337.3 306.3h0M329.5 322.8h0M331.8 317.7h0M344.3 331.2h0" stroke="#403888" fill="none" stroke-width="2.5" stroke-linecap="round"/>
<path d="M333.0 306.9h0M325.0 319.4h0M333.2 304.9h0M333.2 314.8h0M341.9 332.7h0M337.7 324.9h0" stroke="#403888" fill="none" stroke-width="3" stroke-linecap="round"/>
<path d="M327.9 337.1h0M328.2 330.5h0M337.3 323.3h0M334.4 305.1h0M320.9 334.4h0M327.9 312.7h0M336.8 331.5h0M316.9 324.0h0M317.7 310.3h0M316.3 326.1h0M327.0 326.6h0M346.0 317.1h0M333.5 303.6h0M343.2 309.7h0M316.7 312.8h0M334.4 320.9h0M332.9 315.8h0M316.7 328.4h0" stroke="#4a4296" fill="none" stroke-width="3" stroke-linecap="round"/>
<path d="M338.6 304.9h0M316.1 312.3h0M324.8 317.3h0M322.2 309.8h0M330.5 332.8h0M333.2 309.8h0M319.2 317.1h0M340.7 308.1h0M329.4 311.3h0M319.9 315.3h0M336.3 315.5h0M316.1 318.1h0M339.5 331.1h0M348.6 323.7h0M313.5 316.9h0M326.6 327.7h0M319.6 332.2h0M313.2 322.0h0M335.6 309.0h0M327.0 316.8h0" stroke="#6a60b0" fill="none" stroke-width="3" stroke-linecap="round"/>
<path d="M330.1 303.9h0M334.4 334.9h0M328.8 309.6h0M326.1 328.8h0M338.2 334.1h0M335.6 327.2h0M325.7 318.8h0M329.3 328.2h0M327.6 328.7h0M335.8 330.7h0M329.8 310.3h0M336.4 311.4h0M331.5 304.9h0" stroke="#5e54a8" fill="none" stroke-width="2.5" stroke-linecap="round"/>
<path d="M321.7 327.3h0M324.6 315.9h0M315.4 327.1h0M325.0 334.3h0M338.8 327.2h0M340.8 316.2h0M342.3 320.9h0M318.1 332.4h0M338.1 308.3h0M317.5 308.3h0M316.0 331.1h0M326.1 323.5h0M343.2 316.7h0M323.5 333.0h0" stroke="#4a4296" fill="none" stroke-width="2" stroke-linecap="round"/>
<path d="M345.4 330.9h0M332.6 327.0h0M313.3 316.7h0M334.4 335.0h0M330.2 314.3h0M332.4 324.2h0" stroke="#6a60b0" fill="none" stroke-width="1.5" stroke-linecap="round"/>
<path d="M338.6 329.6h0M319.4 334.0h0M345.7 323.1h0M347.3 323.2h0M322.5 328.7h0M339.9 325.1h0M323.4 321.1h0M345.5 321.0h0M329.8 327.7h0" stroke="#4a4296" fill="none" stroke-width="1.5" stroke-linecap="round"/>
<path d="M344.7 324.3h0M328.0 312.5h0M333.0 332.5h0M325.3 324.2h0M332.6 326.0h0M334.7 323.0h0M326.6 320.1h0M328.1 311.5h0M318.8 314.6h0M342.8 327.3h0M342.0 330.2h0M332.7 303.9h0M346.6 314.7h0" stroke="#5e54a8" fill="none" stroke-width="3" stroke-linecap="round"/>
<path d="M319.1 324.3h0M343.7 320.0h0M318.1 317.7h0M314.4 313.1h0M336.9 308.3h0M340.8 331.0h0M348.2 322.0h0M323.5 331.7h0M337.4 322.0h0M326.1 307.3h0M326.6 307.5h0M320.5 308.0h0M323.4 326.3h0" stroke="#50469c" fill="none" stroke-width="3" stroke-linecap="round"/>
<path d="M318.1 333.4h0M338.2 310.8h0M329.6 318.9h0M319.3 315.6h0M342.5 311.8h0M344.1 331.5h0M336.4 304.5h0M342.2 317.2h0M324.3 311.0h0M334.8 327.8h0M326.6 305.2h0" stroke="#6a60b0" fill="none" stroke-width="2.5" stroke-linecap="round"/>
<path d="M327.8 305.7h0M329.3 303.6h0M334.7 308.4h0" stroke="#403888" fill="none" stroke-width="1.5" stroke-linecap="round"/>
<path d="M325.9 330.0h0M332.1 325.6h0M331.7 330.1h0" stroke="#50469c" fill="none" stroke-width="1.5" stroke-linecap="round"/>
<path d="M343.3 314.9h0M339.5 327.5h0M314.4 313.6h0M334.1 326.1h0M328.5 308.7h0M345.6 318.0h0M326.0 322.1h0M326.8 314.5h0M342.4 329.7h0M316.6 317.5h0M334.3 327.3h0M336.8 310.7h0M333.1 327.8h0M329.8 319.8h0M328.7 325.5h0" stroke="#50469c" fill="none" stroke-width="2" stroke-linecap="round"/>
<path d="M348.5 322.6h0M324.4 329.8h0M327.5 334.4h0M337.0 309.3h0M320.2 316.5h0M319.6 311.3h0M314.5 324.8h0M324.6 328.1h0M332.8 309.6h0M344.3 325.9h0M346.1 315.8h0M312.8 325.1h0M347.5 315.3h0M339.0 335.5h0" stroke="#50469c" fill="none" stroke-width="2.5" stroke-linecap="round"/>
<path d="M322.1 313.5h0M321.1 335.0h0M324.3 313.5h0M344.2 315.9h0M338.2 304.9h0M336.4 320.0h0M339.5 323.1h0M331.9 328.5h0" stroke="#4a4296" fill="none" stroke-width="2.5" stroke-linecap="round"/>
<path d="M315.8 330.2h0M322.1 331.8h0M336.3 323.0h0M339.5 311.3h0M322.2 327.2h0M313.0 315.6h0M324.3 324.8h0M327.7 316.9h0M328.2 309.9h0" stroke="#403888" fill="none" stroke-width="2" stroke-linecap="round"/>
<path d="M337.7 324.8h0M329.5 310.7h0" stroke="#5e54a8" fill="none" stroke-width="1.5" stroke-linecap="round"/>
<path d="M343.4 322.8h0M344.8 322.1h0M335.4 309.3h0M345.0 322.9h0M338.9 335.1h0M345.9 312.5h0M316.2 312.2h0M343.1 319.0h0M342.9 314.0h0M342.4 333.6h0M336.3 304.5h0M343.4 311.0h0M327.7 330.9h0M347.3 316.6h0M346.2 316.7h0M328.7 305.1h0M325.9 308.8h0M347.2 318.9h0M347.2 326.1h0M347.3 325.8h0M333.0 305.6h0M327.8 307.9h0M329.4 305.4h0M320.0 328.9h0M319.4 307.7h0M321.0 310.3h0M343.3 320.9h0M338.3 333.5h0M329.6 307.3h0M341.6 308.9h0M331.8 307.4h0M328.3 310.7h0M321.5 323.7h0M335.3 305.8h0M342.4 327.3h0M330.2 337.1h0M331.2 335.4h0M326.2 307.9h0M348.0 316.9h0M340.8 327.5h0M343.5 314.7h0M344.7 313.7h0M348.0 322.9h0M345.3 328.6h0M323.8 306.0h0M341.3 311.2h0M343.3 320.0h0M346.5 323.9h0M344.3 311.1h0M340.2 311.7h0M342.6 328.0h0M339.9 334.7h0" stroke="#f6f2e0" opacity="0.95" fill="none" stroke-width="1.5" stroke-linecap="round"/>
<path d="M334.6 332.8h0M344.3 322.8h0M339.8 329.1h0M340.6 308.8h0M341.3 312.9h0M335.2 308.9h0M344.8 316.4h0M347.2 322.6h0M318.1 326.9h0M332.9 329.9h0M327.3 307.8h0M333.0 327.4h0M337.0 309.6h0M331.3 305.7h0M338.2 317.0h0M320.9 306.4h0M327.7 308.6h0M341.7 327.2h0M341.8 311.6h0M342.6 325.1h0M340.7 333.6h0M341.9 315.2h0M318.1 330.4h0M341.8 314.0h0M332.1 333.3h0M319.5 308.9h0M330.2 304.2h0M343.2 327.5h0M318.6 308.3h0" stroke="#f6f2e0" opacity="0.95" fill="none" stroke-width="2" stroke-linecap="round"/>
<path d="M344.5 327.2h0M343.1 325.0h0M333.0 315.4h0M341.4 332.2h0M346.6 328.4h0M328.9 305.0h0M316.3 322.4h0M331.6 305.7h0" stroke="#f6f2e0" opacity="0.95" fill="none" stroke-width="2.5" stroke-linecap="round"/>
<path d="M340.0 314.3h0M333.3 322.6h0M326.9 326.6h0M328.0 312.2h0M333.0 317.6h0" stroke="#9a92c8" fill="none" stroke-width="1.5" stroke-linecap="round"/>
<path d="M345.3 326.9h0M347.0 326.5h0" stroke="#f6f2e0" opacity="0.95" fill="none" stroke-width="1" stroke-linecap="round"/>
<path d="M325.0 315.9h0M323.4 320.9h0" stroke="#9a92c8" fill="none" stroke-width="1" stroke-linecap="round"/>
<path d="M341.0 325.7h0M320.9 316.7h0" stroke="#9a92c8" fill="none" stroke-width="2" stroke-linecap="round"/>
<ellipse cx="222" cy="330" rx="8.80" ry="10.56" fill="#4a4294"/>
<path d="M230.7 335.9h0M214.9 334.6h0" stroke="#6a60b0" fill="none" stroke-width="1.5" stroke-linecap="round"/>
<path d="M231.6 333.2h0M230.0 329.4h0M223.8 327.1h0M221.1 335.5h0M214.0 325.6h0M217.8 329.2h0" stroke="#50469c" fill="none" stroke-width="2" stroke-linecap="round"/>
<path d="M223.7 333.5h0" stroke="#5e54a8" fill="none" stroke-width="1.5" stroke-linecap="round"/>
<path d="M225.2 326.2h0M217.3 340.1h0M229.2 336.1h0M219.0 325.9h0M213.6 334.4h0M230.2 324.4h0M219.6 329.4h0" stroke="#403888" fill="none" stroke-width="3" stroke-linecap="round"/>
<path d="M230.7 331.3h0M227.7 325.7h0M228.9 333.1h0M213.0 335.0h0M218.2 320.2h0M226.5 328.8h0M219.8 321.5h0" stroke="#4a4296" fill="none" stroke-width="3" stroke-linecap="round"/>
<path d="M229.2 330.7h0M226.1 338.3h0M229.0 334.7h0M222.5 328.5h0" stroke="#50469c" fill="none" stroke-width="3" stroke-linecap="round"/>
<path d="M222.0 335.6h0M223.8 319.9h0M216.3 334.9h0M227.3 320.7h0M225.9 334.6h0" stroke="#4a4296" fill="none" stroke-width="2.5" stroke-linecap="round"/>
<path d="M223.1 340.6h0M222.4 323.7h0" stroke="#403888" fill="none" stroke-width="1.5" stroke-linecap="round"/>
<path d="M229.2 331.5h0M216.6 322.7h0M221.7 318.0h0M223.7 333.5h0M214.7 331.3h0M215.7 324.4h0M213.5 330.0h0" stroke="#403888" fill="none" stroke-width="2.5" stroke-linecap="round"/>
<path d="M215.8 327.5h0M226.2 332.2h0M212.6 331.3h0M212.8 333.0h0" stroke="#6a60b0" fill="none" stroke-width="3" stroke-linecap="round"/>
<path d="M218.6 333.7h0M225.3 319.6h0M227.9 320.1h0M223.0 325.2h0M217.0 337.6h0M216.9 337.8h0M223.6 325.3h0M225.5 322.4h0" stroke="#50469c" fill="none" stroke-width="2.5" stroke-linecap="round"/>
<path d="M228.1 330.5h0M228.2 333.1h0" stroke="#4a4296" fill="none" stroke-width="1.5" stroke-linecap="round"/>
<path d="M220.8 328.0h0M225.8 334.4h0M226.9 338.1h0" stroke="#5e54a8" fill="none" stroke-width="3" stroke-linecap="round"/>
<path d="M216.6 335.9h0M221.8 326.1h0" stroke="#6a60b0" fill="none" stroke-width="2.5" stroke-linecap="round"/>
<path d="M226.2 331.9h0M231.7 327.9h0M221.9 321.3h0M223.0 325.2h0M218.2 323.6h0M227.3 320.1h0" stroke="#5e54a8" fill="none" stroke-width="2" stroke-linecap="round"/>
<path d="M217.9 336.2h0M226.6 328.5h0M225.5 330.0h0" stroke="#4a4296" fill="none" stroke-width="2" stroke-linecap="round"/>
<path d="M227.1 324.5h0M225.5 328.0h0" stroke="#50469c" fill="none" stroke-width="1.5" stroke-linecap="round"/>
<path d="M226.0 329.5h0M221.8 324.0h0M219.2 323.9h0M223.2 341.0h0M221.5 334.7h0" stroke="#6a60b0" fill="none" stroke-width="2" stroke-linecap="round"/>
<path d="M225.4 323.6h0M216.4 328.2h0M219.5 328.1h0M225.2 329.8h0M230.2 331.2h0" stroke="#403888" fill="none" stroke-width="2" stroke-linecap="round"/>
<path d="M215.9 326.5h0M219.1 320.0h0M220.2 326.0h0" stroke="#5e54a8" fill="none" stroke-width="2.5" stroke-linecap="round"/>
<path d="M230.4 332.1h0M229.2 327.2h0M228.2 321.4h0M229.0 337.9h0M230.9 333.8h0M230.6 328.6h0M229.0 333.6h0M229.8 330.3h0M229.2 325.2h0M227.6 335.6h0M228.0 334.7h0M229.0 328.8h0M229.1 338.4h0" stroke="#f6f2e0" opacity="0.95" fill="none" stroke-width="2" stroke-linecap="round"/>
<path d="M223.2 332.8h0M223.4 329.9h0" stroke="#9a92c8" fill="none" stroke-width="1.5" stroke-linecap="round"/>
<path d="M223.9 321.8h0M225.6 322.2h0M216.5 336.7h0M220.8 339.8h0M230.1 325.6h0M231.2 330.9h0M229.0 325.0h0M230.1 325.0h0M213.7 328.1h0M226.4 321.7h0M229.9 323.4h0M229.9 334.6h0M230.1 323.4h0M220.1 321.5h0M229.7 328.9h0M230.7 331.9h0M229.6 335.1h0" stroke="#f6f2e0" opacity="0.95" fill="none" stroke-width="1.5" stroke-linecap="round"/>
<path d="M228.9 333.1h0M231.9 330.7h0M228.2 324.9h0M228.2 335.9h0" stroke="#f6f2e0" opacity="0.95" fill="none" stroke-width="2.5" stroke-linecap="round"/>
<path d="M223.4 331.7h0M224.6 332.0h0" stroke="#9a92c8" fill="none" stroke-width="1" stroke-linecap="round"/>
<ellipse cx="223" cy="352" rx="9.68" ry="13.20" fill="#4a4294"/>
<path d="M216.0 359.0h0M215.4 362.2h0M231.0 341.8h0M225.8 363.6h0M230.8 355.1h0M226.5 344.7h0" stroke="#6a60b0" fill="none" stroke-width="2.5" stroke-linecap="round"/>
<path d="M221.3 351.6h0M233.8 350.9h0M216.3 360.5h0M221.7 339.7h0" stroke="#50469c" fill="none" stroke-width="3" stroke-linecap="round"/>
<path d="M212.5 354.2h0M216.4 340.6h0M216.8 361.4h0" stroke="#50469c" fill="none" stroke-width="1.5" stroke-linecap="round"/>
<path d="M220.4 348.3h0M220.1 365.8h0M219.6 352.2h0M227.9 347.5h0M213.4 356.7h0M233.4 349.0h0M215.8 357.5h0M218.9 341.7h0M223.8 360.2h0M227.3 344.1h0M227.4 338.7h0M216.3 363.9h0" stroke="#50469c" fill="none" stroke-width="2" stroke-linecap="round"/>
<path d="M212.2 353.9h0M223.3 362.3h0M221.0 346.5h0M217.6 364.5h0M221.8 339.7h0M228.4 349.1h0M222.2 364.1h0" stroke="#403888" fill="none" stroke-width="2.5" stroke-linecap="round"/>
<path d="M224.3 340.0h0M220.8 340.3h0M230.6 361.7h0M222.5 343.4h0M217.8 342.8h0M224.4 362.2h0M219.4 364.0h0M234.2 350.9h0M223.6 347.6h0" stroke="#5e54a8" fill="none" stroke-width="2" stroke-linecap="round"/>
<path d="M225.8 361.7h0M223.6 344.0h0M220.3 351.1h0M222.9 344.6h0" stroke="#403888" fill="none" stroke-width="1.5" stroke-linecap="round"/>
<path d="M214.3 353.0h0M213.5 344.3h0M229.8 346.7h0" stroke="#4a4296" fill="none" stroke-width="1.5" stroke-linecap="round"/>
<path d="M231.5 354.8h0M214.3 347.8h0M220.1 343.3h0" stroke="#403888" fill="none" stroke-width="2" stroke-linecap="round"/>
<path d="M217.7 358.5h0M232.4 349.6h0M217.6 352.6h0M227.2 341.4h0M226.8 356.5h0M230.7 361.9h0M225.0 363.0h0" stroke="#5e54a8" fill="none" stroke-width="2.5" stroke-linecap="round"/>
<path d="M213.7 354.0h0M222.6 342.5h0M229.7 354.0h0M217.7 343.5h0M218.1 338.6h0M222.5 344.3h0" stroke="#6a60b0" fill="none" stroke-width="2" stroke-linecap="round"/>
<path d="M230.6 348.7h0M219.5 343.3h0M215.8 359.0h0M222.2 366.1h0M216.9 359.0h0M224.5 359.0h0" stroke="#403888" fill="none" stroke-width="3" stroke-linecap="round"/>
<path d="M217.0 340.8h0M218.2 345.1h0M215.4 363.2h0M221.0 359.8h0M229.6 349.9h0M222.3 340.0h0M225.4 362.1h0M217.8 350.8h0M217.2 357.2h0" stroke="#5e54a8" fill="none" stroke-width="3" stroke-linecap="round"/>
<path d="M221.2 366.0h0M223.9 364.3h0M216.8 361.1h0M219.4 359.3h0M226.5 352.3h0M232.6 349.1h0M226.1 350.8h0" stroke="#50469c" fill="none" stroke-width="2.5" stroke-linecap="round"/>
<path d="M227.4 359.1h0M214.9 358.6h0M225.1 358.7h0M218.0 351.4h0M221.9 351.7h0" stroke="#6a60b0" fill="none" stroke-width="3" stroke-linecap="round"/>
<path d="M223.8 348.8h0" stroke="#5e54a8" fill="none" stroke-width="1.5" stroke-linecap="round"/>
<path d="M227.5 347.4h0M222.7 338.1h0M226.6 357.5h0M215.0 343.1h0M221.0 348.4h0M223.5 352.6h0M225.8 360.3h0" stroke="#4a4296" fill="none" stroke-width="2.5" stroke-linecap="round"/>
<path d="M233.1 356.8h0M215.4 350.1h0M218.8 362.5h0M221.6 347.3h0M228.9 350.8h0M229.3 343.7h0M214.3 342.6h0M222.0 366.4h0" stroke="#4a4296" fill="none" stroke-width="3" stroke-linecap="round"/>
<path d="M219.7 345.1h0M228.0 343.8h0M218.2 359.1h0M225.9 339.7h0M230.4 355.6h0M230.7 359.6h0" stroke="#4a4296" fill="none" stroke-width="2" stroke-linecap="round"/>
<path d="M224.8 359.6h0M218.1 353.1h0" stroke="#6a60b0" fill="none" stroke-width="1.5" stroke-linecap="round"/>
<path d="M230.6 362.5h0M231.0 354.3h0M229.6 359.2h0M226.4 366.1h0M232.4 354.8h0M230.4 358.4h0M216.0 363.5h0" stroke="#f6f2e0" opacity="0.95" fill="none" stroke-width="2.5" stroke-linecap="round"/>
<path d="M231.3 356.5h0M228.7 340.4h0M228.2 360.5h0M231.5 356.1h0M230.9 347.8h0M229.2 361.9h0M221.9 366.7h0M232.7 348.9h0M231.7 353.1h0M231.6 347.7h0M230.6 355.5h0M226.2 341.2h0M228.9 360.9h0" stroke="#f6f2e0" opacity="0.95" fill="none" stroke-width="2" stroke-linecap="round"/>
<path d="M229.4 361.0h0M223.9 366.1h0M229.2 359.1h0M219.6 341.1h0M213.9 358.4h0M229.5 345.2h0M226.0 361.9h0M233.8 352.5h0M227.3 363.4h0M229.9 344.9h0M230.8 358.3h0M227.8 342.3h0M230.7 358.7h0M233.0 349.5h0M225.5 363.3h0M229.4 361.7h0M227.3 348.5h0M220.0 358.3h0M230.4 358.6h0M230.8 345.1h0M224.9 341.7h0M233.1 353.9h0M232.7 349.5h0M230.4 347.2h0M229.5 358.3h0M230.1 344.0h0M227.7 341.4h0M217.3 359.4h0M232.0 350.7h0M233.7 353.5h0" stroke="#f6f2e0" opacity="0.95" fill="none" stroke-width="1.5" stroke-linecap="round"/>
<path d="M223.5 348.2h0M221.5 359.3h0" stroke="#9a92c8" fill="none" stroke-width="1.5" stroke-linecap="round"/>
<ellipse cx="285" cy="375" rx="14.96" ry="16.72" fill="#4a4294"/>
<path d="M292.0 363.9h0M297.4 365.2h0M294.6 370.1h0M291.5 373.0h0M277.6 357.8h0M285.6 393.7h0M284.4 372.1h0M295.8 386.7h0M284.6 372.2h0M269.7 373.4h0M275.2 387.9h0M286.5 378.6h0M289.2 384.1h0M282.3 359.2h0" stroke="#6a60b0" fill="none" stroke-width="2.5" stroke-linecap="round"/>
<path d="M290.9 381.4h0M269.3 380.2h0M271.6 376.4h0M277.6 384.9h0M283.1 382.4h0M289.6 381.3h0M290.0 365.8h0M290.8 362.9h0M288.7 384.2h0" stroke="#5e54a8" fill="none" stroke-width="3" stroke-linecap="round"/>
<path d="M299.5 374.3h0M294.1 359.6h0M275.8 386.7h0M283.1 380.6h0M293.6 361.9h0M292.0 386.6h0M288.6 370.6h0M278.5 381.0h0M273.9 386.2h0M287.2 390.3h0M281.3 369.4h0M283.0 367.2h0M292.7 385.3h0M286.2 392.2h0" stroke="#403888" fill="none" stroke-width="3" stroke-linecap="round"/>
<path d="M297.4 367.4h0M275.6 380.5h0M294.1 367.5h0M299.4 364.8h0M274.4 366.5h0M299.7 368.8h0M279.8 357.5h0M289.1 361.2h0M276.0 359.1h0M278.8 389.7h0M286.7 392.3h0M299.7 384.0h0M276.8 370.4h0" stroke="#403888" fill="none" stroke-width="2" stroke-linecap="round"/>
<path d="M281.6 384.9h0M283.8 387.1h0M295.7 375.6h0M286.4 368.6h0M271.0 364.1h0M283.9 373.1h0M298.4 364.9h0M280.2 358.3h0M282.7 365.2h0M283.3 388.2h0M274.6 376.2h0M287.6 359.8h0M277.7 372.3h0M293.5 360.4h0M278.2 370.8h0M299.5 366.6h0" stroke="#4a4296" fill="none" stroke-width="2" stroke-linecap="round"/>
<path d="M282.0 380.9h0M279.2 389.3h0M290.1 381.6h0M281.5 384.0h0M291.7 386.0h0M270.7 381.2h0M293.6 386.5h0" stroke="#403888" fill="none" stroke-width="1.5" stroke-linecap="round"/>
<path d="M301.1 381.9h0M282.1 356.5h0M276.9 387.3h0M291.0 373.8h0M287.5 374.4h0M286.8 394.1h0M289.8 383.8h0M273.7 366.5h0" stroke="#6a60b0" fill="none" stroke-width="1.5" stroke-linecap="round"/>
<path d="M298.1 363.2h0M268.9 372.8h0M285.6 366.6h0M274.0 370.4h0M291.0 362.3h0M281.5 386.6h0M281.8 363.6h0M279.6 376.0h0M273.6 381.6h0M301.5 377.3h0M282.0 385.2h0M286.3 392.1h0" stroke="#4a4296" fill="none" stroke-width="3" stroke-linecap="round"/>
<path d="M281.8 370.6h0M294.4 370.3h0M275.8 381.3h0M298.8 365.3h0M270.1 370.9h0M292.8 379.0h0M299.7 376.0h0M280.1 374.2h0M285.0 358.2h0M298.1 380.5h0M294.2 376.6h0M291.6 380.7h0M271.2 378.2h0" stroke="#50469c" fill="none" stroke-width="2" stroke-linecap="round"/>
<path d="M280.9 371.9h0M281.3 366.3h0M276.8 361.7h0M273.6 364.4h0M270.9 372.1h0M298.5 385.1h0M299.8 368.1h0M279.1 362.3h0M283.0 373.3h0M285.6 367.3h0M296.6 368.9h0M282.5 380.4h0M290.4 372.1h0M295.7 373.1h0M289.8 389.6h0M294.4 371.3h0M285.1 358.4h0M282.5 369.3h0" stroke="#6a60b0" fill="none" stroke-width="2" stroke-linecap="round"/>
<path d="M274.2 368.8h0M276.3 364.5h0M287.0 367.5h0M280.9 389.1h0M300.3 383.0h0M292.4 374.8h0M278.5 363.1h0M280.4 380.4h0M282.5 378.3h0M268.5 372.1h0M278.2 368.9h0M301.0 371.5h0M281.2 356.4h0M295.6 369.7h0" stroke="#50469c" fill="none" stroke-width="2.5" stroke-linecap="round"/>
<path d="M288.4 372.3h0M291.8 379.6h0M291.4 377.0h0M283.6 365.6h0M274.3 385.7h0M280.8 362.2h0M272.5 367.6h0M287.7 376.0h0M289.0 379.7h0M285.8 380.6h0" stroke="#6a60b0" fill="none" stroke-width="3" stroke-linecap="round"/>
<path d="M292.4 380.5h0M271.8 365.3h0M280.4 360.0h0M274.3 383.6h0M287.6 384.4h0M295.4 373.6h0M270.5 382.5h0M300.7 376.0h0M273.3 389.0h0M284.1 392.2h0M280.2 366.1h0M283.1 389.6h0M279.0 366.0h0" stroke="#4a4296" fill="none" stroke-width="2.5" stroke-linecap="round"/>
<path d="M286.3 363.5h0M289.6 393.5h0M301.5 372.5h0M289.6 389.0h0M291.7 369.3h0M270.4 382.8h0M290.8 387.8h0M291.4 357.4h0M299.4 364.6h0" stroke="#50469c" fill="none" stroke-width="3" stroke-linecap="round"/>
<path d="M274.7 362.0h0M275.4 386.9h0M288.5 378.5h0M281.1 380.9h0M299.5 382.4h0M284.3 375.3h0M292.7 386.6h0M294.0 383.3h0M275.8 388.1h0M299.0 367.1h0M293.9 389.4h0M286.3 357.8h0M276.2 365.4h0M269.4 370.0h0M297.5 378.7h0M279.5 389.5h0" stroke="#5e54a8" fill="none" stroke-width="2" stroke-linecap="round"/>
<path d="M291.6 383.9h0M301.0 371.4h0M274.9 373.4h0M291.7 357.9h0M284.2 394.2h0M285.6 363.7h0M286.3 371.8h0M269.5 378.2h0M288.3 380.6h0M287.2 365.8h0M291.2 375.3h0M275.2 368.6h0M289.9 363.3h0M293.7 369.6h0M294.0 380.8h0M279.8 362.5h0" stroke="#5e54a8" fill="none" stroke-width="2.5" stroke-linecap="round"/>
<path d="M281.3 375.5h0M289.2 362.0h0" stroke="#5e54a8" fill="none" stroke-width="1.5" stroke-linecap="round"/>
<path d="M284.6 366.4h0M285.5 367.3h0M287.2 389.7h0M287.1 389.6h0M295.6 373.4h0M288.4 378.2h0M296.3 366.1h0M279.0 384.1h0M292.8 389.6h0M291.3 389.9h0M288.9 368.7h0M291.3 373.2h0M292.7 367.7h0M287.8 365.1h0M275.0 369.9h0M284.6 387.3h0" stroke="#403888" fill="none" stroke-width="2.5" stroke-linecap="round"/>
<path d="M300.6 369.3h0M293.6 381.0h0M291.2 373.6h0" stroke="#4a4296" fill="none" stroke-width="1.5" stroke-linecap="round"/>
<path d="M283.8 379.9h0M278.5 357.9h0M270.8 373.4h0" stroke="#50469c" fill="none" stroke-width="1.5" stroke-linecap="round"/>
<path d="M290.0 362.9h0M285.7 357.9h0M280.3 357.0h0M285.8 360.2h0M294.1 366.2h0M297.1 367.6h0M284.6 358.6h0M294.4 366.9h0M272.9 373.8h0M273.1 361.7h0M273.9 363.6h0M277.0 362.2h0M279.5 361.7h0M278.5 362.3h0M277.4 358.9h0M279.8 361.6h0M280.3 358.4h0M285.3 357.0h0M291.3 357.7h0M281.4 362.0h0M272.3 374.0h0M284.1 360.0h0M286.2 356.4h0M282.9 360.2h0M279.5 362.4h0M272.1 374.2h0M272.9 372.2h0M270.3 381.8h0M288.3 357.9h0M282.3 360.2h0M273.2 361.9h0M281.3 357.1h0M276.3 364.1h0M289.9 359.4h0M289.5 359.4h0M279.1 359.2h0M271.1 373.6h0" stroke="#f6f2e0" opacity="0.95" fill="none" stroke-width="2" stroke-linecap="round"/>
<path d="M271.6 366.3h0M284.1 357.0h0M284.6 356.1h0M271.1 371.3h0M269.9 366.9h0M272.5 372.4h0M271.8 367.1h0M289.6 359.4h0M281.9 361.1h0M275.7 383.9h0M269.4 372.8h0M273.4 369.4h0M272.9 387.6h0M287.8 391.4h0M273.0 372.0h0M271.0 369.3h0M272.0 384.9h0M285.0 360.3h0M282.3 359.4h0M271.3 366.7h0M276.9 362.3h0M298.8 365.5h0M284.9 390.2h0M290.9 358.9h0M281.6 358.2h0M282.4 358.2h0M271.9 367.3h0M269.5 367.5h0M273.5 364.5h0M282.8 360.8h0M272.4 365.3h0M283.9 359.4h0M271.3 365.8h0M283.4 356.1h0M285.6 361.5h0M289.4 368.9h0M276.2 365.8h0M295.1 360.2h0M274.2 363.7h0M277.6 362.5h0M279.9 362.3h0M271.2 365.8h0M271.7 376.8h0M270.1 377.4h0M292.5 361.2h0M271.9 384.4h0M269.1 372.8h0" stroke="#f6f2e0" opacity="0.95" fill="none" stroke-width="1.5" stroke-linecap="round"/>
<path d="M291.0 366.4h0M278.3 377.4h0M291.4 381.6h0" stroke="#9a92c8" fill="none" stroke-width="1" stroke-linecap="round"/>
<path d="M288.6 372.0h0M289.9 383.4h0M278.9 379.7h0" stroke="#9a92c8" fill="none" stroke-width="1.5" stroke-linecap="round"/>
<path d="M288.8 373.1h0M287.1 379.3h0M291.3 375.6h0M288.6 373.7h0M286.2 373.6h0" stroke="#9a92c8" fill="none" stroke-width="2" stroke-linecap="round"/>
<path d="M279.5 361.5h0M273.9 368.2h0" stroke="#f6f2e0" opacity="0.95" fill="none" stroke-width="1" stroke-linecap="round"/>
<path d="M271.1 364.7h0M276.6 359.0h0M299.0 365.4h0M294.2 361.8h0M273.4 366.8h0M270.9 378.9h0" stroke="#f6f2e0" opacity="0.95" fill="none" stroke-width="2.5" stroke-linecap="round"/>
<ellipse cx="313.5" cy="374" rx="8.80" ry="14.96" fill="#4a4294"/>
<path d="M313.3 362.5h0M307.1 384.9h0M317.3 383.5h0M312.0 381.1h0M311.6 388.5h0M307.7 369.3h0M311.1 384.1h0M316.3 358.7h0M309.3 360.8h0M309.7 385.9h0" stroke="#6a60b0" fill="none" stroke-width="2.5" stroke-linecap="round"/>
<path d="M317.7 386.0h0M305.1 381.0h0M317.9 366.6h0M312.3 391.1h0M320.5 377.4h0M304.4 371.0h0M307.6 363.0h0M318.8 377.9h0" stroke="#4a4296" fill="none" stroke-width="3" stroke-linecap="round"/>
<path d="M314.6 363.8h0M320.8 380.2h0M313.9 373.6h0M309.3 384.7h0M305.0 366.1h0M313.1 377.1h0M306.5 383.1h0" stroke="#6a60b0" fill="none" stroke-width="2" stroke-linecap="round"/>
<path d="M313.7 381.5h0" stroke="#4a4296" fill="none" stroke-width="1.5" stroke-linecap="round"/>
<path d="M318.9 381.3h0M307.6 374.9h0M310.5 375.3h0M320.3 364.9h0M320.5 382.4h0M309.4 386.1h0M317.0 365.1h0M312.9 387.6h0M311.5 358.9h0" stroke="#4a4296" fill="none" stroke-width="2" stroke-linecap="round"/>
<path d="M307.3 380.4h0M307.2 366.2h0M319.1 368.3h0M317.4 378.8h0M317.7 359.1h0M321.4 380.3h0M315.1 381.3h0M307.2 384.2h0M318.4 384.1h0" stroke="#50469c" fill="none" stroke-width="3" stroke-linecap="round"/>
<path d="M307.0 385.0h0M307.6 370.1h0M307.7 385.6h0M316.9 386.8h0" stroke="#5e54a8" fill="none" stroke-width="2" stroke-linecap="round"/>
<path d="M313.9 362.7h0M322.3 382.8h0M312.0 387.2h0M315.9 368.3h0M315.8 377.9h0M315.1 377.1h0M306.4 370.8h0M319.8 368.5h0" stroke="#5e54a8" fill="none" stroke-width="3" stroke-linecap="round"/>
<path d="M321.5 382.0h0M316.7 387.4h0M319.9 384.0h0M319.9 361.4h0M315.8 361.7h0M319.1 362.6h0M321.8 379.1h0M318.8 363.7h0M316.4 388.5h0M309.7 379.4h0M312.7 358.5h0M311.1 358.7h0M319.7 361.3h0" stroke="#403888" fill="none" stroke-width="2" stroke-linecap="round"/>
<path d="M311.8 360.2h0M308.2 363.9h0M305.5 376.7h0M311.3 373.4h0M315.5 358.1h0" stroke="#50469c" fill="none" stroke-width="2.5" stroke-linecap="round"/>
<path d="M306.5 384.3h0M316.9 378.4h0M322.4 373.1h0M322.3 377.5h0M318.4 364.7h0M316.4 375.7h0M313.6 362.3h0M321.5 364.6h0" stroke="#403888" fill="none" stroke-width="3" stroke-linecap="round"/>
<path d="M313.1 371.1h0" stroke="#6a60b0" fill="none" stroke-width="1.5" stroke-linecap="round"/>
<path d="M306.4 382.1h0M306.6 374.7h0M322.1 382.6h0M304.5 382.1h0" stroke="#5e54a8" fill="none" stroke-width="1.5" stroke-linecap="round"/>
<path d="M318.5 365.1h0M318.0 368.9h0M309.8 370.4h0M309.7 378.0h0M313.7 359.0h0M310.3 380.0h0M316.7 361.7h0" stroke="#5e54a8" fill="none" stroke-width="2.5" stroke-linecap="round"/>
<path d="M310.0 388.8h0M316.5 368.9h0M306.0 375.1h0M319.7 361.6h0M313.7 377.2h0M306.7 366.2h0M317.4 370.1h0" stroke="#6a60b0" fill="none" stroke-width="3" stroke-linecap="round"/>
<path d="M310.6 388.8h0M316.3 388.9h0M310.3 377.1h0" stroke="#403888" fill="none" stroke-width="2.5" stroke-linecap="round"/>
<path d="M315.4 386.2h0M307.9 373.4h0M304.4 370.8h0" stroke="#403888" fill="none" stroke-width="1.5" stroke-linecap="round"/>
<path d="M314.5 370.8h0M319.2 377.8h0M305.5 373.7h0M319.1 388.2h0M316.0 390.2h0M316.8 385.0h0" stroke="#50469c" fill="none" stroke-width="2" stroke-linecap="round"/>
<path d="M319.4 371.0h0M310.1 386.4h0M312.0 381.5h0" stroke="#4a4296" fill="none" stroke-width="2.5" stroke-linecap="round"/>
<path d="M322.6 378.4h0M315.3 379.7h0" stroke="#50469c" fill="none" stroke-width="1.5" stroke-linecap="round"/>
<path d="M306.0 381.0h0M320.3 380.1h0M319.4 362.0h0M307.1 361.4h0M314.7 361.1h0M317.0 386.8h0M305.5 373.2h0M321.8 372.4h0M320.4 379.9h0M320.4 376.3h0M322.6 375.3h0M310.9 360.2h0M310.0 362.9h0M321.2 375.0h0M314.3 360.6h0M315.9 358.3h0M321.1 368.0h0M314.2 359.3h0M313.3 378.3h0M317.8 361.0h0M316.3 387.9h0M321.6 382.3h0" stroke="#f6f2e0" opacity="0.95" fill="none" stroke-width="2" stroke-linecap="round"/>
<path d="M317.7 364.4h0M317.9 364.4h0M307.7 364.0h0M317.2 363.1h0M314.9 361.2h0M313.2 357.7h0" stroke="#f6f2e0" opacity="0.95" fill="none" stroke-width="2.5" stroke-linecap="round"/>
<path d="M316.1 387.2h0M318.6 382.7h0M315.2 362.1h0M314.7 362.3h0M321.8 375.1h0M319.5 366.9h0M315.0 361.1h0M319.6 365.1h0M317.6 360.7h0M321.4 363.9h0M321.7 365.2h0M321.9 375.4h0M311.9 358.0h0M321.1 374.0h0M309.1 368.7h0M312.0 359.4h0M316.2 361.9h0M320.0 362.2h0M315.2 357.4h0M307.0 366.9h0" stroke="#f6f2e0" opacity="0.95" fill="none" stroke-width="1.5" stroke-linecap="round"/>
<path d="M314.6 366.0h0M312.8 376.5h0M313.5 372.8h0" stroke="#9a92c8" fill="none" stroke-width="1" stroke-linecap="round"/>
<path d="M310.3 369.1h0" stroke="#9a92c8" fill="none" stroke-width="1.5" stroke-linecap="round"/>
<path d="M314.2 377.4h0" stroke="#9a92c8" fill="none" stroke-width="2" stroke-linecap="round"/>
<path d="M320.4 380.7h0" stroke="#f6f2e0" opacity="0.95" fill="none" stroke-width="1" stroke-linecap="round"/>
<ellipse cx="299" cy="388" rx="10.56" ry="6.16" fill="#4a4294"/>
<path d="M297.3 383.6h0M296.3 391.7h0" stroke="#6a60b0" fill="none" stroke-width="1.5" stroke-linecap="round"/>
<path d="M296.7 392.6h0M301.8 388.9h0M301.3 394.9h0M289.7 387.4h0M299.8 387.3h0" stroke="#4a4296" fill="none" stroke-width="2" stroke-linecap="round"/>
<path d="M307.1 385.0h0M309.9 387.6h0M309.8 385.9h0" stroke="#6a60b0" fill="none" stroke-width="3" stroke-linecap="round"/>
<path d="M302.0 392.4h0M310.3 390.0h0M308.8 390.9h0M293.3 382.4h0M301.8 391.7h0" stroke="#403888" fill="none" stroke-width="2" stroke-linecap="round"/>
<path d="M299.6 386.5h0M306.4 386.3h0M301.8 391.9h0" stroke="#5e54a8" fill="none" stroke-width="2" stroke-linecap="round"/>
<path d="M297.7 394.4h0" stroke="#50469c" fill="none" stroke-width="3" stroke-linecap="round"/>
<path d="M290.3 389.1h0M290.4 389.2h0" stroke="#6a60b0" fill="none" stroke-width="2.5" stroke-linecap="round"/>
<path d="M309.6 388.5h0M301.2 382.1h0M304.3 390.8h0M297.1 393.4h0M301.0 381.5h0M310.5 388.5h0" stroke="#5e54a8" fill="none" stroke-width="2.5" stroke-linecap="round"/>
<path d="M293.1 387.5h0M289.5 387.2h0M293.0 384.2h0" stroke="#403888" fill="none" stroke-width="3" stroke-linecap="round"/>
<path d="M299.7 391.6h0M290.6 388.1h0M298.8 384.8h0" stroke="#50469c" fill="none" stroke-width="2.5" stroke-linecap="round"/>
<path d="M293.3 391.1h0M294.1 386.0h0M300.8 384.1h0" stroke="#4a4296" fill="none" stroke-width="2.5" stroke-linecap="round"/>
<path d="M309.4 388.9h0M302.0 384.8h0M295.8 387.5h0M309.1 384.2h0M302.7 384.8h0M296.4 394.0h0" stroke="#50469c" fill="none" stroke-width="2" stroke-linecap="round"/>
<path d="M305.0 392.3h0M308.4 386.9h0M294.5 391.0h0M304.1 383.7h0M296.3 388.2h0" stroke="#6a60b0" fill="none" stroke-width="2" stroke-linecap="round"/>
<path d="M289.3 391.4h0M288.1 386.5h0M308.3 387.3h0M292.3 384.6h0M302.3 382.9h0" stroke="#5e54a8" fill="none" stroke-width="3" stroke-linecap="round"/>
<path d="M300.3 393.1h0" stroke="#403888" fill="none" stroke-width="2.5" stroke-linecap="round"/>
<path d="M302.9 391.4h0" stroke="#403888" fill="none" stroke-width="1.5" stroke-linecap="round"/>
<path d="M303.2 385.5h0M300.6 385.4h0" stroke="#4a4296" fill="none" stroke-width="1.5" stroke-linecap="round"/>
<path d="M304.0 393.1h0" stroke="#5e54a8" fill="none" stroke-width="1.5" stroke-linecap="round"/>
<path d="M305.8 391.1h0" stroke="#4a4296" fill="none" stroke-width="3" stroke-linecap="round"/>
<path d="M295.1 385.9h0M299.9 392.6h0" stroke="#9a92c8" fill="none" stroke-width="1.5" stroke-linecap="round"/>
<path d="M307.1 383.9h0M289.4 385.2h0M293.9 383.2h0M306.9 382.9h0M295.9 393.5h0" stroke="#f6f2e0" opacity="0.95" fill="none" stroke-width="1.5" stroke-linecap="round"/>
<path d="M305.6 383.5h0M289.8 388.4h0M300.6 386.6h0M310.2 389.1h0M301.0 383.6h0M292.1 388.5h0M308.5 388.3h0M288.6 386.8h0M294.4 393.9h0M289.3 391.9h0M308.5 388.0h0M299.2 394.7h0" stroke="#f6f2e0" opacity="0.95" fill="none" stroke-width="2" stroke-linecap="round"/>
<path d="M299.1 381.4h0M297.1 394.3h0" stroke="#f6f2e0" opacity="0.95" fill="none" stroke-width="2.5" stroke-linecap="round"/>
<path d="M298.3 384.7h0" stroke="#9a92c8" fill="none" stroke-width="2" stroke-linecap="round"/>
<path d="M297.8 392.6h0M300.2 386.8h0M296.4 383.7h0M292.6 386.6h0" stroke="#9a92c8" fill="none" stroke-width="1" stroke-linecap="round"/>
<rect x="210.8" y="286.3" width="148.8" height="112.19999999999999" fill="url(#v2)"/>
</g></g>
<rect x="212.1" y="287.6" width="146" height="109.6" fill="none" stroke="#3a3a3a" stroke-width="1.4"/>
<defs><clipPath id="c3"><rect x="60.3" y="402.8" width="145.0" height="108.5"/></clipPath><filter id="b3" x="-5%" y="-5%" width="110%" height="110%"><feConvolveMatrix order="3" kernelMatrix="0.03 0.18 0.03 0.18 1 0.18 0.03 0.18 0.03" edgeMode="duplicate"/></filter><filter id="b3b" x="-5%" y="-5%" width="110%" height="110%"><feGaussianBlur stdDeviation="3"/></filter></defs>
<g clip-path="url(#c3)"><g filter="url(#b3)">
<rect x="58.3" y="400.8" width="149.0" height="112.5" fill="#e6e0cc"/>
<path d="M54.9 413.3a3.8 3.8 0 1 0 7.6 0a3.8 3.8 0 1 0 -7.6 0M52.9 449.8a3.6 3.6 0 1 0 7.3 0a3.6 3.6 0 1 0 -7.3 0M111.2 498.4a3.8 3.8 0 1 0 7.6 0a3.8 3.8 0 1 0 -7.6 0M158.8 471.4a4.3 4.3 0 1 0 8.6 0a4.3 4.3 0 1 0 -8.6 0M131.9 485.2a3.9 3.9 0 1 0 7.8 0a3.9 3.9 0 1 0 -7.8 0M130.0 495.8a3.4 3.4 0 1 0 6.8 0a3.4 3.4 0 1 0 -6.8 0M74.1 460.4a4.0 4.0 0 1 0 8.0 0a4.0 4.0 0 1 0 -8.0 0M143.2 398.6a3.4 3.4 0 1 0 6.8 0a3.4 3.4 0 1 0 -6.8 0M80.5 495.5a4.3 4.3 0 1 0 8.5 0a4.3 4.3 0 1 0 -8.5 0M172.3 474.3a3.8 3.8 0 1 0 7.6 0a3.8 3.8 0 1 0 -7.6 0M202.5 431.6a3.6 3.6 0 1 0 7.3 0a3.6 3.6 0 1 0 -7.3 0M197.3 417.4a3.4 3.4 0 1 0 6.9 0a3.4 3.4 0 1 0 -6.9 0M136.8 400.8a3.6 3.6 0 1 0 7.3 0a3.6 3.6 0 1 0 -7.3 0M196.9 454.6a3.8 3.8 0 1 0 7.6 0a3.8 3.8 0 1 0 -7.6 0M181.3 471.4a3.4 3.4 0 1 0 6.9 0a3.4 3.4 0 1 0 -6.9 0M198.7 471.8a4.2 4.2 0 1 0 8.5 0a4.2 4.2 0 1 0 -8.5 0M95.3 448.2a3.6 3.6 0 1 0 7.2 0a3.6 3.6 0 1 0 -7.2 0M180.5 423.6a3.6 3.6 0 1 0 7.2 0a3.6 3.6 0 1 0 -7.2 0M100.5 491.1a3.4 3.4 0 1 0 6.8 0a3.4 3.4 0 1 0 -6.8 0M141.7 419.7a3.9 3.9 0 1 0 7.9 0a3.9 3.9 0 1 0 -7.9 0M162.8 478.8a3.4 3.4 0 1 0 6.7 0a3.4 3.4 0 1 0 -6.7 0M162.3 430.3a3.6 3.6 0 1 0 7.3 0a3.6 3.6 0 1 0 -7.3 0M88.7 413.6a3.9 3.9 0 1 0 7.8 0a3.9 3.9 0 1 0 -7.8 0M68.4 472.8a4.0 4.0 0 1 0 8.0 0a4.0 4.0 0 1 0 -8.0 0M80.4 483.6a3.8 3.8 0 1 0 7.6 0a3.8 3.8 0 1 0 -7.6 0M204.6 443.2a4.0 4.0 0 1 0 8.0 0a4.0 4.0 0 1 0 -8.0 0M60.5 486.8a3.3 3.3 0 1 0 6.6 0a3.3 3.3 0 1 0 -6.6 0M98.5 480.5a3.9 3.9 0 1 0 7.9 0a3.9 3.9 0 1 0 -7.9 0M197.0 441.1a4.1 4.1 0 1 0 8.3 0a4.1 4.1 0 1 0 -8.3 0M78.3 441.0a3.9 3.9 0 1 0 7.8 0a3.9 3.9 0 1 0 -7.8 0M130.1 412.9a4.0 4.0 0 1 0 7.9 0a4.0 4.0 0 1 0 -7.9 0M99.8 404.9a3.8 3.8 0 1 0 7.6 0a3.8 3.8 0 1 0 -7.6 0M77.3 477.3a3.9 3.9 0 1 0 7.9 0a3.9 3.9 0 1 0 -7.9 0M122.8 398.2a3.5 3.5 0 1 0 7.0 0a3.5 3.5 0 1 0 -7.0 0M179.3 485.1a3.9 3.9 0 1 0 7.8 0a3.9 3.9 0 1 0 -7.8 0M142.0 467.9a4.0 4.0 0 1 0 8.0 0a4.0 4.0 0 1 0 -8.0 0M76.6 416.3a3.4 3.4 0 1 0 6.8 0a3.4 3.4 0 1 0 -6.8 0M144.3 422.9a4.0 4.0 0 1 0 8.0 0a4.0 4.0 0 1 0 -8.0 0M133.7 406.5a4.2 4.2 0 1 0 8.4 0a4.2 4.2 0 1 0 -8.4 0M100.8 503.6a3.5 3.5 0 1 0 6.9 0a3.5 3.5 0 1 0 -6.9 0M62.9 441.5a4.2 4.2 0 1 0 8.5 0a4.2 4.2 0 1 0 -8.5 0M117.7 486.5a3.9 3.9 0 1 0 7.7 0a3.9 3.9 0 1 0 -7.7 0M115.7 423.4a3.6 3.6 0 1 0 7.1 0a3.6 3.6 0 1 0 -7.1 0M105.3 417.6a3.7 3.7 0 1 0 7.5 0a3.7 3.7 0 1 0 -7.5 0M114.3 465.6a3.5 3.5 0 1 0 7.0 0a3.5 3.5 0 1 0 -7.0 0M187.1 462.5a3.5 3.5 0 1 0 7.1 0a3.5 3.5 0 1 0 -7.1 0M107.2 454.0a3.8 3.8 0 1 0 7.5 0a3.8 3.8 0 1 0 -7.5 0M159.1 484.0a3.5 3.5 0 1 0 7.0 0a3.5 3.5 0 1 0 -7.0 0M165.1 485.6a3.4 3.4 0 1 0 6.9 0a3.4 3.4 0 1 0 -6.9 0M147.0 491.7a3.8 3.8 0 1 0 7.5 0a3.8 3.8 0 1 0 -7.5 0M182.9 491.2a3.4 3.4 0 1 0 6.8 0a3.4 3.4 0 1 0 -6.8 0M190.3 455.0a3.9 3.9 0 1 0 7.8 0a3.9 3.9 0 1 0 -7.8 0M90.2 449.3a3.7 3.7 0 1 0 7.3 0a3.7 3.7 0 1 0 -7.3 0M155.4 503.8a3.7 3.7 0 1 0 7.4 0a3.7 3.7 0 1 0 -7.4 0M86.5 418.1a3.7 3.7 0 1 0 7.5 0a3.7 3.7 0 1 0 -7.5 0M205.0 501.6a4.2 4.2 0 1 0 8.4 0a4.2 4.2 0 1 0 -8.4 0M155.2 430.3a3.6 3.6 0 1 0 7.2 0a3.6 3.6 0 1 0 -7.2 0M188.2 398.1a3.6 3.6 0 1 0 7.2 0a3.6 3.6 0 1 0 -7.2 0M72.9 467.2a3.6 3.6 0 1 0 7.2 0a3.6 3.6 0 1 0 -7.2 0M199.4 410.7a4.3 4.3 0 1 0 8.6 0a4.3 4.3 0 1 0 -8.6 0M92.5 431.6a3.3 3.3 0 1 0 6.6 0a3.3 3.3 0 1 0 -6.6 0M84.2 491.5a4.0 4.0 0 1 0 8.1 0a4.0 4.0 0 1 0 -8.1 0M100.7 438.0a4.1 4.1 0 1 0 8.3 0a4.1 4.1 0 1 0 -8.3 0M84.7 444.0a3.7 3.7 0 1 0 7.4 0a3.7 3.7 0 1 0 -7.4 0M176.9 480.1a4.2 4.2 0 1 0 8.5 0a4.2 4.2 0 1 0 -8.5 0M172.8 412.2a4.3 4.3 0 1 0 8.6 0a4.3 4.3 0 1 0 -8.6 0M55.6 406.0a3.9 3.9 0 1 0 7.8 0a3.9 3.9 0 1 0 -7.8 0M123.1 410.3a4.0 4.0 0 1 0 8.0 0a4.0 4.0 0 1 0 -8.0 0M128.0 491.3a4.0 4.0 0 1 0 8.0 0a4.0 4.0 0 1 0 -8.0 0M120.7 419.2a4.0 4.0 0 1 0 8.1 0a4.0 4.0 0 1 0 -8.1 0" fill="#bcb4d6" stroke="#948cc0" stroke-width="0.8" opacity="0.78"/>
<path d="M60.8 436.6a3.4 3.4 0 1 0 6.7 0a3.4 3.4 0 1 0 -6.7 0M144.1 473.3a3.4 3.4 0 1 0 6.8 0a3.4 3.4 0 1 0 -6.8 0M64.8 467.4a3.5 3.5 0 1 0 7.0 0a3.5 3.5 0 1 0 -7.0 0M141.0 431.8a4.2 4.2 0 1 0 8.4 0a4.2 4.2 0 1 0 -8.4 0M132.5 441.1a4.1 4.1 0 1 0 8.2 0a4.1 4.1 0 1 0 -8.2 0M79.1 429.4a3.9 3.9 0 1 0 7.8 0a3.9 3.9 0 1 0 -7.8 0M102.2 483.5a3.9 3.9 0 1 0 7.7 0a3.9 3.9 0 1 0 -7.7 0M177.7 441.7a3.6 3.6 0 1 0 7.3 0a3.6 3.6 0 1 0 -7.3 0M115.9 413.1a4.1 4.1 0 1 0 8.1 0a4.1 4.1 0 1 0 -8.1 0M68.8 484.2a3.8 3.8 0 1 0 7.5 0a3.8 3.8 0 1 0 -7.5 0M60.4 497.6a4.2 4.2 0 1 0 8.3 0a4.2 4.2 0 1 0 -8.3 0M178.0 460.5a3.8 3.8 0 1 0 7.7 0a3.8 3.8 0 1 0 -7.7 0M172.5 508.9a4.3 4.3 0 1 0 8.5 0a4.3 4.3 0 1 0 -8.5 0M128.6 462.4a4.1 4.1 0 1 0 8.1 0a4.1 4.1 0 1 0 -8.1 0M82.0 399.2a3.9 3.9 0 1 0 7.8 0a3.9 3.9 0 1 0 -7.8 0M87.9 437.4a4.2 4.2 0 1 0 8.4 0a4.2 4.2 0 1 0 -8.4 0M102.6 509.9a3.6 3.6 0 1 0 7.3 0a3.6 3.6 0 1 0 -7.3 0M204.7 407.2a3.6 3.6 0 1 0 7.3 0a3.6 3.6 0 1 0 -7.3 0M161.3 406.3a3.8 3.8 0 1 0 7.6 0a3.8 3.8 0 1 0 -7.6 0M159.4 459.2a3.9 3.9 0 1 0 7.7 0a3.9 3.9 0 1 0 -7.7 0M68.2 423.9a3.3 3.3 0 1 0 6.6 0a3.3 3.3 0 1 0 -6.6 0M167.2 490.9a4.1 4.1 0 1 0 8.2 0a4.1 4.1 0 1 0 -8.2 0M120.7 467.2a3.8 3.8 0 1 0 7.6 0a3.8 3.8 0 1 0 -7.6 0M161.7 443.5a3.3 3.3 0 1 0 6.7 0a3.3 3.3 0 1 0 -6.7 0M61.4 507.8a3.7 3.7 0 1 0 7.4 0a3.7 3.7 0 1 0 -7.4 0M194.8 399.7a3.6 3.6 0 1 0 7.2 0a3.6 3.6 0 1 0 -7.2 0M96.5 497.4a3.9 3.9 0 1 0 7.9 0a3.9 3.9 0 1 0 -7.9 0M108.0 422.5a3.6 3.6 0 1 0 7.3 0a3.6 3.6 0 1 0 -7.3 0M113.4 418.4a3.7 3.7 0 1 0 7.5 0a3.7 3.7 0 1 0 -7.5 0M75.5 471.6a3.5 3.5 0 1 0 7.0 0a3.5 3.5 0 1 0 -7.0 0M185.3 497.8a3.8 3.8 0 1 0 7.7 0a3.8 3.8 0 1 0 -7.7 0M104.4 431.2a4.0 4.0 0 1 0 8.0 0a4.0 4.0 0 1 0 -8.0 0M128.9 472.3a4.0 4.0 0 1 0 8.0 0a4.0 4.0 0 1 0 -8.0 0M112.8 429.3a4.1 4.1 0 1 0 8.3 0a4.1 4.1 0 1 0 -8.3 0M92.3 404.6a3.3 3.3 0 1 0 6.7 0a3.3 3.3 0 1 0 -6.7 0M148.1 504.8a3.9 3.9 0 1 0 7.9 0a3.9 3.9 0 1 0 -7.9 0M64.5 502.0a3.5 3.5 0 1 0 7.1 0a3.5 3.5 0 1 0 -7.1 0M99.0 455.3a4.1 4.1 0 1 0 8.2 0a4.1 4.1 0 1 0 -8.2 0M138.0 413.6a3.6 3.6 0 1 0 7.1 0a3.6 3.6 0 1 0 -7.1 0M116.4 473.1a3.4 3.4 0 1 0 6.8 0a3.4 3.4 0 1 0 -6.8 0M166.0 424.8a3.7 3.7 0 1 0 7.3 0a3.7 3.7 0 1 0 -7.3 0M65.8 447.7a3.9 3.9 0 1 0 7.8 0a3.9 3.9 0 1 0 -7.8 0M54.5 472.3a3.6 3.6 0 1 0 7.2 0a3.6 3.6 0 1 0 -7.2 0M139.0 437.4a3.8 3.8 0 1 0 7.6 0a3.8 3.8 0 1 0 -7.6 0M89.9 400.7a3.4 3.4 0 1 0 6.9 0a3.4 3.4 0 1 0 -6.9 0M141.7 440.8a4.0 4.0 0 1 0 8.1 0a4.0 4.0 0 1 0 -8.1 0M162.3 456.4a3.6 3.6 0 1 0 7.2 0a3.6 3.6 0 1 0 -7.2 0M163.4 419.8a3.7 3.7 0 1 0 7.5 0a3.7 3.7 0 1 0 -7.5 0M77.5 466.9a3.3 3.3 0 1 0 6.7 0a3.3 3.3 0 1 0 -6.7 0M92.2 455.2a3.5 3.5 0 1 0 6.9 0a3.5 3.5 0 1 0 -6.9 0M71.7 442.8a3.7 3.7 0 1 0 7.5 0a3.7 3.7 0 1 0 -7.5 0M102.3 449.2a3.7 3.7 0 1 0 7.4 0a3.7 3.7 0 1 0 -7.4 0M141.4 504.2a4.2 4.2 0 1 0 8.5 0a4.2 4.2 0 1 0 -8.5 0M124.9 461.8a4.1 4.1 0 1 0 8.3 0a4.1 4.1 0 1 0 -8.3 0M158.0 412.4a3.6 3.6 0 1 0 7.2 0a3.6 3.6 0 1 0 -7.2 0M86.7 425.1a4.0 4.0 0 1 0 8.0 0a4.0 4.0 0 1 0 -8.0 0M73.8 437.1a3.9 3.9 0 1 0 7.8 0a3.9 3.9 0 1 0 -7.8 0M167.0 471.6a3.7 3.7 0 1 0 7.4 0a3.7 3.7 0 1 0 -7.4 0M185.5 483.9a3.9 3.9 0 1 0 7.7 0a3.9 3.9 0 1 0 -7.7 0M193.6 498.6a4.1 4.1 0 1 0 8.2 0a4.1 4.1 0 1 0 -8.2 0M73.3 497.6a3.3 3.3 0 1 0 6.7 0a3.3 3.3 0 1 0 -6.7 0M91.6 418.1a4.1 4.1 0 1 0 8.2 0a4.1 4.1 0 1 0 -8.2 0M151.7 497.1a3.4 3.4 0 1 0 6.8 0a3.4 3.4 0 1 0 -6.8 0M171.6 435.7a3.5 3.5 0 1 0 7.1 0a3.5 3.5 0 1 0 -7.1 0M58.5 456.1a3.7 3.7 0 1 0 7.4 0a3.7 3.7 0 1 0 -7.4 0M56.5 466.5a3.5 3.5 0 1 0 6.9 0a3.5 3.5 0 1 0 -6.9 0M196.0 467.0a4.1 4.1 0 1 0 8.3 0a4.1 4.1 0 1 0 -8.3 0M174.8 490.4a3.8 3.8 0 1 0 7.5 0a3.8 3.8 0 1 0 -7.5 0M129.5 508.9a4.3 4.3 0 1 0 8.6 0a4.3 4.3 0 1 0 -8.6 0M120.0 502.7a4.2 4.2 0 1 0 8.4 0a4.2 4.2 0 1 0 -8.4 0" fill="#c6c0de" stroke="#948cc0" stroke-width="0.8" opacity="0.78"/>
<path d="M132.0 425.5a3.4 3.4 0 1 0 6.7 0a3.4 3.4 0 1 0 -6.7 0M56.8 431.1a4.0 4.0 0 1 0 8.0 0a4.0 4.0 0 1 0 -8.0 0M179.7 510.4a3.6 3.6 0 1 0 7.2 0a3.6 3.6 0 1 0 -7.2 0M86.5 472.9a4.0 4.0 0 1 0 8.0 0a4.0 4.0 0 1 0 -8.0 0M162.3 466.8a3.9 3.9 0 1 0 7.8 0a3.9 3.9 0 1 0 -7.8 0M157.0 507.8a4.0 4.0 0 1 0 8.0 0a4.0 4.0 0 1 0 -8.0 0M121.0 428.6a3.6 3.6 0 1 0 7.1 0a3.6 3.6 0 1 0 -7.1 0M147.4 465.9a3.5 3.5 0 1 0 6.9 0a3.5 3.5 0 1 0 -6.9 0M61.6 460.7a4.2 4.2 0 1 0 8.4 0a4.2 4.2 0 1 0 -8.4 0M168.2 429.5a4.2 4.2 0 1 0 8.5 0a4.2 4.2 0 1 0 -8.5 0M73.8 511.1a3.6 3.6 0 1 0 7.1 0a3.6 3.6 0 1 0 -7.1 0M143.4 460.7a4.0 4.0 0 1 0 8.0 0a4.0 4.0 0 1 0 -8.0 0M55.7 478.9a4.1 4.1 0 1 0 8.3 0a4.1 4.1 0 1 0 -8.3 0M117.3 461.8a3.7 3.7 0 1 0 7.4 0a3.7 3.7 0 1 0 -7.4 0M183.6 480.3a3.4 3.4 0 1 0 6.8 0a3.4 3.4 0 1 0 -6.8 0M113.3 479.1a3.9 3.9 0 1 0 7.8 0a3.9 3.9 0 1 0 -7.8 0M195.6 448.1a3.4 3.4 0 1 0 6.8 0a3.4 3.4 0 1 0 -6.8 0M127.4 502.0a3.8 3.8 0 1 0 7.5 0a3.8 3.8 0 1 0 -7.5 0M160.3 450.0a3.6 3.6 0 1 0 7.2 0a3.6 3.6 0 1 0 -7.2 0M66.9 462.2a3.9 3.9 0 1 0 7.8 0a3.9 3.9 0 1 0 -7.8 0M115.6 450.1a3.3 3.3 0 1 0 6.7 0a3.3 3.3 0 1 0 -6.7 0M141.4 491.6a3.6 3.6 0 1 0 7.1 0a3.6 3.6 0 1 0 -7.1 0M164.4 498.7a4.1 4.1 0 1 0 8.3 0a4.1 4.1 0 1 0 -8.3 0M194.6 462.4a4.2 4.2 0 1 0 8.5 0a4.2 4.2 0 1 0 -8.5 0M69.8 477.2a3.9 3.9 0 1 0 7.7 0a3.9 3.9 0 1 0 -7.7 0M151.6 448.7a3.5 3.5 0 1 0 7.0 0a3.5 3.5 0 1 0 -7.0 0M169.0 502.0a3.5 3.5 0 1 0 7.0 0a3.5 3.5 0 1 0 -7.0 0M125.6 417.7a3.7 3.7 0 1 0 7.3 0a3.7 3.7 0 1 0 -7.3 0M86.8 483.9a3.8 3.8 0 1 0 7.6 0a3.8 3.8 0 1 0 -7.6 0M76.6 491.1a4.1 4.1 0 1 0 8.3 0a4.1 4.1 0 1 0 -8.3 0M183.8 452.9a4.3 4.3 0 1 0 8.6 0a4.3 4.3 0 1 0 -8.6 0M195.8 490.9a4.3 4.3 0 1 0 8.6 0a4.3 4.3 0 1 0 -8.6 0M68.7 498.5a3.9 3.9 0 1 0 7.8 0a3.9 3.9 0 1 0 -7.8 0M205.4 478.7a3.4 3.4 0 1 0 6.8 0a3.4 3.4 0 1 0 -6.8 0M128.1 454.4a3.4 3.4 0 1 0 6.9 0a3.4 3.4 0 1 0 -6.9 0M163.8 450.2a4.2 4.2 0 1 0 8.4 0a4.2 4.2 0 1 0 -8.4 0M104.1 495.7a3.6 3.6 0 1 0 7.2 0a3.6 3.6 0 1 0 -7.2 0M84.6 504.0a3.5 3.5 0 1 0 6.9 0a3.5 3.5 0 1 0 -6.9 0M131.4 435.5a3.5 3.5 0 1 0 7.0 0a3.5 3.5 0 1 0 -7.0 0M63.6 429.7a3.7 3.7 0 1 0 7.5 0a3.7 3.7 0 1 0 -7.5 0M181.7 468.2a3.5 3.5 0 1 0 6.9 0a3.5 3.5 0 1 0 -6.9 0M186.4 412.2a3.8 3.8 0 1 0 7.5 0a3.8 3.8 0 1 0 -7.5 0M92.8 444.2a3.6 3.6 0 1 0 7.2 0a3.6 3.6 0 1 0 -7.2 0M194.4 509.3a3.5 3.5 0 1 0 7.0 0a3.5 3.5 0 1 0 -7.0 0M111.4 504.8a4.0 4.0 0 1 0 8.0 0a4.0 4.0 0 1 0 -8.0 0M66.7 437.6a3.7 3.7 0 1 0 7.5 0a3.7 3.7 0 1 0 -7.5 0M194.5 471.6a3.9 3.9 0 1 0 7.9 0a3.9 3.9 0 1 0 -7.9 0M158.6 498.9a3.6 3.6 0 1 0 7.2 0a3.6 3.6 0 1 0 -7.2 0M202.3 448.0a3.6 3.6 0 1 0 7.2 0a3.6 3.6 0 1 0 -7.2 0M88.8 498.6a4.2 4.2 0 1 0 8.4 0a4.2 4.2 0 1 0 -8.4 0M151.8 486.6a3.3 3.3 0 1 0 6.7 0a3.3 3.3 0 1 0 -6.7 0M103.4 459.8a4.3 4.3 0 1 0 8.5 0a4.3 4.3 0 1 0 -8.5 0M117.7 510.3a3.4 3.4 0 1 0 6.9 0a3.4 3.4 0 1 0 -6.9 0M60.3 422.9a3.8 3.8 0 1 0 7.7 0a3.8 3.8 0 1 0 -7.7 0M55.1 398.7a3.7 3.7 0 1 0 7.4 0a3.7 3.7 0 1 0 -7.4 0M83.2 448.7a3.4 3.4 0 1 0 6.7 0a3.4 3.4 0 1 0 -6.7 0M97.1 417.5a4.2 4.2 0 1 0 8.5 0a4.2 4.2 0 1 0 -8.5 0M196.4 477.5a4.2 4.2 0 1 0 8.4 0a4.2 4.2 0 1 0 -8.4 0M133.5 480.8a3.5 3.5 0 1 0 6.9 0a3.5 3.5 0 1 0 -6.9 0M140.3 454.2a3.7 3.7 0 1 0 7.4 0a3.7 3.7 0 1 0 -7.4 0M143.0 449.8a4.2 4.2 0 1 0 8.4 0a4.2 4.2 0 1 0 -8.4 0M56.6 443.7a4.3 4.3 0 1 0 8.6 0a4.3 4.3 0 1 0 -8.6 0M87.1 406.4a3.4 3.4 0 1 0 6.8 0a3.4 3.4 0 1 0 -6.8 0M169.7 441.9a3.8 3.8 0 1 0 7.6 0a3.8 3.8 0 1 0 -7.6 0M55.5 416.9a4.3 4.3 0 1 0 8.5 0a4.3 4.3 0 1 0 -8.5 0M188.4 441.1a4.3 4.3 0 1 0 8.6 0a4.3 4.3 0 1 0 -8.6 0M163.9 434.8a4.0 4.0 0 1 0 8.1 0a4.0 4.0 0 1 0 -8.1 0M131.3 399.8a3.4 3.4 0 1 0 6.9 0a3.4 3.4 0 1 0 -6.9 0M177.8 450.2a4.0 4.0 0 1 0 7.9 0a4.0 4.0 0 1 0 -7.9 0M121.5 456.3a3.9 3.9 0 1 0 7.9 0a3.9 3.9 0 1 0 -7.9 0" fill="#b2aad2" stroke="#948cc0" stroke-width="0.8" opacity="0.78"/>
<path d="M92.2 466.8a3.5 3.5 0 1 0 7.0 0a3.5 3.5 0 1 0 -7.0 0M124.5 510.6a3.8 3.8 0 1 0 7.6 0a3.8 3.8 0 1 0 -7.6 0M139.0 424.3a3.9 3.9 0 1 0 7.9 0a3.9 3.9 0 1 0 -7.9 0M79.9 461.5a4.0 4.0 0 1 0 7.9 0a4.0 4.0 0 1 0 -7.9 0M182.9 430.3a3.4 3.4 0 1 0 6.8 0a3.4 3.4 0 1 0 -6.8 0M80.8 412.5a4.2 4.2 0 1 0 8.5 0a4.2 4.2 0 1 0 -8.5 0M147.5 453.5a4.2 4.2 0 1 0 8.4 0a4.2 4.2 0 1 0 -8.4 0M118.9 404.5a4.3 4.3 0 1 0 8.5 0a4.3 4.3 0 1 0 -8.5 0M192.7 435.9a4.1 4.1 0 1 0 8.2 0a4.1 4.1 0 1 0 -8.2 0M107.7 461.9a4.3 4.3 0 1 0 8.5 0a4.3 4.3 0 1 0 -8.5 0M95.5 460.5a3.7 3.7 0 1 0 7.4 0a3.7 3.7 0 1 0 -7.4 0M122.9 448.1a4.1 4.1 0 1 0 8.3 0a4.1 4.1 0 1 0 -8.3 0M187.1 446.9a3.8 3.8 0 1 0 7.6 0a3.8 3.8 0 1 0 -7.6 0M170.8 485.2a4.3 4.3 0 1 0 8.5 0a4.3 4.3 0 1 0 -8.5 0M100.5 466.6a3.4 3.4 0 1 0 6.8 0a3.4 3.4 0 1 0 -6.8 0M135.3 417.3a3.6 3.6 0 1 0 7.2 0a3.6 3.6 0 1 0 -7.2 0M148.7 407.2a3.9 3.9 0 1 0 7.7 0a3.9 3.9 0 1 0 -7.7 0M103.1 398.5a4.3 4.3 0 1 0 8.6 0a4.3 4.3 0 1 0 -8.6 0M170.7 467.0a3.4 3.4 0 1 0 6.8 0a3.4 3.4 0 1 0 -6.8 0M74.6 483.3a3.8 3.8 0 1 0 7.6 0a3.8 3.8 0 1 0 -7.6 0M174.4 424.7a3.4 3.4 0 1 0 6.8 0a3.4 3.4 0 1 0 -6.8 0M163.7 502.8a3.4 3.4 0 1 0 6.9 0a3.4 3.4 0 1 0 -6.9 0M198.0 429.8a3.7 3.7 0 1 0 7.5 0a3.7 3.7 0 1 0 -7.5 0M182.9 443.7a3.7 3.7 0 1 0 7.5 0a3.7 3.7 0 1 0 -7.5 0M85.2 453.8a3.8 3.8 0 1 0 7.7 0a3.8 3.8 0 1 0 -7.7 0M122.2 485.4a3.8 3.8 0 1 0 7.5 0a3.8 3.8 0 1 0 -7.5 0M95.7 437.3a4.0 4.0 0 1 0 7.9 0a4.0 4.0 0 1 0 -7.9 0M52.8 485.3a4.2 4.2 0 1 0 8.4 0a4.2 4.2 0 1 0 -8.4 0M202.7 489.6a3.9 3.9 0 1 0 7.9 0a3.9 3.9 0 1 0 -7.9 0M180.9 498.2a3.7 3.7 0 1 0 7.5 0a3.7 3.7 0 1 0 -7.5 0M95.2 413.1a3.5 3.5 0 1 0 7.0 0a3.5 3.5 0 1 0 -7.0 0M180.6 410.4a3.7 3.7 0 1 0 7.4 0a3.7 3.7 0 1 0 -7.4 0M169.7 419.0a3.6 3.6 0 1 0 7.3 0a3.6 3.6 0 1 0 -7.3 0M106.0 478.7a3.7 3.7 0 1 0 7.4 0a3.7 3.7 0 1 0 -7.4 0M172.0 449.4a3.9 3.9 0 1 0 7.7 0a3.9 3.9 0 1 0 -7.7 0M145.6 497.4a3.5 3.5 0 1 0 7.0 0a3.5 3.5 0 1 0 -7.0 0M145.1 437.1a3.7 3.7 0 1 0 7.3 0a3.7 3.7 0 1 0 -7.3 0M128.1 430.6a4.1 4.1 0 1 0 8.1 0a4.1 4.1 0 1 0 -8.1 0M65.1 417.2a4.2 4.2 0 1 0 8.3 0a4.2 4.2 0 1 0 -8.3 0M52.8 461.9a4.1 4.1 0 1 0 8.1 0a4.1 4.1 0 1 0 -8.1 0M158.7 423.2a3.6 3.6 0 1 0 7.1 0a3.6 3.6 0 1 0 -7.1 0M53.9 424.3a4.2 4.2 0 1 0 8.5 0a4.2 4.2 0 1 0 -8.5 0M203.7 467.8a3.9 3.9 0 1 0 7.7 0a3.9 3.9 0 1 0 -7.7 0M112.8 452.9a4.2 4.2 0 1 0 8.4 0a4.2 4.2 0 1 0 -8.4 0M175.0 466.1a3.5 3.5 0 1 0 7.0 0a3.5 3.5 0 1 0 -7.0 0M107.9 412.1a4.1 4.1 0 1 0 8.3 0a4.1 4.1 0 1 0 -8.3 0M95.1 472.2a3.7 3.7 0 1 0 7.4 0a3.7 3.7 0 1 0 -7.4 0M146.3 430.3a4.0 4.0 0 1 0 8.1 0a4.0 4.0 0 1 0 -8.1 0M75.6 413.3a4.1 4.1 0 1 0 8.2 0a4.1 4.1 0 1 0 -8.2 0M188.3 492.6a4.2 4.2 0 1 0 8.3 0a4.2 4.2 0 1 0 -8.3 0M73.8 401.1a3.4 3.4 0 1 0 6.8 0a3.4 3.4 0 1 0 -6.8 0M190.6 468.3a3.4 3.4 0 1 0 6.8 0a3.4 3.4 0 1 0 -6.8 0M178.5 399.8a3.4 3.4 0 1 0 6.7 0a3.4 3.4 0 1 0 -6.7 0M156.6 436.0a4.2 4.2 0 1 0 8.5 0a4.2 4.2 0 1 0 -8.5 0M94.1 425.6a4.1 4.1 0 1 0 8.2 0a4.1 4.1 0 1 0 -8.2 0M182.2 502.1a3.5 3.5 0 1 0 7.0 0a3.5 3.5 0 1 0 -7.0 0M132.8 502.7a3.6 3.6 0 1 0 7.1 0a3.6 3.6 0 1 0 -7.1 0M192.2 483.3a3.7 3.7 0 1 0 7.3 0a3.7 3.7 0 1 0 -7.3 0M54.5 437.7a4.0 4.0 0 1 0 8.1 0a4.0 4.0 0 1 0 -8.1 0M84.9 431.2a4.3 4.3 0 1 0 8.5 0a4.3 4.3 0 1 0 -8.5 0M64.9 407.5a3.3 3.3 0 1 0 6.7 0a3.3 3.3 0 1 0 -6.7 0M66.7 400.6a3.8 3.8 0 1 0 7.6 0a3.8 3.8 0 1 0 -7.6 0M139.6 404.7a3.5 3.5 0 1 0 6.9 0a3.5 3.5 0 1 0 -6.9 0M144.9 486.7a3.4 3.4 0 1 0 6.7 0a3.4 3.4 0 1 0 -6.7 0M86.2 478.3a3.5 3.5 0 1 0 6.9 0a3.5 3.5 0 1 0 -6.9 0M151.8 398.9a4.2 4.2 0 1 0 8.3 0a4.2 4.2 0 1 0 -8.3 0M111.3 442.8a3.9 3.9 0 1 0 7.9 0a3.9 3.9 0 1 0 -7.9 0M138.7 461.2a4.2 4.2 0 1 0 8.4 0a4.2 4.2 0 1 0 -8.4 0M138.0 449.1a3.4 3.4 0 1 0 6.9 0a3.4 3.4 0 1 0 -6.9 0M143.9 411.1a3.5 3.5 0 1 0 7.1 0a3.5 3.5 0 1 0 -7.1 0" fill="#c3bcdb" stroke="#948cc0" stroke-width="0.8" opacity="0.78"/>
<path d="M52.3 497.6a3.9 3.9 0 1 0 7.8 0a3.9 3.9 0 1 0 -7.8 0M168.2 478.3a3.7 3.7 0 1 0 7.3 0a3.7 3.7 0 1 0 -7.3 0M84.1 465.0a3.5 3.5 0 1 0 7.0 0a3.5 3.5 0 1 0 -7.0 0M204.3 419.6a3.5 3.5 0 1 0 7.0 0a3.5 3.5 0 1 0 -7.0 0M170.3 405.1a4.2 4.2 0 1 0 8.4 0a4.2 4.2 0 1 0 -8.4 0M61.5 401.4a3.6 3.6 0 1 0 7.2 0a3.6 3.6 0 1 0 -7.2 0M112.7 404.9a3.9 3.9 0 1 0 7.8 0a3.9 3.9 0 1 0 -7.8 0M190.0 407.7a4.3 4.3 0 1 0 8.6 0a4.3 4.3 0 1 0 -8.6 0M66.1 455.2a3.3 3.3 0 1 0 6.6 0a3.3 3.3 0 1 0 -6.6 0M105.5 466.0a3.7 3.7 0 1 0 7.5 0a3.7 3.7 0 1 0 -7.5 0M162.0 491.4a4.3 4.3 0 1 0 8.5 0a4.3 4.3 0 1 0 -8.5 0M155.8 406.7a3.6 3.6 0 1 0 7.2 0a3.6 3.6 0 1 0 -7.2 0M104.8 441.7a4.2 4.2 0 1 0 8.5 0a4.2 4.2 0 1 0 -8.5 0M83.5 508.8a3.4 3.4 0 1 0 6.7 0a3.4 3.4 0 1 0 -6.7 0M199.0 502.3a3.4 3.4 0 1 0 6.8 0a3.4 3.4 0 1 0 -6.8 0M163.7 509.9a4.1 4.1 0 1 0 8.3 0a4.1 4.1 0 1 0 -8.3 0M68.7 508.4a4.1 4.1 0 1 0 8.2 0a4.1 4.1 0 1 0 -8.2 0M146.1 441.6a4.1 4.1 0 1 0 8.1 0a4.1 4.1 0 1 0 -8.1 0M107.6 492.5a3.5 3.5 0 1 0 7.0 0a3.5 3.5 0 1 0 -7.0 0M94.6 508.9a4.0 4.0 0 1 0 8.0 0a4.0 4.0 0 1 0 -8.0 0M194.2 412.7a3.6 3.6 0 1 0 7.2 0a3.6 3.6 0 1 0 -7.2 0M152.9 467.6a4.3 4.3 0 1 0 8.6 0a4.3 4.3 0 1 0 -8.6 0M79.6 473.7a4.2 4.2 0 1 0 8.5 0a4.2 4.2 0 1 0 -8.5 0M142.8 511.2a4.2 4.2 0 1 0 8.4 0a4.2 4.2 0 1 0 -8.4 0M154.6 441.1a4.0 4.0 0 1 0 8.0 0a4.0 4.0 0 1 0 -8.0 0M125.5 437.6a3.3 3.3 0 1 0 6.7 0a3.3 3.3 0 1 0 -6.7 0M135.1 431.6a3.8 3.8 0 1 0 7.5 0a3.8 3.8 0 1 0 -7.5 0M60.4 449.4a3.7 3.7 0 1 0 7.5 0a3.7 3.7 0 1 0 -7.5 0M90.9 478.1a3.3 3.3 0 1 0 6.6 0a3.3 3.3 0 1 0 -6.6 0M188.9 419.2a3.7 3.7 0 1 0 7.5 0a3.7 3.7 0 1 0 -7.5 0M174.8 419.3a3.9 3.9 0 1 0 7.9 0a3.9 3.9 0 1 0 -7.9 0M177.3 504.3a3.4 3.4 0 1 0 6.8 0a3.4 3.4 0 1 0 -6.8 0M64.1 490.7a4.2 4.2 0 1 0 8.4 0a4.2 4.2 0 1 0 -8.4 0M120.5 443.8a4.3 4.3 0 1 0 8.5 0a4.3 4.3 0 1 0 -8.5 0M73.6 447.8a3.3 3.3 0 1 0 6.6 0a3.3 3.3 0 1 0 -6.6 0M166.4 461.1a3.4 3.4 0 1 0 6.9 0a3.4 3.4 0 1 0 -6.9 0M118.0 480.6a4.3 4.3 0 1 0 8.5 0a4.3 4.3 0 1 0 -8.5 0M97.5 399.7a3.4 3.4 0 1 0 6.9 0a3.4 3.4 0 1 0 -6.9 0M77.4 407.0a3.5 3.5 0 1 0 6.9 0a3.5 3.5 0 1 0 -6.9 0M151.7 507.8a3.5 3.5 0 1 0 6.9 0a3.5 3.5 0 1 0 -6.9 0M172.4 398.6a4.2 4.2 0 1 0 8.3 0a4.2 4.2 0 1 0 -8.3 0M196.4 406.3a3.5 3.5 0 1 0 7.0 0a3.5 3.5 0 1 0 -7.0 0M201.2 510.6a3.4 3.4 0 1 0 6.8 0a3.4 3.4 0 1 0 -6.8 0M156.3 492.8a3.6 3.6 0 1 0 7.1 0a3.6 3.6 0 1 0 -7.1 0M108.1 400.9a3.9 3.9 0 1 0 7.8 0a3.9 3.9 0 1 0 -7.8 0M96.6 484.1a4.0 4.0 0 1 0 8.0 0a4.0 4.0 0 1 0 -8.0 0M123.6 425.4a3.5 3.5 0 1 0 7.1 0a3.5 3.5 0 1 0 -7.1 0M87.4 510.4a3.9 3.9 0 1 0 7.8 0a3.9 3.9 0 1 0 -7.8 0M166.4 398.3a4.0 4.0 0 1 0 8.0 0a4.0 4.0 0 1 0 -8.0 0M201.8 486.1a3.6 3.6 0 1 0 7.2 0a3.6 3.6 0 1 0 -7.2 0M192.7 423.9a3.4 3.4 0 1 0 6.8 0a3.4 3.4 0 1 0 -6.8 0M101.8 413.0a4.2 4.2 0 1 0 8.4 0a4.2 4.2 0 1 0 -8.4 0M126.7 465.5a3.5 3.5 0 1 0 6.9 0a3.5 3.5 0 1 0 -6.9 0M70.3 504.2a3.7 3.7 0 1 0 7.4 0a3.7 3.7 0 1 0 -7.4 0M138.6 508.6a4.2 4.2 0 1 0 8.4 0a4.2 4.2 0 1 0 -8.4 0M199.6 437.1a3.5 3.5 0 1 0 7.1 0a3.5 3.5 0 1 0 -7.1 0M155.1 417.7a4.1 4.1 0 1 0 8.1 0a4.1 4.1 0 1 0 -8.1 0M127.7 407.6a3.8 3.8 0 1 0 7.7 0a3.8 3.8 0 1 0 -7.7 0M134.9 490.2a3.4 3.4 0 1 0 6.9 0a3.4 3.4 0 1 0 -6.9 0M168.5 453.8a4.2 4.2 0 1 0 8.4 0a4.2 4.2 0 1 0 -8.4 0M92.9 490.9a3.3 3.3 0 1 0 6.6 0a3.3 3.3 0 1 0 -6.6 0M68.8 410.7a3.8 3.8 0 1 0 7.5 0a3.8 3.8 0 1 0 -7.5 0M61.9 410.3a4.0 4.0 0 1 0 8.1 0a4.0 4.0 0 1 0 -8.1 0M119.5 491.3a3.5 3.5 0 1 0 7.1 0a3.5 3.5 0 1 0 -7.1 0M199.1 424.9a3.7 3.7 0 1 0 7.4 0a3.7 3.7 0 1 0 -7.4 0M200.8 495.5a4.2 4.2 0 1 0 8.5 0a4.2 4.2 0 1 0 -8.5 0M151.9 472.4a3.7 3.7 0 1 0 7.4 0a3.7 3.7 0 1 0 -7.4 0M172.5 496.0a3.4 3.4 0 1 0 6.8 0a3.4 3.4 0 1 0 -6.8 0M121.4 473.2a4.2 4.2 0 1 0 8.4 0a4.2 4.2 0 1 0 -8.4 0" fill="#b8b0d4" stroke="#948cc0" stroke-width="0.8" opacity="0.78"/>
<path d="M88.6 458.9a3.9 3.9 0 1 0 7.8 0a3.9 3.9 0 1 0 -7.8 0M56.7 490.3a3.8 3.8 0 1 0 7.5 0a3.8 3.8 0 1 0 -7.5 0M187.9 423.1a3.7 3.7 0 1 0 7.3 0a3.7 3.7 0 1 0 -7.3 0M76.1 424.4a3.7 3.7 0 1 0 7.5 0a3.7 3.7 0 1 0 -7.5 0M127.9 479.0a3.7 3.7 0 1 0 7.5 0a3.7 3.7 0 1 0 -7.5 0M136.8 483.6a3.7 3.7 0 1 0 7.3 0a3.7 3.7 0 1 0 -7.3 0M102.6 471.2a4.3 4.3 0 1 0 8.6 0a4.3 4.3 0 1 0 -8.6 0M150.1 424.8a3.7 3.7 0 1 0 7.4 0a3.7 3.7 0 1 0 -7.4 0M94.1 504.4a3.5 3.5 0 1 0 7.0 0a3.5 3.5 0 1 0 -7.0 0M116.2 495.6a3.9 3.9 0 1 0 7.8 0a3.9 3.9 0 1 0 -7.8 0M151.3 412.5a3.6 3.6 0 1 0 7.2 0a3.6 3.6 0 1 0 -7.2 0M124.5 497.2a3.6 3.6 0 1 0 7.2 0a3.6 3.6 0 1 0 -7.2 0M200.4 401.5a3.6 3.6 0 1 0 7.2 0a3.6 3.6 0 1 0 -7.2 0M133.7 465.1a3.5 3.5 0 1 0 7.0 0a3.5 3.5 0 1 0 -7.0 0M76.2 455.8a4.1 4.1 0 1 0 8.3 0a4.1 4.1 0 1 0 -8.3 0M64.1 478.6a4.1 4.1 0 1 0 8.1 0a4.1 4.1 0 1 0 -8.1 0M176.7 405.2a3.6 3.6 0 1 0 7.2 0a3.6 3.6 0 1 0 -7.2 0M137.8 496.1a3.4 3.4 0 1 0 6.8 0a3.4 3.4 0 1 0 -6.8 0M57.1 502.8a3.7 3.7 0 1 0 7.4 0a3.7 3.7 0 1 0 -7.4 0M185.6 471.7a3.4 3.4 0 1 0 6.8 0a3.4 3.4 0 1 0 -6.8 0M188.4 480.2a4.3 4.3 0 1 0 8.6 0a4.3 4.3 0 1 0 -8.6 0M183.9 419.1a4.2 4.2 0 1 0 8.4 0a4.2 4.2 0 1 0 -8.4 0M69.8 492.6a3.5 3.5 0 1 0 7.0 0a3.5 3.5 0 1 0 -7.0 0M128.1 443.1a3.5 3.5 0 1 0 6.9 0a3.5 3.5 0 1 0 -6.9 0M113.1 490.9a4.1 4.1 0 1 0 8.2 0a4.1 4.1 0 1 0 -8.2 0M131.8 448.1a4.1 4.1 0 1 0 8.1 0a4.1 4.1 0 1 0 -8.1 0M136.1 471.3a3.4 3.4 0 1 0 6.8 0a3.4 3.4 0 1 0 -6.8 0M70.3 429.8a3.7 3.7 0 1 0 7.3 0a3.7 3.7 0 1 0 -7.3 0M151.8 459.7a3.7 3.7 0 1 0 7.4 0a3.7 3.7 0 1 0 -7.4 0M201.7 459.3a4.2 4.2 0 1 0 8.3 0a4.2 4.2 0 1 0 -8.3 0M102.7 424.0a3.8 3.8 0 1 0 7.6 0a3.8 3.8 0 1 0 -7.6 0M81.3 423.0a3.4 3.4 0 1 0 6.9 0a3.4 3.4 0 1 0 -6.9 0M188.5 503.5a4.3 4.3 0 1 0 8.6 0a4.3 4.3 0 1 0 -8.6 0M176.2 430.2a4.2 4.2 0 1 0 8.5 0a4.2 4.2 0 1 0 -8.5 0M159.3 399.6a4.0 4.0 0 1 0 8.0 0a4.0 4.0 0 1 0 -8.0 0M107.7 485.5a4.0 4.0 0 1 0 7.9 0a4.0 4.0 0 1 0 -7.9 0M58.9 471.6a3.8 3.8 0 1 0 7.6 0a3.8 3.8 0 1 0 -7.6 0M104.9 502.8a4.2 4.2 0 1 0 8.5 0a4.2 4.2 0 1 0 -8.5 0M157.2 453.9a3.3 3.3 0 1 0 6.6 0a3.3 3.3 0 1 0 -6.6 0M99.8 429.1a3.9 3.9 0 1 0 7.9 0a3.9 3.9 0 1 0 -7.9 0M186.8 435.7a3.6 3.6 0 1 0 7.3 0a3.6 3.6 0 1 0 -7.3 0M178.3 435.1a4.1 4.1 0 1 0 8.2 0a4.1 4.1 0 1 0 -8.2 0M110.4 474.2a3.6 3.6 0 1 0 7.2 0a3.6 3.6 0 1 0 -7.2 0M72.1 405.2a3.9 3.9 0 1 0 7.7 0a3.9 3.9 0 1 0 -7.7 0M80.9 436.1a3.5 3.5 0 1 0 7.1 0a3.5 3.5 0 1 0 -7.1 0M184.1 406.2a4.1 4.1 0 1 0 8.2 0a4.1 4.1 0 1 0 -8.2 0M107.3 405.1a3.3 3.3 0 1 0 6.6 0a3.3 3.3 0 1 0 -6.6 0M73.1 419.3a3.4 3.4 0 1 0 6.7 0a3.4 3.4 0 1 0 -6.7 0M185.5 507.9a4.0 4.0 0 1 0 8.0 0a4.0 4.0 0 1 0 -8.0 0M147.2 417.6a3.9 3.9 0 1 0 7.7 0a3.9 3.9 0 1 0 -7.7 0M139.4 477.8a3.9 3.9 0 1 0 7.7 0a3.9 3.9 0 1 0 -7.7 0M151.3 437.3a4.2 4.2 0 1 0 8.3 0a4.2 4.2 0 1 0 -8.3 0M174.2 455.5a3.9 3.9 0 1 0 7.9 0a3.9 3.9 0 1 0 -7.9 0M116.4 401.1a3.5 3.5 0 1 0 7.1 0a3.5 3.5 0 1 0 -7.1 0M166.0 411.2a4.2 4.2 0 1 0 8.4 0a4.2 4.2 0 1 0 -8.4 0M76.0 503.7a4.2 4.2 0 1 0 8.3 0a4.2 4.2 0 1 0 -8.3 0M52.8 509.6a3.8 3.8 0 1 0 7.7 0a3.8 3.8 0 1 0 -7.7 0M189.5 429.4a3.3 3.3 0 1 0 6.6 0a3.3 3.3 0 1 0 -6.6 0M147.7 479.5a3.6 3.6 0 1 0 7.2 0a3.6 3.6 0 1 0 -7.2 0M72.5 453.1a3.3 3.3 0 1 0 6.7 0a3.3 3.3 0 1 0 -6.7 0M204.4 456.4a3.9 3.9 0 1 0 7.7 0a3.9 3.9 0 1 0 -7.7 0M156.7 480.8a3.6 3.6 0 1 0 7.2 0a3.6 3.6 0 1 0 -7.2 0M107.8 448.9a4.1 4.1 0 1 0 8.2 0a4.1 4.1 0 1 0 -8.2 0M118.0 435.6a3.4 3.4 0 1 0 6.9 0a3.4 3.4 0 1 0 -6.9 0M171.8 460.1a3.8 3.8 0 1 0 7.6 0a3.8 3.8 0 1 0 -7.6 0M134.3 455.6a3.6 3.6 0 1 0 7.2 0a3.6 3.6 0 1 0 -7.2 0M109.6 435.7a3.6 3.6 0 1 0 7.1 0a3.6 3.6 0 1 0 -7.1 0M108.9 510.7a3.8 3.8 0 1 0 7.5 0a3.8 3.8 0 1 0 -7.5 0M100.5 441.3a3.7 3.7 0 1 0 7.4 0a3.7 3.7 0 1 0 -7.4 0" fill="#cac4e0" stroke="#948cc0" stroke-width="0.8" opacity="0.78"/>
<g filter="url(#b3b)">
<ellipse cx="88" cy="448" rx="13" ry="12" fill="#9494cc" opacity="0.7"/>
<ellipse cx="120" cy="420" rx="25" ry="12" fill="#b8b4dc" opacity="0.4"/>
</g>
<ellipse cx="81.8" cy="418.2" rx="4.2" ry="1.9" transform="rotate(22 81.8 418.2)" fill="#3a4290"/>
<ellipse cx="99.1" cy="422.8" rx="1" ry="1" fill="#3e4694"/>
<ellipse cx="141.4" cy="496.1" rx="2.2" ry="2.9" fill="#3e4694"/>
<ellipse cx="194.7" cy="466.3" rx="1.6" ry="1.6" fill="#3e4694"/>
<ellipse cx="177.4" cy="498.3" rx="1.2" ry="1.2" fill="#3e4694"/>
<ellipse cx="148" cy="436" rx="1.2" ry="1.0" fill="#3e4694"/>
<ellipse cx="127" cy="470" rx="1.2" ry="1.0" fill="#3e4694"/>
<ellipse cx="74" cy="480" rx="1.0" ry="1.0" fill="#3e4694"/>
<circle cx="136.3" cy="480.2" r="2.5" fill="#eeeac0" opacity="0.8"/>
<circle cx="155" cy="483.1" r="2" fill="#eeeac0" opacity="0.8"/>
<circle cx="165.2" cy="472.3" r="2.2" fill="#eeeac0" opacity="0.8"/>
<circle cx="120" cy="500" r="2" fill="#eeeac0" opacity="0.8"/>
<circle cx="100" cy="470" r="1.8" fill="#eeeac0" opacity="0.8"/>
<circle cx="75" cy="500" r="2" fill="#eeeac0" opacity="0.8"/>
<circle cx="86.1" cy="448.3" r="6.9" fill="#f8f4c2"/>
<circle cx="101.3" cy="445.9" r="5.8" fill="#f8f4c2"/>
<circle cx="93.5" cy="489.8" r="5.5" fill="#f8f4c2"/>
<circle cx="183.9" cy="501.9" r="3.6" fill="#f8f4c2"/>
<circle cx="191.9" cy="497.1" r="2.6" fill="#f8f4c2"/>
<circle cx="170.2" cy="478.8" r="1.7" fill="#f8f4c2"/>
</g></g>
<rect x="59.6" y="402.1" width="146.2" height="109.6" fill="none" stroke="#3a3a3a" stroke-width="1.4"/>
<defs><clipPath id="c4"><rect x="212.8" y="402.8" width="144.8" height="108.5"/></clipPath><filter id="b4" x="-5%" y="-5%" width="110%" height="110%"><feConvolveMatrix order="3" kernelMatrix="0.03 0.18 0.03 0.18 1 0.18 0.03 0.18 0.03" edgeMode="duplicate"/></filter><filter id="b4b" x="-5%" y="-5%" width="110%" height="110%"><feGaussianBlur stdDeviation="1.2"/></filter></defs>
<g clip-path="url(#c4)"><g filter="url(#b4)">
<rect x="210.8" y="400.8" width="148.8" height="112.5" fill="#f6f0c6"/>
<path d="M243.3 494.6a1.6 1.6 0 1 0 3.3 0a1.6 1.6 0 1 0 -3.3 0M335.3 497.8a2.1 2.1 0 1 0 4.2 0a2.1 2.1 0 1 0 -4.2 0M269.3 421.8a2.2 2.2 0 1 0 4.3 0a2.2 2.2 0 1 0 -4.3 0M336.8 510.7a2.0 2.0 0 1 0 4.0 0a2.0 2.0 0 1 0 -4.0 0M226.7 506.3a2.1 2.1 0 1 0 4.3 0a2.1 2.1 0 1 0 -4.3 0M268.4 437.8a1.9 1.9 0 1 0 3.7 0a1.9 1.9 0 1 0 -3.7 0M225.5 431.4a2.1 2.1 0 1 0 4.3 0a2.1 2.1 0 1 0 -4.3 0M266.3 412.9a1.6 1.6 0 1 0 3.2 0a1.6 1.6 0 1 0 -3.2 0M220.1 484.3a2.2 2.2 0 1 0 4.3 0a2.2 2.2 0 1 0 -4.3 0M211.3 455.7a2.1 2.1 0 1 0 4.1 0a2.1 2.1 0 1 0 -4.1 0M222.7 405.5a1.9 1.9 0 1 0 3.8 0a1.9 1.9 0 1 0 -3.8 0M242.8 478.2a1.9 1.9 0 1 0 3.9 0a1.9 1.9 0 1 0 -3.9 0M242.8 456.1a1.7 1.7 0 1 0 3.4 0a1.7 1.7 0 1 0 -3.4 0M252.0 440.3a1.9 1.9 0 1 0 3.8 0a1.9 1.9 0 1 0 -3.8 0M222.7 507.1a1.9 1.9 0 1 0 3.8 0a1.9 1.9 0 1 0 -3.8 0M288.6 454.3a1.9 1.9 0 1 0 3.8 0a1.9 1.9 0 1 0 -3.8 0M213.6 478.9a2.1 2.1 0 1 0 4.1 0a2.1 2.1 0 1 0 -4.1 0M349.9 491.2a2.1 2.1 0 1 0 4.2 0a2.1 2.1 0 1 0 -4.2 0M317.0 511.0a2.1 2.1 0 1 0 4.2 0a2.1 2.1 0 1 0 -4.2 0M347.6 482.2a1.6 1.6 0 1 0 3.3 0a1.6 1.6 0 1 0 -3.3 0M261.5 428.9a2.1 2.1 0 1 0 4.3 0a2.1 2.1 0 1 0 -4.3 0M300.9 430.6a2.1 2.1 0 1 0 4.2 0a2.1 2.1 0 1 0 -4.2 0M241.8 422.8a1.9 1.9 0 1 0 3.8 0a1.9 1.9 0 1 0 -3.8 0M336.3 458.9a2.0 2.0 0 1 0 4.0 0a2.0 2.0 0 1 0 -4.0 0M284.1 447.6a1.7 1.7 0 1 0 3.5 0a1.7 1.7 0 1 0 -3.5 0M332.4 447.1a2.1 2.1 0 1 0 4.1 0a2.1 2.1 0 1 0 -4.1 0M301.9 420.1a2.0 2.0 0 1 0 3.9 0a2.0 2.0 0 1 0 -3.9 0M341.4 438.7a2.1 2.1 0 1 0 4.2 0a2.1 2.1 0 1 0 -4.2 0M212.8 494.8a2.2 2.2 0 1 0 4.3 0a2.2 2.2 0 1 0 -4.3 0M309.3 492.1a1.6 1.6 0 1 0 3.2 0a1.6 1.6 0 1 0 -3.2 0M271.2 412.5a2.0 2.0 0 1 0 4.0 0a2.0 2.0 0 1 0 -4.0 0M346.6 487.6a2.0 2.0 0 1 0 4.1 0a2.0 2.0 0 1 0 -4.1 0M296.1 423.8a1.8 1.8 0 1 0 3.7 0a1.8 1.8 0 1 0 -3.7 0M228.3 496.1a1.9 1.9 0 1 0 3.7 0a1.9 1.9 0 1 0 -3.7 0M352.2 440.8a2.0 2.0 0 1 0 4.0 0a2.0 2.0 0 1 0 -4.0 0M352.9 434.9a2.2 2.2 0 1 0 4.4 0a2.2 2.2 0 1 0 -4.4 0M275.0 439.9a1.8 1.8 0 1 0 3.6 0a1.8 1.8 0 1 0 -3.6 0M331.5 448.4a2.1 2.1 0 1 0 4.2 0a2.1 2.1 0 1 0 -4.2 0M230.6 490.1a1.7 1.7 0 1 0 3.5 0a1.7 1.7 0 1 0 -3.5 0M282.8 443.9a2.2 2.2 0 1 0 4.4 0a2.2 2.2 0 1 0 -4.4 0M334.8 489.7a2.0 2.0 0 1 0 3.9 0a2.0 2.0 0 1 0 -3.9 0M264.1 425.7a2.1 2.1 0 1 0 4.3 0a2.1 2.1 0 1 0 -4.3 0M253.4 502.1a1.9 1.9 0 1 0 3.9 0a1.9 1.9 0 1 0 -3.9 0M354.1 440.7a2.0 2.0 0 1 0 3.9 0a2.0 2.0 0 1 0 -3.9 0M261.7 494.0a1.7 1.7 0 1 0 3.4 0a1.7 1.7 0 1 0 -3.4 0M236.3 500.7a1.7 1.7 0 1 0 3.4 0a1.7 1.7 0 1 0 -3.4 0M311.0 503.7a1.7 1.7 0 1 0 3.4 0a1.7 1.7 0 1 0 -3.4 0M227.1 486.5a2.1 2.1 0 1 0 4.1 0a2.1 2.1 0 1 0 -4.1 0M324.5 459.8a1.8 1.8 0 1 0 3.5 0a1.8 1.8 0 1 0 -3.5 0M293.3 493.8a1.7 1.7 0 1 0 3.3 0a1.7 1.7 0 1 0 -3.3 0M240.6 435.1a2.0 2.0 0 1 0 4.0 0a2.0 2.0 0 1 0 -4.0 0M350.8 466.4a2.2 2.2 0 1 0 4.4 0a2.2 2.2 0 1 0 -4.4 0M297.8 510.5a2.1 2.1 0 1 0 4.3 0a2.1 2.1 0 1 0 -4.3 0M324.9 404.5a2.0 2.0 0 1 0 4.0 0a2.0 2.0 0 1 0 -4.0 0M307.0 433.4a2.0 2.0 0 1 0 4.1 0a2.0 2.0 0 1 0 -4.1 0M351.5 451.2a1.7 1.7 0 1 0 3.5 0a1.7 1.7 0 1 0 -3.5 0M214.1 472.6a1.8 1.8 0 1 0 3.6 0a1.8 1.8 0 1 0 -3.6 0M342.8 499.4a2.0 2.0 0 1 0 4.0 0a2.0 2.0 0 1 0 -4.0 0M310.2 450.3a1.7 1.7 0 1 0 3.4 0a1.7 1.7 0 1 0 -3.4 0M250.8 496.2a2.0 2.0 0 1 0 4.0 0a2.0 2.0 0 1 0 -4.0 0M249.7 413.1a2.2 2.2 0 1 0 4.3 0a2.2 2.2 0 1 0 -4.3 0M337.5 488.8a1.8 1.8 0 1 0 3.6 0a1.8 1.8 0 1 0 -3.6 0M345.6 441.1a2.0 2.0 0 1 0 4.1 0a2.0 2.0 0 1 0 -4.1 0M247.2 508.4a1.8 1.8 0 1 0 3.6 0a1.8 1.8 0 1 0 -3.6 0M341.4 480.0a2.2 2.2 0 1 0 4.3 0a2.2 2.2 0 1 0 -4.3 0M287.3 426.6a1.9 1.9 0 1 0 3.8 0a1.9 1.9 0 1 0 -3.8 0M343.7 465.5a2.1 2.1 0 1 0 4.3 0a2.1 2.1 0 1 0 -4.3 0M230.4 463.2a1.9 1.9 0 1 0 3.9 0a1.9 1.9 0 1 0 -3.9 0M293.6 450.5a2.0 2.0 0 1 0 4.0 0a2.0 2.0 0 1 0 -4.0 0M262.5 487.9a1.7 1.7 0 1 0 3.4 0a1.7 1.7 0 1 0 -3.4 0M339.2 498.3a1.8 1.8 0 1 0 3.6 0a1.8 1.8 0 1 0 -3.6 0M229.2 487.7a2.1 2.1 0 1 0 4.1 0a2.1 2.1 0 1 0 -4.1 0M266.3 420.5a1.7 1.7 0 1 0 3.3 0a1.7 1.7 0 1 0 -3.3 0M337.3 462.0a2.2 2.2 0 1 0 4.3 0a2.2 2.2 0 1 0 -4.3 0M313.1 485.2a1.8 1.8 0 1 0 3.5 0a1.8 1.8 0 1 0 -3.5 0M336.4 411.6a2.0 2.0 0 1 0 4.1 0a2.0 2.0 0 1 0 -4.1 0M325.4 469.7a2.0 2.0 0 1 0 4.0 0a2.0 2.0 0 1 0 -4.0 0" fill="#f0e8d0" stroke="#cbbab4" stroke-width="0.75" opacity="0.9"/>
<path d="M288.8 442.9a1.8 1.8 0 1 0 3.6 0a1.8 1.8 0 1 0 -3.6 0M222.8 474.2a2.1 2.1 0 1 0 4.2 0a2.1 2.1 0 1 0 -4.2 0M234.1 496.5a2.0 2.0 0 1 0 4.1 0a2.0 2.0 0 1 0 -4.1 0M240.1 443.0a2.0 2.0 0 1 0 4.0 0a2.0 2.0 0 1 0 -4.0 0M340.3 496.3a2.0 2.0 0 1 0 4.0 0a2.0 2.0 0 1 0 -4.0 0M328.7 465.5a1.8 1.8 0 1 0 3.6 0a1.8 1.8 0 1 0 -3.6 0M228.4 479.8a1.9 1.9 0 1 0 3.8 0a1.9 1.9 0 1 0 -3.8 0M353.4 502.3a2.2 2.2 0 1 0 4.3 0a2.2 2.2 0 1 0 -4.3 0M276.3 444.2a1.7 1.7 0 1 0 3.4 0a1.7 1.7 0 1 0 -3.4 0M220.0 487.2a1.9 1.9 0 1 0 3.8 0a1.9 1.9 0 1 0 -3.8 0M317.9 500.3a1.9 1.9 0 1 0 3.8 0a1.9 1.9 0 1 0 -3.8 0M256.9 506.5a2.0 2.0 0 1 0 3.9 0a2.0 2.0 0 1 0 -3.9 0M211.9 488.8a2.0 2.0 0 1 0 4.0 0a2.0 2.0 0 1 0 -4.0 0M311.4 458.2a1.9 1.9 0 1 0 3.9 0a1.9 1.9 0 1 0 -3.9 0M256.9 449.6a1.8 1.8 0 1 0 3.6 0a1.8 1.8 0 1 0 -3.6 0M352.1 422.1a2.1 2.1 0 1 0 4.2 0a2.1 2.1 0 1 0 -4.2 0M248.7 493.5a2.2 2.2 0 1 0 4.3 0a2.2 2.2 0 1 0 -4.3 0M333.8 475.6a1.7 1.7 0 1 0 3.4 0a1.7 1.7 0 1 0 -3.4 0M349.0 502.2a2.2 2.2 0 1 0 4.3 0a2.2 2.2 0 1 0 -4.3 0M226.7 462.8a2.2 2.2 0 1 0 4.4 0a2.2 2.2 0 1 0 -4.4 0M282.5 457.2a1.7 1.7 0 1 0 3.3 0a1.7 1.7 0 1 0 -3.3 0M211.4 458.7a1.9 1.9 0 1 0 3.9 0a1.9 1.9 0 1 0 -3.9 0M236.1 475.7a2.0 2.0 0 1 0 4.0 0a2.0 2.0 0 1 0 -4.0 0M296.5 433.9a1.7 1.7 0 1 0 3.5 0a1.7 1.7 0 1 0 -3.5 0M333.3 497.2a1.9 1.9 0 1 0 3.8 0a1.9 1.9 0 1 0 -3.8 0M273.4 421.8a1.6 1.6 0 1 0 3.3 0a1.6 1.6 0 1 0 -3.3 0M222.9 451.6a2.2 2.2 0 1 0 4.3 0a2.2 2.2 0 1 0 -4.3 0M252.7 455.3a1.8 1.8 0 1 0 3.6 0a1.8 1.8 0 1 0 -3.6 0M216.5 477.9a1.9 1.9 0 1 0 3.8 0a1.9 1.9 0 1 0 -3.8 0M242.4 492.2a1.9 1.9 0 1 0 3.9 0a1.9 1.9 0 1 0 -3.9 0M332.9 470.2a2.2 2.2 0 1 0 4.3 0a2.2 2.2 0 1 0 -4.3 0M305.5 411.6a1.6 1.6 0 1 0 3.3 0a1.6 1.6 0 1 0 -3.3 0M301.6 438.7a2.1 2.1 0 1 0 4.1 0a2.1 2.1 0 1 0 -4.1 0M337.4 493.5a2.0 2.0 0 1 0 3.9 0a2.0 2.0 0 1 0 -3.9 0M324.8 497.8a2.1 2.1 0 1 0 4.2 0a2.1 2.1 0 1 0 -4.2 0M302.5 498.2a1.6 1.6 0 1 0 3.2 0a1.6 1.6 0 1 0 -3.2 0M231.5 435.0a2.2 2.2 0 1 0 4.3 0a2.2 2.2 0 1 0 -4.3 0M252.2 504.0a2.1 2.1 0 1 0 4.3 0a2.1 2.1 0 1 0 -4.3 0M221.3 487.1a2.2 2.2 0 1 0 4.4 0a2.2 2.2 0 1 0 -4.4 0M353.9 412.0a1.8 1.8 0 1 0 3.6 0a1.8 1.8 0 1 0 -3.6 0M290.1 423.6a2.0 2.0 0 1 0 4.0 0a2.0 2.0 0 1 0 -4.0 0M247.9 510.8a1.9 1.9 0 1 0 3.8 0a1.9 1.9 0 1 0 -3.8 0M252.3 505.2a1.9 1.9 0 1 0 3.7 0a1.9 1.9 0 1 0 -3.7 0M236.5 440.9a2.0 2.0 0 1 0 4.1 0a2.0 2.0 0 1 0 -4.1 0M349.2 464.1a1.7 1.7 0 1 0 3.3 0a1.7 1.7 0 1 0 -3.3 0M242.8 438.3a1.7 1.7 0 1 0 3.5 0a1.7 1.7 0 1 0 -3.5 0M350.8 503.3a2.1 2.1 0 1 0 4.1 0a2.1 2.1 0 1 0 -4.1 0M281.1 427.7a1.7 1.7 0 1 0 3.4 0a1.7 1.7 0 1 0 -3.4 0M217.8 451.4a1.8 1.8 0 1 0 3.6 0a1.8 1.8 0 1 0 -3.6 0M218.3 434.4a1.7 1.7 0 1 0 3.4 0a1.7 1.7 0 1 0 -3.4 0M291.7 488.7a2.1 2.1 0 1 0 4.2 0a2.1 2.1 0 1 0 -4.2 0M235.5 444.3a2.1 2.1 0 1 0 4.3 0a2.1 2.1 0 1 0 -4.3 0M254.5 507.0a1.7 1.7 0 1 0 3.3 0a1.7 1.7 0 1 0 -3.3 0M215.7 431.9a1.9 1.9 0 1 0 3.9 0a1.9 1.9 0 1 0 -3.9 0M227.5 503.8a1.6 1.6 0 1 0 3.3 0a1.6 1.6 0 1 0 -3.3 0M340.2 462.5a1.7 1.7 0 1 0 3.4 0a1.7 1.7 0 1 0 -3.4 0M227.4 463.7a1.8 1.8 0 1 0 3.5 0a1.8 1.8 0 1 0 -3.5 0M338.5 440.7a1.9 1.9 0 1 0 3.8 0a1.9 1.9 0 1 0 -3.8 0M263.2 416.2a1.7 1.7 0 1 0 3.4 0a1.7 1.7 0 1 0 -3.4 0M335.7 417.7a1.9 1.9 0 1 0 3.8 0a1.9 1.9 0 1 0 -3.8 0M278.1 439.4a1.8 1.8 0 1 0 3.5 0a1.8 1.8 0 1 0 -3.5 0M224.0 457.7a2.0 2.0 0 1 0 4.0 0a2.0 2.0 0 1 0 -4.0 0M303.9 443.3a2.2 2.2 0 1 0 4.4 0a2.2 2.2 0 1 0 -4.4 0M253.0 506.0a1.6 1.6 0 1 0 3.3 0a1.6 1.6 0 1 0 -3.3 0M273.0 444.3a2.0 2.0 0 1 0 4.0 0a2.0 2.0 0 1 0 -4.0 0M351.9 419.6a2.1 2.1 0 1 0 4.2 0a2.1 2.1 0 1 0 -4.2 0M233.4 445.3a1.8 1.8 0 1 0 3.6 0a1.8 1.8 0 1 0 -3.6 0M258.6 504.4a1.6 1.6 0 1 0 3.3 0a1.6 1.6 0 1 0 -3.3 0M253.6 507.5a2.1 2.1 0 1 0 4.2 0a2.1 2.1 0 1 0 -4.2 0M341.8 466.6a1.6 1.6 0 1 0 3.2 0a1.6 1.6 0 1 0 -3.2 0M219.3 467.9a1.9 1.9 0 1 0 3.8 0a1.9 1.9 0 1 0 -3.8 0M310.1 415.5a1.8 1.8 0 1 0 3.6 0a1.8 1.8 0 1 0 -3.6 0M348.5 436.6a1.7 1.7 0 1 0 3.4 0a1.7 1.7 0 1 0 -3.4 0M272.7 442.2a1.9 1.9 0 1 0 3.8 0a1.9 1.9 0 1 0 -3.8 0M266.9 504.1a1.9 1.9 0 1 0 3.8 0a1.9 1.9 0 1 0 -3.8 0M228.4 450.4a1.7 1.7 0 1 0 3.4 0a1.7 1.7 0 1 0 -3.4 0M237.5 451.8a2.1 2.1 0 1 0 4.2 0a2.1 2.1 0 1 0 -4.2 0" fill="#efe7cf" stroke="#cbbab4" stroke-width="0.75" opacity="0.9"/>
<path d="M254.4 442.0a2.2 2.2 0 1 0 4.4 0a2.2 2.2 0 1 0 -4.4 0M273.3 423.3a1.7 1.7 0 1 0 3.4 0a1.7 1.7 0 1 0 -3.4 0M238.5 443.8a1.8 1.8 0 1 0 3.6 0a1.8 1.8 0 1 0 -3.6 0M318.2 428.4a1.8 1.8 0 1 0 3.6 0a1.8 1.8 0 1 0 -3.6 0M310.4 510.1a1.7 1.7 0 1 0 3.4 0a1.7 1.7 0 1 0 -3.4 0M241.9 450.4a1.8 1.8 0 1 0 3.7 0a1.8 1.8 0 1 0 -3.7 0M260.4 492.2a2.2 2.2 0 1 0 4.3 0a2.2 2.2 0 1 0 -4.3 0M278.0 509.1a1.7 1.7 0 1 0 3.4 0a1.7 1.7 0 1 0 -3.4 0M336.2 424.8a1.9 1.9 0 1 0 3.8 0a1.9 1.9 0 1 0 -3.8 0M291.4 446.8a2.1 2.1 0 1 0 4.2 0a2.1 2.1 0 1 0 -4.2 0M243.3 409.5a1.9 1.9 0 1 0 3.8 0a1.9 1.9 0 1 0 -3.8 0M298.7 504.2a1.9 1.9 0 1 0 3.7 0a1.9 1.9 0 1 0 -3.7 0M297.9 493.7a1.7 1.7 0 1 0 3.4 0a1.7 1.7 0 1 0 -3.4 0M281.1 496.7a1.9 1.9 0 1 0 3.7 0a1.9 1.9 0 1 0 -3.7 0M318.0 433.5a2.0 2.0 0 1 0 3.9 0a2.0 2.0 0 1 0 -3.9 0M272.0 416.7a1.6 1.6 0 1 0 3.3 0a1.6 1.6 0 1 0 -3.3 0M233.4 494.1a2.1 2.1 0 1 0 4.1 0a2.1 2.1 0 1 0 -4.1 0M268.0 499.7a2.1 2.1 0 1 0 4.2 0a2.1 2.1 0 1 0 -4.2 0M334.5 466.9a2.2 2.2 0 1 0 4.3 0a2.2 2.2 0 1 0 -4.3 0M338.1 510.8a1.6 1.6 0 1 0 3.2 0a1.6 1.6 0 1 0 -3.2 0M283.6 488.6a1.6 1.6 0 1 0 3.3 0a1.6 1.6 0 1 0 -3.3 0M348.4 483.5a1.7 1.7 0 1 0 3.4 0a1.7 1.7 0 1 0 -3.4 0M294.8 504.2a1.9 1.9 0 1 0 3.8 0a1.9 1.9 0 1 0 -3.8 0M252.8 431.9a1.9 1.9 0 1 0 3.9 0a1.9 1.9 0 1 0 -3.9 0M287.9 508.7a1.6 1.6 0 1 0 3.3 0a1.6 1.6 0 1 0 -3.3 0M234.4 426.6a2.0 2.0 0 1 0 4.1 0a2.0 2.0 0 1 0 -4.1 0M241.2 453.4a1.8 1.8 0 1 0 3.5 0a1.8 1.8 0 1 0 -3.5 0M252.3 435.0a2.1 2.1 0 1 0 4.3 0a2.1 2.1 0 1 0 -4.3 0M242.0 434.4a1.9 1.9 0 1 0 3.7 0a1.9 1.9 0 1 0 -3.7 0M278.1 437.0a1.9 1.9 0 1 0 3.8 0a1.9 1.9 0 1 0 -3.8 0M265.6 504.8a2.2 2.2 0 1 0 4.4 0a2.2 2.2 0 1 0 -4.4 0M346.9 413.4a2.0 2.0 0 1 0 4.0 0a2.0 2.0 0 1 0 -4.0 0M238.5 472.0a1.9 1.9 0 1 0 3.9 0a1.9 1.9 0 1 0 -3.9 0M340.6 405.4a2.1 2.1 0 1 0 4.2 0a2.1 2.1 0 1 0 -4.2 0M259.5 505.3a1.7 1.7 0 1 0 3.5 0a1.7 1.7 0 1 0 -3.5 0M237.3 446.3a1.8 1.8 0 1 0 3.7 0a1.8 1.8 0 1 0 -3.7 0M291.2 509.3a2.1 2.1 0 1 0 4.2 0a2.1 2.1 0 1 0 -4.2 0M217.4 450.5a1.9 1.9 0 1 0 3.8 0a1.9 1.9 0 1 0 -3.8 0M288.7 433.7a1.8 1.8 0 1 0 3.6 0a1.8 1.8 0 1 0 -3.6 0M278.1 431.5a1.8 1.8 0 1 0 3.6 0a1.8 1.8 0 1 0 -3.6 0M281.0 423.1a2.0 2.0 0 1 0 4.0 0a2.0 2.0 0 1 0 -4.0 0M230.5 474.9a1.8 1.8 0 1 0 3.6 0a1.8 1.8 0 1 0 -3.6 0M267.2 489.3a1.9 1.9 0 1 0 3.9 0a1.9 1.9 0 1 0 -3.9 0M346.2 507.8a2.1 2.1 0 1 0 4.1 0a2.1 2.1 0 1 0 -4.1 0M233.5 471.9a1.9 1.9 0 1 0 3.9 0a1.9 1.9 0 1 0 -3.9 0M240.8 499.9a1.7 1.7 0 1 0 3.5 0a1.7 1.7 0 1 0 -3.5 0M223.5 464.8a1.8 1.8 0 1 0 3.5 0a1.8 1.8 0 1 0 -3.5 0M266.2 495.4a2.0 2.0 0 1 0 3.9 0a2.0 2.0 0 1 0 -3.9 0M212.2 498.8a1.6 1.6 0 1 0 3.2 0a1.6 1.6 0 1 0 -3.2 0M298.1 454.3a1.9 1.9 0 1 0 3.9 0a1.9 1.9 0 1 0 -3.9 0M290.5 511.2a1.8 1.8 0 1 0 3.7 0a1.8 1.8 0 1 0 -3.7 0M234.9 497.1a1.7 1.7 0 1 0 3.3 0a1.7 1.7 0 1 0 -3.3 0M276.6 508.6a1.8 1.8 0 1 0 3.6 0a1.8 1.8 0 1 0 -3.6 0M350.6 490.4a1.7 1.7 0 1 0 3.4 0a1.7 1.7 0 1 0 -3.4 0M344.3 421.1a2.1 2.1 0 1 0 4.2 0a2.1 2.1 0 1 0 -4.2 0M350.3 431.8a2.1 2.1 0 1 0 4.2 0a2.1 2.1 0 1 0 -4.2 0M232.7 449.2a1.9 1.9 0 1 0 3.8 0a1.9 1.9 0 1 0 -3.8 0M214.1 403.8a1.7 1.7 0 1 0 3.5 0a1.7 1.7 0 1 0 -3.5 0M312.8 459.9a1.9 1.9 0 1 0 3.8 0a1.9 1.9 0 1 0 -3.8 0M334.1 461.2a1.8 1.8 0 1 0 3.5 0a1.8 1.8 0 1 0 -3.5 0M266.0 473.1a2.2 2.2 0 1 0 4.3 0a2.2 2.2 0 1 0 -4.3 0M298.9 431.7a1.7 1.7 0 1 0 3.4 0a1.7 1.7 0 1 0 -3.4 0M315.2 423.2a1.7 1.7 0 1 0 3.4 0a1.7 1.7 0 1 0 -3.4 0M297.5 404.0a1.9 1.9 0 1 0 3.8 0a1.9 1.9 0 1 0 -3.8 0M265.4 419.6a1.9 1.9 0 1 0 3.9 0a1.9 1.9 0 1 0 -3.9 0M238.9 459.4a2.1 2.1 0 1 0 4.2 0a2.1 2.1 0 1 0 -4.2 0M229.7 484.1a2.1 2.1 0 1 0 4.2 0a2.1 2.1 0 1 0 -4.2 0M211.0 470.9a2.2 2.2 0 1 0 4.3 0a2.2 2.2 0 1 0 -4.3 0M235.8 463.6a2.0 2.0 0 1 0 4.1 0a2.0 2.0 0 1 0 -4.1 0M211.5 500.0a2.0 2.0 0 1 0 4.1 0a2.0 2.0 0 1 0 -4.1 0M318.8 426.5a2.0 2.0 0 1 0 4.1 0a2.0 2.0 0 1 0 -4.1 0M281.8 459.9a2.1 2.1 0 1 0 4.2 0a2.1 2.1 0 1 0 -4.2 0M242.3 465.9a1.8 1.8 0 1 0 3.5 0a1.8 1.8 0 1 0 -3.5 0M222.6 489.3a1.6 1.6 0 1 0 3.2 0a1.6 1.6 0 1 0 -3.2 0M349.8 438.3a2.0 2.0 0 1 0 4.1 0a2.0 2.0 0 1 0 -4.1 0M240.3 434.6a1.7 1.7 0 1 0 3.4 0a1.7 1.7 0 1 0 -3.4 0" fill="#f1e9d1" stroke="#cbbab4" stroke-width="0.75" opacity="0.9"/>
<g filter="url(#b4b)">
<ellipse cx="344.1" cy="444.7" rx="8" ry="7.2" fill="#c89ccc" opacity="0.85"/>
<ellipse cx="298" cy="484.6" rx="5.5" ry="5.5" fill="#c89ccc" opacity="0.85"/>
<ellipse cx="271.6" cy="478.8" rx="7.2" ry="8" fill="#c89ccc" opacity="0.85"/>
<ellipse cx="245.6" cy="478.1" rx="8" ry="7.2" fill="#c89ccc" opacity="0.85"/>
</g>
<circle cx="221.1" cy="410.4" r="2.9" fill="#8450aa"/>
<circle cx="220.5" cy="409.8" r="1.4" fill="#9a68b8" opacity="0.5"/>
<circle cx="219.4" cy="415.9" r="2.6" fill="#8450aa"/>
<circle cx="218.9" cy="415.4" r="1.3" fill="#9a68b8" opacity="0.5"/>
<circle cx="221.8" cy="427.7" r="3.6" fill="#6a3a98"/>
<circle cx="221.1" cy="427.0" r="1.8" fill="#9a68b8" opacity="0.5"/>
<circle cx="228" cy="424.2" r="3.6" fill="#7040a0"/>
<circle cx="227.3" cy="423.5" r="1.8" fill="#9a68b8" opacity="0.5"/>
<circle cx="236.7" cy="420.9" r="4.3" fill="#7040a0"/>
<circle cx="235.8" cy="420.0" r="2.1" fill="#9a68b8" opacity="0.5"/>
<circle cx="261.5" cy="406.5" r="3.6" fill="#8450aa"/>
<circle cx="260.8" cy="405.8" r="1.8" fill="#9a68b8" opacity="0.5"/>
<circle cx="282.4" cy="405" r="3.2" fill="#6a3a98"/>
<circle cx="281.8" cy="404.4" r="1.6" fill="#9a68b8" opacity="0.5"/>
<circle cx="274.5" cy="451.9" r="2.5" fill="#8450aa"/>
<circle cx="274.0" cy="451.4" r="1.2" fill="#9a68b8" opacity="0.5"/>
<circle cx="313.8" cy="409.8" r="2.9" fill="#8450aa"/>
<circle cx="313.2" cy="409.2" r="1.4" fill="#9a68b8" opacity="0.5"/>
<circle cx="309.8" cy="415.1" r="2.9" fill="#7a44a2"/>
<circle cx="309.2" cy="414.5" r="1.4" fill="#9a68b8" opacity="0.5"/>
<circle cx="333.3" cy="421.6" r="4" fill="#7a44a2"/>
<circle cx="332.5" cy="420.8" r="2.0" fill="#9a68b8" opacity="0.5"/>
<circle cx="329.4" cy="429.6" r="3.6" fill="#8450aa"/>
<circle cx="328.7" cy="428.9" r="1.8" fill="#9a68b8" opacity="0.5"/>
<circle cx="327.6" cy="441.1" r="4" fill="#7040a0"/>
<circle cx="326.8" cy="440.3" r="2.0" fill="#9a68b8" opacity="0.5"/>
<circle cx="318.9" cy="436.1" r="2.2" fill="#7040a0"/>
<circle cx="318.5" cy="435.7" r="1.1" fill="#9a68b8" opacity="0.5"/>
<circle cx="347.7" cy="449" r="3.6" fill="#7a44a2"/>
<circle cx="347.0" cy="448.3" r="1.8" fill="#9a68b8" opacity="0.5"/>
<circle cx="257.2" cy="463.7" r="2.6" fill="#6a3a98"/>
<circle cx="256.7" cy="463.2" r="1.3" fill="#9a68b8" opacity="0.5"/>
<circle cx="262.2" cy="468.7" r="2.6" fill="#7a44a2"/>
<circle cx="261.7" cy="468.2" r="1.3" fill="#9a68b8" opacity="0.5"/>
<circle cx="266.5" cy="465.8" r="2.6" fill="#7a44a2"/>
<circle cx="266.0" cy="465.3" r="1.3" fill="#9a68b8" opacity="0.5"/>
<circle cx="257.9" cy="472" r="2.6" fill="#8450aa"/>
<circle cx="257.4" cy="471.5" r="1.3" fill="#9a68b8" opacity="0.5"/>
<circle cx="242.7" cy="475.2" r="3.5" fill="#7a44a2"/>
<circle cx="242.0" cy="474.5" r="1.8" fill="#9a68b8" opacity="0.5"/>
<circle cx="253.5" cy="478.1" r="3.2" fill="#6a3a98"/>
<circle cx="252.9" cy="477.5" r="1.6" fill="#9a68b8" opacity="0.5"/>
<circle cx="266.5" cy="478.8" r="3" fill="#7a44a2"/>
<circle cx="265.9" cy="478.2" r="1.5" fill="#9a68b8" opacity="0.5"/>
<circle cx="274.5" cy="476.6" r="3.6" fill="#8450aa"/>
<circle cx="273.8" cy="475.9" r="1.8" fill="#9a68b8" opacity="0.5"/>
<circle cx="281.7" cy="472.3" r="2.1" fill="#6a3a98"/>
<circle cx="281.3" cy="471.9" r="1.1" fill="#9a68b8" opacity="0.5"/>
<circle cx="282.4" cy="481" r="1.8" fill="#7040a0"/>
<circle cx="282.0" cy="480.6" r="0.9" fill="#9a68b8" opacity="0.5"/>
<circle cx="282.4" cy="485.3" r="1.8" fill="#7a44a2"/>
<circle cx="282.0" cy="484.9" r="0.9" fill="#9a68b8" opacity="0.5"/>
<circle cx="282.4" cy="489.6" r="1.8" fill="#6a3a98"/>
<circle cx="282.0" cy="489.2" r="0.9" fill="#9a68b8" opacity="0.5"/>
<circle cx="277.3" cy="492.2" r="2.9" fill="#8450aa"/>
<circle cx="276.7" cy="491.6" r="1.4" fill="#9a68b8" opacity="0.5"/>
<circle cx="260.8" cy="497.1" r="3.2" fill="#7a44a2"/>
<circle cx="260.2" cy="496.5" r="1.6" fill="#9a68b8" opacity="0.5"/>
<circle cx="242" cy="495.1" r="4.3" fill="#7a44a2"/>
<circle cx="241.1" cy="494.2" r="2.1" fill="#9a68b8" opacity="0.5"/>
<circle cx="247.8" cy="498.3" r="2.6" fill="#6a3a98"/>
<circle cx="247.3" cy="497.8" r="1.3" fill="#9a68b8" opacity="0.5"/>
<circle cx="241.3" cy="504" r="3.2" fill="#6a3a98"/>
<circle cx="240.7" cy="503.4" r="1.6" fill="#9a68b8" opacity="0.5"/>
<circle cx="243.9" cy="508.7" r="2.6" fill="#7040a0"/>
<circle cx="243.4" cy="508.2" r="1.3" fill="#9a68b8" opacity="0.5"/>
<circle cx="232.3" cy="493.7" r="1.7" fill="#6a3a98"/>
<circle cx="232.0" cy="493.4" r="0.8" fill="#9a68b8" opacity="0.5"/>
<circle cx="215.3" cy="488.5" r="3.6" fill="#6a3a98"/>
<circle cx="214.6" cy="487.8" r="1.8" fill="#9a68b8" opacity="0.5"/>
<circle cx="285.7" cy="503.3" r="4.3" fill="#7a44a2"/>
<circle cx="284.8" cy="502.4" r="2.1" fill="#9a68b8" opacity="0.5"/>
<circle cx="312.7" cy="463.4" r="3.2" fill="#7040a0"/>
<circle cx="312.1" cy="462.8" r="1.6" fill="#9a68b8" opacity="0.5"/>
<circle cx="318.2" cy="462.5" r="3" fill="#7a44a2"/>
<circle cx="317.6" cy="461.9" r="1.5" fill="#9a68b8" opacity="0.5"/>
<circle cx="323.9" cy="461.9" r="3" fill="#8450aa"/>
<circle cx="323.3" cy="461.3" r="1.5" fill="#9a68b8" opacity="0.5"/>
<circle cx="327.5" cy="461" r="2.2" fill="#6a3a98"/>
<circle cx="327.1" cy="460.6" r="1.1" fill="#9a68b8" opacity="0.5"/>
<circle cx="342.7" cy="460.5" r="3.2" fill="#7040a0"/>
<circle cx="342.1" cy="459.9" r="1.6" fill="#9a68b8" opacity="0.5"/>
<circle cx="320.3" cy="477.8" r="4" fill="#7040a0"/>
<circle cx="319.5" cy="477.0" r="2.0" fill="#9a68b8" opacity="0.5"/>
<ellipse cx="338.4" cy="499" rx="4" ry="4.4" fill="#8a58b2"/>
</g></g>
<rect x="212.1" y="402.1" width="146" height="109.6" fill="none" stroke="#3a3a3a" stroke-width="1.4"/>
</g>
</svg>
</body></html>
